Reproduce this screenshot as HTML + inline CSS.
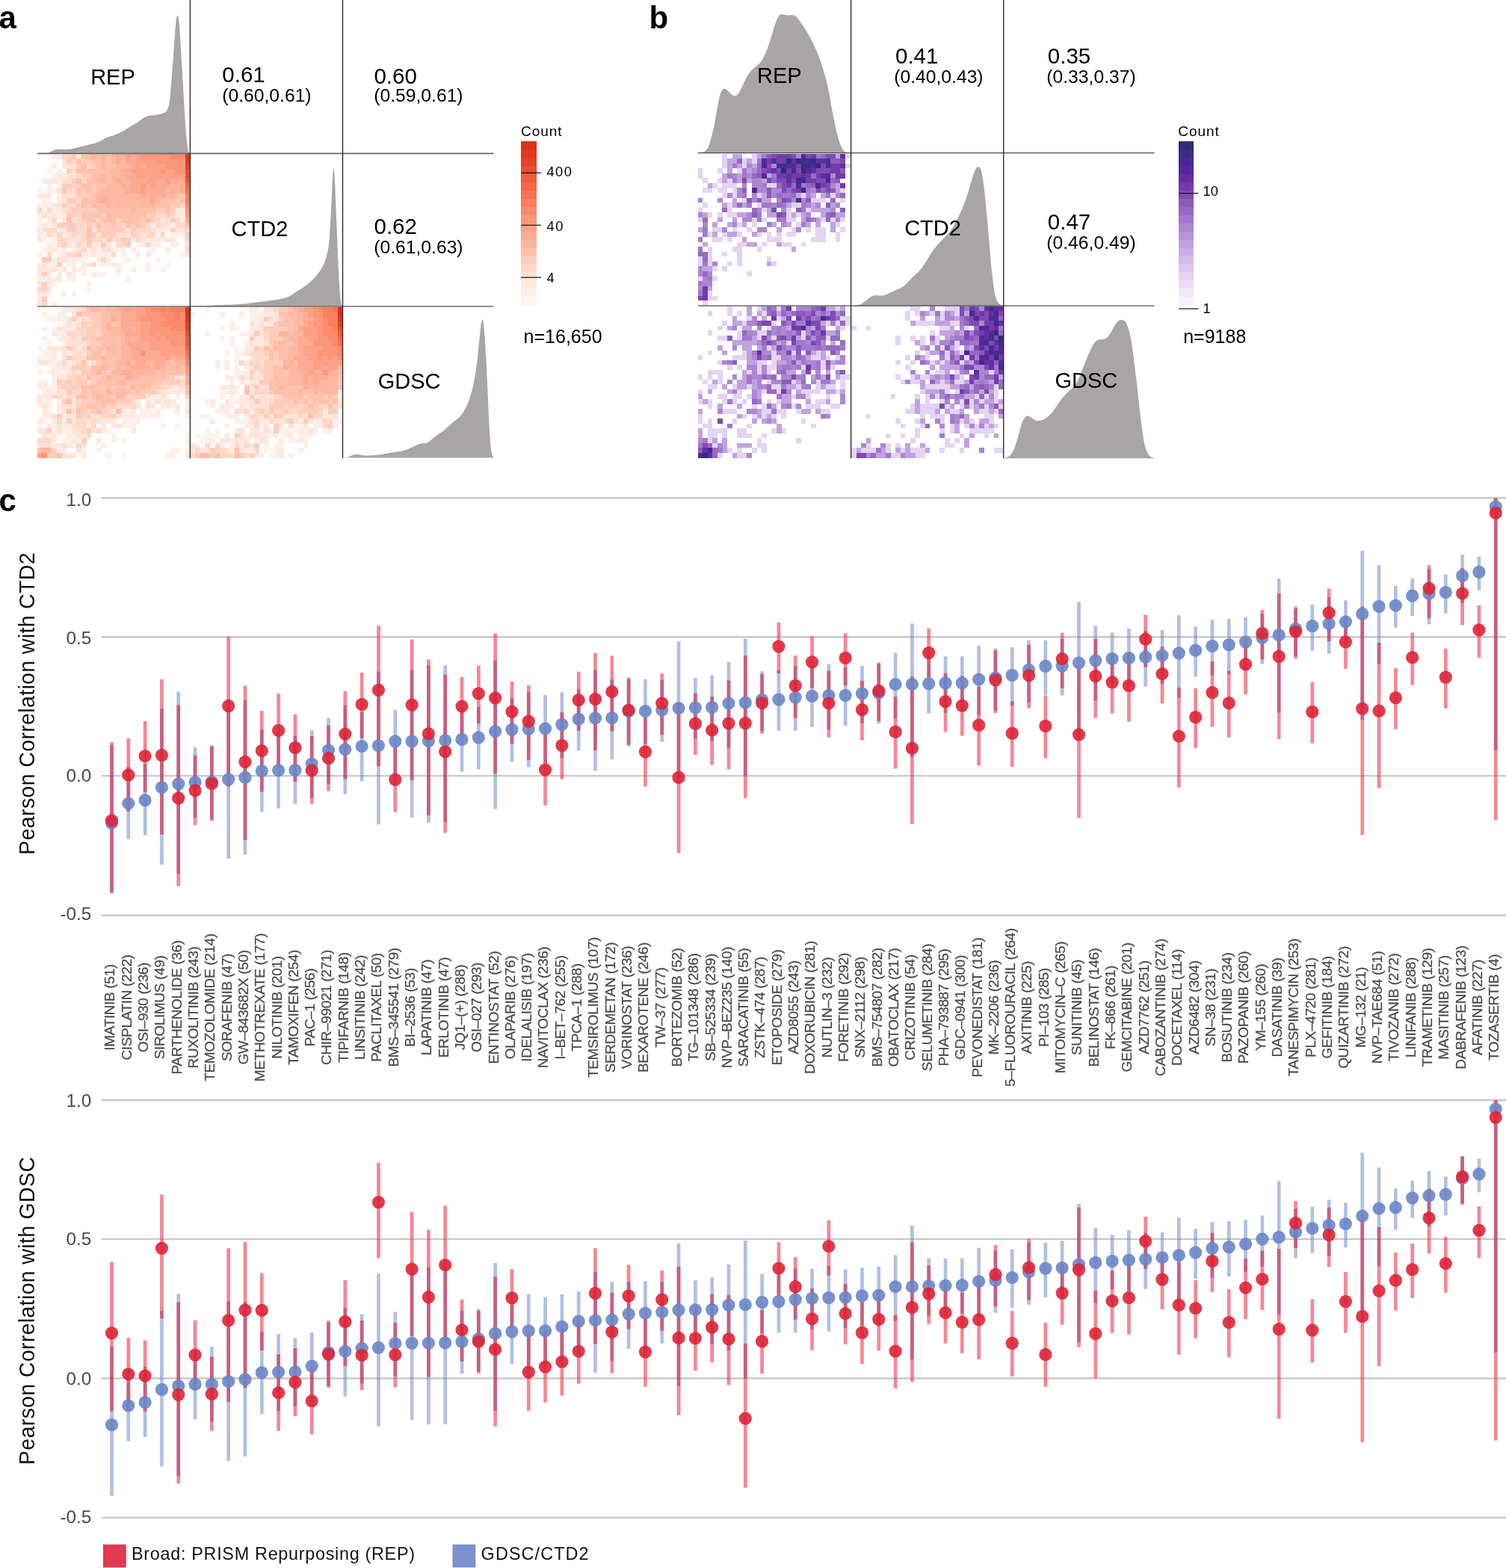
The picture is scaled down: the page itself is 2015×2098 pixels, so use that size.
<!DOCTYPE html>
<html><head><meta charset="utf-8"><title>Figure</title>
<style>html,body{margin:0;padding:0;background:#fff}svg{display:block}text{font-family:"Liberation Sans", sans-serif}</style></head><body>
<svg width="2015" height="2098" viewBox="0 0 2015 2098">
<rect width="2015" height="2098" fill="#fff"/>
<g shape-rendering="crispEdges">
<path fill="#feefe8" d="M69.3 206.0h6.75v6.72h-6.75zM75.9 206.0h6.75v6.72h-6.75zM69.3 219.1h6.75v6.72h-6.75zM62.7 225.7h6.75v6.72h-6.75zM75.9 225.7h6.75v6.72h-6.75zM69.3 232.3h6.75v6.72h-6.75zM62.7 245.4h6.75v6.72h-6.75zM75.9 245.4h6.75v6.72h-6.75zM49.5 252.0h6.75v6.72h-6.75zM62.7 252.0h6.75v6.72h-6.75zM69.3 252.0h6.75v6.72h-6.75zM75.9 258.5h6.75v6.72h-6.75zM56.1 265.1h6.75v6.72h-6.75zM62.7 265.1h6.75v6.72h-6.75zM49.5 271.7h6.75v6.72h-6.75zM56.1 271.7h6.75v6.72h-6.75zM62.7 271.7h6.75v6.72h-6.75zM56.1 278.2h6.75v6.72h-6.75zM69.3 278.2h6.75v6.72h-6.75zM49.5 284.8h6.75v6.72h-6.75zM75.9 284.8h6.75v6.72h-6.75zM241.0 284.8h6.75v6.72h-6.75zM49.5 291.4h6.75v6.72h-6.75zM49.5 297.9h6.75v6.72h-6.75zM62.7 297.9h6.75v6.72h-6.75zM227.8 297.9h6.75v6.72h-6.75zM75.9 304.5h6.75v6.72h-6.75zM221.2 304.5h6.75v6.72h-6.75zM56.1 311.1h6.75v6.72h-6.75zM208.0 311.1h6.75v6.72h-6.75zM227.8 311.1h6.75v6.72h-6.75zM234.4 311.1h6.75v6.72h-6.75zM241.0 311.1h6.75v6.72h-6.75zM56.1 317.7h6.75v6.72h-6.75zM69.3 317.7h6.75v6.72h-6.75zM194.8 317.7h6.75v6.72h-6.75zM214.6 317.7h6.75v6.72h-6.75zM69.3 324.2h6.75v6.72h-6.75zM95.7 324.2h6.75v6.72h-6.75zM181.5 324.2h6.75v6.72h-6.75zM188.2 324.2h6.75v6.72h-6.75zM201.4 324.2h6.75v6.72h-6.75zM208.0 324.2h6.75v6.72h-6.75zM227.8 324.2h6.75v6.72h-6.75zM234.4 324.2h6.75v6.72h-6.75zM56.1 330.8h6.75v6.72h-6.75zM75.9 330.8h6.75v6.72h-6.75zM95.7 330.8h6.75v6.72h-6.75zM115.5 330.8h6.75v6.72h-6.75zM128.7 330.8h6.75v6.72h-6.75zM148.5 330.8h6.75v6.72h-6.75zM155.1 330.8h6.75v6.72h-6.75zM161.7 330.8h6.75v6.72h-6.75zM174.9 330.8h6.75v6.72h-6.75zM201.4 330.8h6.75v6.72h-6.75zM49.5 337.4h6.75v6.72h-6.75zM75.9 337.4h6.75v6.72h-6.75zM115.5 337.4h6.75v6.72h-6.75zM128.7 337.4h6.75v6.72h-6.75zM135.3 337.4h6.75v6.72h-6.75zM141.9 337.4h6.75v6.72h-6.75zM161.7 337.4h6.75v6.72h-6.75zM241.0 337.4h6.75v6.72h-6.75zM69.3 343.9h6.75v6.72h-6.75zM89.1 343.9h6.75v6.72h-6.75zM102.3 343.9h6.75v6.72h-6.75zM108.9 343.9h6.75v6.72h-6.75zM141.9 343.9h6.75v6.72h-6.75zM168.3 343.9h6.75v6.72h-6.75zM208.0 343.9h6.75v6.72h-6.75zM62.7 350.5h6.75v6.72h-6.75zM69.3 350.5h6.75v6.72h-6.75zM89.1 350.5h6.75v6.72h-6.75zM95.7 350.5h6.75v6.72h-6.75zM135.3 350.5h6.75v6.72h-6.75zM141.9 350.5h6.75v6.72h-6.75zM155.1 350.5h6.75v6.72h-6.75zM194.8 350.5h6.75v6.72h-6.75zM221.2 350.5h6.75v6.72h-6.75zM75.9 357.1h6.75v6.72h-6.75zM102.3 357.1h6.75v6.72h-6.75zM108.9 357.1h6.75v6.72h-6.75zM174.9 357.1h6.75v6.72h-6.75zM194.8 357.1h6.75v6.72h-6.75zM214.6 357.1h6.75v6.72h-6.75zM95.7 363.6h6.75v6.72h-6.75zM108.9 363.6h6.75v6.72h-6.75zM128.7 363.6h6.75v6.72h-6.75zM135.3 363.6h6.75v6.72h-6.75zM155.1 363.6h6.75v6.72h-6.75zM49.5 370.2h6.75v6.72h-6.75zM56.1 370.2h6.75v6.72h-6.75zM89.1 370.2h6.75v6.72h-6.75zM95.7 370.2h6.75v6.72h-6.75zM168.3 370.2h6.75v6.72h-6.75zM69.3 376.8h6.75v6.72h-6.75zM115.5 376.8h6.75v6.72h-6.75zM115.5 383.3h6.75v6.72h-6.75zM62.7 389.9h6.75v6.72h-6.75zM95.7 389.9h6.75v6.72h-6.75zM69.3 403.0h6.75v6.72h-6.75zM56.1 417.0h6.75v6.66h-6.75zM75.9 417.0h6.75v6.66h-6.75zM82.5 417.0h6.75v6.66h-6.75zM62.7 423.5h6.75v6.66h-6.75zM69.3 423.5h6.75v6.66h-6.75zM75.9 423.5h6.75v6.66h-6.75zM82.5 423.5h6.75v6.66h-6.75zM82.5 430.0h6.75v6.66h-6.75zM56.1 436.6h6.75v6.66h-6.75zM69.3 436.6h6.75v6.66h-6.75zM75.9 443.1h6.75v6.66h-6.75zM56.1 449.6h6.75v6.66h-6.75zM62.7 456.1h6.75v6.66h-6.75zM82.5 456.1h6.75v6.66h-6.75zM49.5 462.6h6.75v6.66h-6.75zM56.1 469.1h6.75v6.66h-6.75zM62.7 469.1h6.75v6.66h-6.75zM89.1 469.1h6.75v6.66h-6.75zM49.5 475.6h6.75v6.66h-6.75zM56.1 475.6h6.75v6.66h-6.75zM62.7 475.6h6.75v6.66h-6.75zM69.3 475.6h6.75v6.66h-6.75zM69.3 482.1h6.75v6.66h-6.75zM89.1 482.1h6.75v6.66h-6.75zM69.3 488.7h6.75v6.66h-6.75zM49.5 495.2h6.75v6.66h-6.75zM62.7 495.2h6.75v6.66h-6.75zM75.9 495.2h6.75v6.66h-6.75zM82.5 495.2h6.75v6.66h-6.75zM69.3 501.7h6.75v6.66h-6.75zM49.5 508.2h6.75v6.66h-6.75zM56.1 508.2h6.75v6.66h-6.75zM69.3 508.2h6.75v6.66h-6.75zM62.7 514.7h6.75v6.66h-6.75zM69.3 514.7h6.75v6.66h-6.75zM56.1 521.2h6.75v6.66h-6.75zM69.3 521.2h6.75v6.66h-6.75zM201.4 527.7h6.75v6.66h-6.75zM208.0 527.7h6.75v6.66h-6.75zM221.2 527.7h6.75v6.66h-6.75zM234.4 527.7h6.75v6.66h-6.75zM56.1 534.2h6.75v6.66h-6.75zM75.9 534.2h6.75v6.66h-6.75zM201.4 534.2h6.75v6.66h-6.75zM49.5 540.8h6.75v6.66h-6.75zM62.7 540.8h6.75v6.66h-6.75zM227.8 540.8h6.75v6.66h-6.75zM62.7 547.3h6.75v6.66h-6.75zM75.9 547.3h6.75v6.66h-6.75zM161.7 547.3h6.75v6.66h-6.75zM168.3 547.3h6.75v6.66h-6.75zM188.2 547.3h6.75v6.66h-6.75zM194.8 547.3h6.75v6.66h-6.75zM208.0 547.3h6.75v6.66h-6.75zM56.1 553.8h6.75v6.66h-6.75zM181.5 553.8h6.75v6.66h-6.75zM188.2 553.8h6.75v6.66h-6.75zM194.8 553.8h6.75v6.66h-6.75zM208.0 553.8h6.75v6.66h-6.75zM247.6 553.8h6.75v6.66h-6.75zM56.1 560.3h6.75v6.66h-6.75zM82.5 560.3h6.75v6.66h-6.75zM161.7 560.3h6.75v6.66h-6.75zM168.3 560.3h6.75v6.66h-6.75zM174.9 560.3h6.75v6.66h-6.75zM181.5 560.3h6.75v6.66h-6.75zM49.5 566.8h6.75v6.66h-6.75zM69.3 566.8h6.75v6.66h-6.75zM161.7 566.8h6.75v6.66h-6.75zM168.3 566.8h6.75v6.66h-6.75zM174.9 566.8h6.75v6.66h-6.75zM214.6 566.8h6.75v6.66h-6.75zM234.4 566.8h6.75v6.66h-6.75zM69.3 573.3h6.75v6.66h-6.75zM82.5 573.3h6.75v6.66h-6.75zM89.1 573.3h6.75v6.66h-6.75zM141.9 573.3h6.75v6.66h-6.75zM62.7 579.8h6.75v6.66h-6.75zM75.9 579.8h6.75v6.66h-6.75zM95.7 579.8h6.75v6.66h-6.75zM148.5 579.8h6.75v6.66h-6.75zM247.6 579.8h6.75v6.66h-6.75zM82.5 586.3h6.75v6.66h-6.75zM89.1 586.3h6.75v6.66h-6.75zM102.3 586.3h6.75v6.66h-6.75zM148.5 586.3h6.75v6.66h-6.75zM161.7 586.3h6.75v6.66h-6.75zM247.6 586.3h6.75v6.66h-6.75zM95.7 592.9h6.75v6.66h-6.75zM135.3 592.9h6.75v6.66h-6.75zM247.6 592.9h6.75v6.66h-6.75zM75.9 599.4h6.75v6.66h-6.75zM108.9 599.4h6.75v6.66h-6.75zM128.7 599.4h6.75v6.66h-6.75zM227.8 599.4h6.75v6.66h-6.75zM234.4 599.4h6.75v6.66h-6.75zM247.6 599.4h6.75v6.66h-6.75zM141.9 605.9h6.75v6.66h-6.75zM161.7 605.9h6.75v6.66h-6.75zM221.2 605.9h6.75v6.66h-6.75zM227.8 605.9h6.75v6.66h-6.75zM274.3 410.5h6.72v6.66h-6.72zM340.0 410.5h6.72v6.66h-6.72zM254.6 417.0h6.72v6.66h-6.72zM294.0 417.0h6.72v6.66h-6.72zM320.3 417.0h6.72v6.66h-6.72zM333.5 417.0h6.72v6.66h-6.72zM340.0 417.0h6.72v6.66h-6.72zM333.5 423.5h6.72v6.66h-6.72zM307.2 430.0h6.72v6.66h-6.72zM340.0 430.0h6.72v6.66h-6.72zM353.2 430.0h6.72v6.66h-6.72zM294.0 436.6h6.72v6.66h-6.72zM307.2 436.6h6.72v6.66h-6.72zM313.7 436.6h6.72v6.66h-6.72zM274.3 443.1h6.72v6.66h-6.72zM320.3 443.1h6.72v6.66h-6.72zM326.9 443.1h6.72v6.66h-6.72zM294.0 449.6h6.72v6.66h-6.72zM307.2 449.6h6.72v6.66h-6.72zM307.2 456.1h6.72v6.66h-6.72zM326.9 456.1h6.72v6.66h-6.72zM313.7 462.6h6.72v6.66h-6.72zM333.5 462.6h6.72v6.66h-6.72zM300.6 469.1h6.72v6.66h-6.72zM313.7 469.1h6.72v6.66h-6.72zM320.3 469.1h6.72v6.66h-6.72zM313.7 475.6h6.72v6.66h-6.72zM300.6 482.1h6.72v6.66h-6.72zM313.7 482.1h6.72v6.66h-6.72zM287.5 488.7h6.72v6.66h-6.72zM313.7 488.7h6.72v6.66h-6.72zM313.7 495.2h6.72v6.66h-6.72zM320.3 495.2h6.72v6.66h-6.72zM326.9 495.2h6.72v6.66h-6.72zM307.2 501.7h6.72v6.66h-6.72zM313.7 501.7h6.72v6.66h-6.72zM307.2 508.2h6.72v6.66h-6.72zM326.9 508.2h6.72v6.66h-6.72zM313.7 514.7h6.72v6.66h-6.72zM294.0 521.2h6.72v6.66h-6.72zM300.6 521.2h6.72v6.66h-6.72zM313.7 521.2h6.72v6.66h-6.72zM294.0 527.7h6.72v6.66h-6.72zM307.2 527.7h6.72v6.66h-6.72zM451.7 527.7h6.72v6.66h-6.72zM274.3 534.2h6.72v6.66h-6.72zM307.2 534.2h6.72v6.66h-6.72zM313.7 534.2h6.72v6.66h-6.72zM280.9 540.8h6.72v6.66h-6.72zM300.6 540.8h6.72v6.66h-6.72zM307.2 540.8h6.72v6.66h-6.72zM326.9 540.8h6.72v6.66h-6.72zM287.5 547.3h6.72v6.66h-6.72zM294.0 547.3h6.72v6.66h-6.72zM300.6 547.3h6.72v6.66h-6.72zM333.5 547.3h6.72v6.66h-6.72zM267.7 553.8h6.72v6.66h-6.72zM274.3 553.8h6.72v6.66h-6.72zM300.6 553.8h6.72v6.66h-6.72zM313.7 553.8h6.72v6.66h-6.72zM313.7 560.3h6.72v6.66h-6.72zM320.3 560.3h6.72v6.66h-6.72zM326.9 560.3h6.72v6.66h-6.72zM418.9 560.3h6.72v6.66h-6.72zM445.2 560.3h6.72v6.66h-6.72zM451.7 560.3h6.72v6.66h-6.72zM300.6 566.8h6.72v6.66h-6.72zM333.5 566.8h6.72v6.66h-6.72zM346.6 566.8h6.72v6.66h-6.72zM392.6 566.8h6.72v6.66h-6.72zM399.2 566.8h6.72v6.66h-6.72zM418.9 566.8h6.72v6.66h-6.72zM425.4 566.8h6.72v6.66h-6.72zM445.2 566.8h6.72v6.66h-6.72zM274.3 573.3h6.72v6.66h-6.72zM287.5 573.3h6.72v6.66h-6.72zM346.6 573.3h6.72v6.66h-6.72zM359.7 573.3h6.72v6.66h-6.72zM372.9 573.3h6.72v6.66h-6.72zM379.4 573.3h6.72v6.66h-6.72zM386.0 573.3h6.72v6.66h-6.72zM392.6 573.3h6.72v6.66h-6.72zM405.7 573.3h6.72v6.66h-6.72zM418.9 573.3h6.72v6.66h-6.72zM432.0 573.3h6.72v6.66h-6.72zM261.2 579.8h6.72v6.66h-6.72zM274.3 579.8h6.72v6.66h-6.72zM280.9 579.8h6.72v6.66h-6.72zM287.5 579.8h6.72v6.66h-6.72zM326.9 579.8h6.72v6.66h-6.72zM359.7 579.8h6.72v6.66h-6.72zM379.4 579.8h6.72v6.66h-6.72zM399.2 579.8h6.72v6.66h-6.72zM405.7 579.8h6.72v6.66h-6.72zM412.3 579.8h6.72v6.66h-6.72zM267.7 586.3h6.72v6.66h-6.72zM274.3 586.3h6.72v6.66h-6.72zM280.9 586.3h6.72v6.66h-6.72zM340.0 586.3h6.72v6.66h-6.72zM386.0 586.3h6.72v6.66h-6.72zM392.6 586.3h6.72v6.66h-6.72zM405.7 586.3h6.72v6.66h-6.72zM261.2 592.9h6.72v6.66h-6.72zM307.2 592.9h6.72v6.66h-6.72zM353.2 592.9h6.72v6.66h-6.72zM366.3 592.9h6.72v6.66h-6.72zM372.9 592.9h6.72v6.66h-6.72zM405.7 592.9h6.72v6.66h-6.72zM326.9 599.4h6.72v6.66h-6.72zM333.5 599.4h6.72v6.66h-6.72zM353.2 599.4h6.72v6.66h-6.72zM366.3 599.4h6.72v6.66h-6.72zM399.2 599.4h6.72v6.66h-6.72zM346.6 605.9h6.72v6.66h-6.72zM359.7 605.9h6.72v6.66h-6.72zM366.3 605.9h6.72v6.66h-6.72zM386.0 605.9h6.72v6.66h-6.72z"/>
<path fill="#fed8c9" d="M82.5 206.0h6.75v6.72h-6.75zM89.1 206.0h6.75v6.72h-6.75zM95.7 212.6h6.75v6.72h-6.75zM115.5 219.1h6.75v6.72h-6.75zM95.7 225.7h6.75v6.72h-6.75zM102.3 232.3h6.75v6.72h-6.75zM108.9 238.8h6.75v6.72h-6.75zM95.7 245.4h6.75v6.72h-6.75zM89.1 252.0h6.75v6.72h-6.75zM102.3 265.1h6.75v6.72h-6.75zM89.1 271.7h6.75v6.72h-6.75zM95.7 271.7h6.75v6.72h-6.75zM241.0 271.7h6.75v6.72h-6.75zM49.5 278.2h6.75v6.72h-6.75zM62.7 278.2h6.75v6.72h-6.75zM89.1 278.2h6.75v6.72h-6.75zM102.3 284.8h6.75v6.72h-6.75zM208.0 284.8h6.75v6.72h-6.75zM214.6 284.8h6.75v6.72h-6.75zM227.8 284.8h6.75v6.72h-6.75zM69.3 291.4h6.75v6.72h-6.75zM102.3 291.4h6.75v6.72h-6.75zM128.7 291.4h6.75v6.72h-6.75zM208.0 291.4h6.75v6.72h-6.75zM234.4 291.4h6.75v6.72h-6.75zM102.3 297.9h6.75v6.72h-6.75zM108.9 297.9h6.75v6.72h-6.75zM122.1 297.9h6.75v6.72h-6.75zM161.7 297.9h6.75v6.72h-6.75zM194.8 297.9h6.75v6.72h-6.75zM208.0 297.9h6.75v6.72h-6.75zM234.4 297.9h6.75v6.72h-6.75zM241.0 297.9h6.75v6.72h-6.75zM62.7 304.5h6.75v6.72h-6.75zM69.3 304.5h6.75v6.72h-6.75zM102.3 304.5h6.75v6.72h-6.75zM108.9 304.5h6.75v6.72h-6.75zM181.5 304.5h6.75v6.72h-6.75zM188.2 304.5h6.75v6.72h-6.75zM194.8 304.5h6.75v6.72h-6.75zM247.6 304.5h6.75v6.72h-6.75zM62.7 311.1h6.75v6.72h-6.75zM75.9 311.1h6.75v6.72h-6.75zM95.7 311.1h6.75v6.72h-6.75zM108.9 311.1h6.75v6.72h-6.75zM161.7 311.1h6.75v6.72h-6.75zM181.5 311.1h6.75v6.72h-6.75zM194.8 311.1h6.75v6.72h-6.75zM201.4 311.1h6.75v6.72h-6.75zM214.6 311.1h6.75v6.72h-6.75zM75.9 317.7h6.75v6.72h-6.75zM82.5 317.7h6.75v6.72h-6.75zM108.9 317.7h6.75v6.72h-6.75zM122.1 317.7h6.75v6.72h-6.75zM128.7 317.7h6.75v6.72h-6.75zM155.1 317.7h6.75v6.72h-6.75zM181.5 317.7h6.75v6.72h-6.75zM247.6 317.7h6.75v6.72h-6.75zM75.9 324.2h6.75v6.72h-6.75zM102.3 324.2h6.75v6.72h-6.75zM155.1 324.2h6.75v6.72h-6.75zM161.7 324.2h6.75v6.72h-6.75zM194.8 324.2h6.75v6.72h-6.75zM108.9 330.8h6.75v6.72h-6.75zM247.6 330.8h6.75v6.72h-6.75zM62.7 337.4h6.75v6.72h-6.75zM89.1 337.4h6.75v6.72h-6.75zM95.7 337.4h6.75v6.72h-6.75zM148.5 337.4h6.75v6.72h-6.75zM135.3 343.9h6.75v6.72h-6.75zM122.1 350.5h6.75v6.72h-6.75zM49.5 383.3h6.75v6.72h-6.75zM56.1 403.0h6.75v6.72h-6.75zM108.9 410.5h6.75v6.66h-6.75zM108.9 423.5h6.75v6.66h-6.75zM115.5 430.0h6.75v6.66h-6.75zM102.3 436.6h6.75v6.66h-6.75zM108.9 436.6h6.75v6.66h-6.75zM89.1 443.1h6.75v6.66h-6.75zM95.7 443.1h6.75v6.66h-6.75zM102.3 443.1h6.75v6.66h-6.75zM108.9 443.1h6.75v6.66h-6.75zM128.7 443.1h6.75v6.66h-6.75zM95.7 449.6h6.75v6.66h-6.75zM115.5 456.1h6.75v6.66h-6.75zM95.7 462.6h6.75v6.66h-6.75zM108.9 462.6h6.75v6.66h-6.75zM102.3 469.1h6.75v6.66h-6.75zM95.7 475.6h6.75v6.66h-6.75zM102.3 475.6h6.75v6.66h-6.75zM108.9 475.6h6.75v6.66h-6.75zM82.5 482.1h6.75v6.66h-6.75zM102.3 482.1h6.75v6.66h-6.75zM122.1 482.1h6.75v6.66h-6.75zM115.5 488.7h6.75v6.66h-6.75zM95.7 495.2h6.75v6.66h-6.75zM89.1 501.7h6.75v6.66h-6.75zM95.7 501.7h6.75v6.66h-6.75zM108.9 501.7h6.75v6.66h-6.75zM82.5 508.2h6.75v6.66h-6.75zM95.7 508.2h6.75v6.66h-6.75zM115.5 508.2h6.75v6.66h-6.75zM241.0 508.2h6.75v6.66h-6.75zM75.9 514.7h6.75v6.66h-6.75zM89.1 514.7h6.75v6.66h-6.75zM214.6 514.7h6.75v6.66h-6.75zM221.2 514.7h6.75v6.66h-6.75zM95.7 521.2h6.75v6.66h-6.75zM102.3 521.2h6.75v6.66h-6.75zM208.0 521.2h6.75v6.66h-6.75zM69.3 527.7h6.75v6.66h-6.75zM75.9 527.7h6.75v6.66h-6.75zM89.1 527.7h6.75v6.66h-6.75zM168.3 527.7h6.75v6.66h-6.75zM247.6 527.7h6.75v6.66h-6.75zM102.3 534.2h6.75v6.66h-6.75zM174.9 534.2h6.75v6.66h-6.75zM141.9 540.8h6.75v6.66h-6.75zM161.7 540.8h6.75v6.66h-6.75zM174.9 540.8h6.75v6.66h-6.75zM115.5 547.3h6.75v6.66h-6.75zM141.9 547.3h6.75v6.66h-6.75zM108.9 553.8h6.75v6.66h-6.75zM135.3 553.8h6.75v6.66h-6.75zM141.9 553.8h6.75v6.66h-6.75zM75.9 560.3h6.75v6.66h-6.75zM102.3 560.3h6.75v6.66h-6.75zM108.9 560.3h6.75v6.66h-6.75zM122.1 560.3h6.75v6.66h-6.75zM102.3 566.8h6.75v6.66h-6.75zM108.9 566.8h6.75v6.66h-6.75zM122.1 566.8h6.75v6.66h-6.75zM108.9 573.3h6.75v6.66h-6.75zM128.7 573.3h6.75v6.66h-6.75zM115.5 579.8h6.75v6.66h-6.75zM49.5 586.3h6.75v6.66h-6.75zM56.1 586.3h6.75v6.66h-6.75zM62.7 586.3h6.75v6.66h-6.75zM102.3 592.9h6.75v6.66h-6.75zM366.3 410.5h6.72v6.66h-6.72zM353.2 443.1h6.72v6.66h-6.72zM353.2 449.6h6.72v6.66h-6.72zM346.6 462.6h6.72v6.66h-6.72zM333.5 469.1h6.72v6.66h-6.72zM340.0 469.1h6.72v6.66h-6.72zM346.6 469.1h6.72v6.66h-6.72zM340.0 475.6h6.72v6.66h-6.72zM346.6 475.6h6.72v6.66h-6.72zM353.2 475.6h6.72v6.66h-6.72zM320.3 482.1h6.72v6.66h-6.72zM333.5 482.1h6.72v6.66h-6.72zM340.0 482.1h6.72v6.66h-6.72zM346.6 488.7h6.72v6.66h-6.72zM346.6 495.2h6.72v6.66h-6.72zM320.3 501.7h6.72v6.66h-6.72zM333.5 501.7h6.72v6.66h-6.72zM340.0 521.2h6.72v6.66h-6.72zM346.6 521.2h6.72v6.66h-6.72zM353.2 521.2h6.72v6.66h-6.72zM366.3 527.7h6.72v6.66h-6.72zM359.7 534.2h6.72v6.66h-6.72zM379.4 540.8h6.72v6.66h-6.72zM399.2 540.8h6.72v6.66h-6.72zM425.4 540.8h6.72v6.66h-6.72zM432.0 540.8h6.72v6.66h-6.72zM445.2 540.8h6.72v6.66h-6.72zM313.7 547.3h6.72v6.66h-6.72zM326.9 547.3h6.72v6.66h-6.72zM340.0 547.3h6.72v6.66h-6.72zM353.2 547.3h6.72v6.66h-6.72zM366.3 547.3h6.72v6.66h-6.72zM372.9 547.3h6.72v6.66h-6.72zM386.0 547.3h6.72v6.66h-6.72zM392.6 547.3h6.72v6.66h-6.72zM425.4 547.3h6.72v6.66h-6.72zM333.5 553.8h6.72v6.66h-6.72zM340.0 553.8h6.72v6.66h-6.72zM399.2 553.8h6.72v6.66h-6.72zM418.9 553.8h6.72v6.66h-6.72zM425.4 553.8h6.72v6.66h-6.72zM340.0 560.3h6.72v6.66h-6.72zM359.7 560.3h6.72v6.66h-6.72zM379.4 560.3h6.72v6.66h-6.72zM432.0 560.3h6.72v6.66h-6.72zM438.6 560.3h6.72v6.66h-6.72zM340.0 566.8h6.72v6.66h-6.72zM432.0 566.8h6.72v6.66h-6.72zM274.3 592.9h6.72v6.66h-6.72zM287.5 592.9h6.72v6.66h-6.72zM313.7 592.9h6.72v6.66h-6.72zM326.9 592.9h6.72v6.66h-6.72zM261.2 599.4h6.72v6.66h-6.72zM287.5 599.4h6.72v6.66h-6.72zM294.0 599.4h6.72v6.66h-6.72zM340.0 599.4h6.72v6.66h-6.72zM254.6 605.9h6.72v6.66h-6.72zM294.0 605.9h6.72v6.66h-6.72zM300.6 605.9h6.72v6.66h-6.72zM307.2 605.9h6.72v6.66h-6.72zM326.9 605.9h6.72v6.66h-6.72z"/>
<path fill="#feccba" d="M95.7 206.0h6.75v6.72h-6.75zM89.1 212.6h6.75v6.72h-6.75zM108.9 212.6h6.75v6.72h-6.75zM115.5 212.6h6.75v6.72h-6.75zM102.3 219.1h6.75v6.72h-6.75zM122.1 219.1h6.75v6.72h-6.75zM89.1 225.7h6.75v6.72h-6.75zM108.9 232.3h6.75v6.72h-6.75zM115.5 232.3h6.75v6.72h-6.75zM95.7 238.8h6.75v6.72h-6.75zM82.5 245.4h6.75v6.72h-6.75zM89.1 245.4h6.75v6.72h-6.75zM102.3 245.4h6.75v6.72h-6.75zM122.1 245.4h6.75v6.72h-6.75zM82.5 252.0h6.75v6.72h-6.75zM108.9 252.0h6.75v6.72h-6.75zM122.1 252.0h6.75v6.72h-6.75zM102.3 258.5h6.75v6.72h-6.75zM108.9 258.5h6.75v6.72h-6.75zM115.5 258.5h6.75v6.72h-6.75zM241.0 258.5h6.75v6.72h-6.75zM89.1 265.1h6.75v6.72h-6.75zM95.7 265.1h6.75v6.72h-6.75zM234.4 265.1h6.75v6.72h-6.75zM82.5 271.7h6.75v6.72h-6.75zM102.3 271.7h6.75v6.72h-6.75zM115.5 271.7h6.75v6.72h-6.75zM227.8 271.7h6.75v6.72h-6.75zM234.4 271.7h6.75v6.72h-6.75zM95.7 278.2h6.75v6.72h-6.75zM102.3 278.2h6.75v6.72h-6.75zM108.9 278.2h6.75v6.72h-6.75zM115.5 278.2h6.75v6.72h-6.75zM122.1 278.2h6.75v6.72h-6.75zM208.0 278.2h6.75v6.72h-6.75zM214.6 278.2h6.75v6.72h-6.75zM227.8 278.2h6.75v6.72h-6.75zM89.1 284.8h6.75v6.72h-6.75zM95.7 284.8h6.75v6.72h-6.75zM115.5 284.8h6.75v6.72h-6.75zM135.3 284.8h6.75v6.72h-6.75zM194.8 284.8h6.75v6.72h-6.75zM201.4 284.8h6.75v6.72h-6.75zM221.2 284.8h6.75v6.72h-6.75zM108.9 291.4h6.75v6.72h-6.75zM155.1 291.4h6.75v6.72h-6.75zM188.2 291.4h6.75v6.72h-6.75zM201.4 291.4h6.75v6.72h-6.75zM227.8 291.4h6.75v6.72h-6.75zM75.9 297.9h6.75v6.72h-6.75zM82.5 297.9h6.75v6.72h-6.75zM89.1 297.9h6.75v6.72h-6.75zM95.7 297.9h6.75v6.72h-6.75zM115.5 297.9h6.75v6.72h-6.75zM135.3 297.9h6.75v6.72h-6.75zM141.9 297.9h6.75v6.72h-6.75zM155.1 297.9h6.75v6.72h-6.75zM174.9 297.9h6.75v6.72h-6.75zM188.2 297.9h6.75v6.72h-6.75zM89.1 304.5h6.75v6.72h-6.75zM95.7 304.5h6.75v6.72h-6.75zM128.7 304.5h6.75v6.72h-6.75zM135.3 304.5h6.75v6.72h-6.75zM141.9 304.5h6.75v6.72h-6.75zM148.5 304.5h6.75v6.72h-6.75zM155.1 304.5h6.75v6.72h-6.75zM161.7 304.5h6.75v6.72h-6.75zM174.9 304.5h6.75v6.72h-6.75zM227.8 304.5h6.75v6.72h-6.75zM122.1 311.1h6.75v6.72h-6.75zM135.3 311.1h6.75v6.72h-6.75zM141.9 311.1h6.75v6.72h-6.75zM148.5 311.1h6.75v6.72h-6.75zM174.9 311.1h6.75v6.72h-6.75zM247.6 311.1h6.75v6.72h-6.75zM115.5 317.7h6.75v6.72h-6.75zM141.9 317.7h6.75v6.72h-6.75zM161.7 317.7h6.75v6.72h-6.75zM168.3 317.7h6.75v6.72h-6.75zM82.5 324.2h6.75v6.72h-6.75zM115.5 324.2h6.75v6.72h-6.75zM135.3 324.2h6.75v6.72h-6.75zM168.3 324.2h6.75v6.72h-6.75zM102.3 337.4h6.75v6.72h-6.75zM56.1 343.9h6.75v6.72h-6.75zM62.7 343.9h6.75v6.72h-6.75zM75.9 350.5h6.75v6.72h-6.75zM56.1 363.6h6.75v6.72h-6.75zM56.1 376.8h6.75v6.72h-6.75zM56.1 383.3h6.75v6.72h-6.75zM56.1 396.5h6.75v6.72h-6.75zM108.9 417.0h6.75v6.66h-6.75zM115.5 417.0h6.75v6.66h-6.75zM122.1 417.0h6.75v6.66h-6.75zM128.7 417.0h6.75v6.66h-6.75zM95.7 423.5h6.75v6.66h-6.75zM122.1 423.5h6.75v6.66h-6.75zM128.7 423.5h6.75v6.66h-6.75zM108.9 430.0h6.75v6.66h-6.75zM122.1 430.0h6.75v6.66h-6.75zM128.7 430.0h6.75v6.66h-6.75zM115.5 436.6h6.75v6.66h-6.75zM122.1 436.6h6.75v6.66h-6.75zM128.7 436.6h6.75v6.66h-6.75zM115.5 443.1h6.75v6.66h-6.75zM122.1 443.1h6.75v6.66h-6.75zM108.9 449.6h6.75v6.66h-6.75zM115.5 449.6h6.75v6.66h-6.75zM122.1 449.6h6.75v6.66h-6.75zM122.1 456.1h6.75v6.66h-6.75zM128.7 456.1h6.75v6.66h-6.75zM89.1 462.6h6.75v6.66h-6.75zM122.1 462.6h6.75v6.66h-6.75zM115.5 469.1h6.75v6.66h-6.75zM135.3 469.1h6.75v6.66h-6.75zM89.1 475.6h6.75v6.66h-6.75zM128.7 482.1h6.75v6.66h-6.75zM95.7 488.7h6.75v6.66h-6.75zM102.3 488.7h6.75v6.66h-6.75zM108.9 488.7h6.75v6.66h-6.75zM108.9 495.2h6.75v6.66h-6.75zM115.5 495.2h6.75v6.66h-6.75zM141.9 495.2h6.75v6.66h-6.75zM102.3 501.7h6.75v6.66h-6.75zM122.1 501.7h6.75v6.66h-6.75zM128.7 501.7h6.75v6.66h-6.75zM221.2 501.7h6.75v6.66h-6.75zM227.8 501.7h6.75v6.66h-6.75zM75.9 508.2h6.75v6.66h-6.75zM89.1 508.2h6.75v6.66h-6.75zM102.3 508.2h6.75v6.66h-6.75zM108.9 508.2h6.75v6.66h-6.75zM122.1 508.2h6.75v6.66h-6.75zM208.0 508.2h6.75v6.66h-6.75zM214.6 508.2h6.75v6.66h-6.75zM221.2 508.2h6.75v6.66h-6.75zM227.8 508.2h6.75v6.66h-6.75zM234.4 508.2h6.75v6.66h-6.75zM82.5 514.7h6.75v6.66h-6.75zM95.7 514.7h6.75v6.66h-6.75zM102.3 514.7h6.75v6.66h-6.75zM128.7 514.7h6.75v6.66h-6.75zM135.3 514.7h6.75v6.66h-6.75zM148.5 514.7h6.75v6.66h-6.75zM168.3 514.7h6.75v6.66h-6.75zM201.4 514.7h6.75v6.66h-6.75zM208.0 514.7h6.75v6.66h-6.75zM89.1 521.2h6.75v6.66h-6.75zM115.5 521.2h6.75v6.66h-6.75zM135.3 521.2h6.75v6.66h-6.75zM174.9 521.2h6.75v6.66h-6.75zM188.2 521.2h6.75v6.66h-6.75zM194.8 521.2h6.75v6.66h-6.75zM201.4 521.2h6.75v6.66h-6.75zM115.5 527.7h6.75v6.66h-6.75zM148.5 527.7h6.75v6.66h-6.75zM174.9 527.7h6.75v6.66h-6.75zM181.5 527.7h6.75v6.66h-6.75zM188.2 527.7h6.75v6.66h-6.75zM82.5 534.2h6.75v6.66h-6.75zM108.9 534.2h6.75v6.66h-6.75zM115.5 534.2h6.75v6.66h-6.75zM122.1 534.2h6.75v6.66h-6.75zM155.1 534.2h6.75v6.66h-6.75zM161.7 534.2h6.75v6.66h-6.75zM168.3 534.2h6.75v6.66h-6.75zM102.3 540.8h6.75v6.66h-6.75zM108.9 540.8h6.75v6.66h-6.75zM128.7 540.8h6.75v6.66h-6.75zM148.5 540.8h6.75v6.66h-6.75zM108.9 547.3h6.75v6.66h-6.75zM122.1 547.3h6.75v6.66h-6.75zM135.3 547.3h6.75v6.66h-6.75zM75.9 553.8h6.75v6.66h-6.75zM102.3 553.8h6.75v6.66h-6.75zM115.5 553.8h6.75v6.66h-6.75zM148.5 553.8h6.75v6.66h-6.75zM89.1 560.3h6.75v6.66h-6.75zM62.7 573.3h6.75v6.66h-6.75zM115.5 573.3h6.75v6.66h-6.75zM108.9 586.3h6.75v6.66h-6.75zM69.3 599.4h6.75v6.66h-6.75zM62.7 605.9h6.75v6.66h-6.75zM69.3 605.9h6.75v6.66h-6.75zM372.9 410.5h6.72v6.66h-6.72zM379.4 410.5h6.72v6.66h-6.72zM353.2 423.5h6.72v6.66h-6.72zM372.9 423.5h6.72v6.66h-6.72zM366.3 430.0h6.72v6.66h-6.72zM353.2 436.6h6.72v6.66h-6.72zM359.7 436.6h6.72v6.66h-6.72zM366.3 436.6h6.72v6.66h-6.72zM372.9 436.6h6.72v6.66h-6.72zM379.4 436.6h6.72v6.66h-6.72zM340.0 443.1h6.72v6.66h-6.72zM359.7 443.1h6.72v6.66h-6.72zM366.3 443.1h6.72v6.66h-6.72zM333.5 449.6h6.72v6.66h-6.72zM359.7 449.6h6.72v6.66h-6.72zM366.3 449.6h6.72v6.66h-6.72zM372.9 449.6h6.72v6.66h-6.72zM359.7 456.1h6.72v6.66h-6.72zM340.0 462.6h6.72v6.66h-6.72zM359.7 462.6h6.72v6.66h-6.72zM353.2 469.1h6.72v6.66h-6.72zM366.3 469.1h6.72v6.66h-6.72zM366.3 475.6h6.72v6.66h-6.72zM353.2 482.1h6.72v6.66h-6.72zM359.7 482.1h6.72v6.66h-6.72zM366.3 482.1h6.72v6.66h-6.72zM372.9 482.1h6.72v6.66h-6.72zM340.0 488.7h6.72v6.66h-6.72zM353.2 488.7h6.72v6.66h-6.72zM359.7 488.7h6.72v6.66h-6.72zM333.5 495.2h6.72v6.66h-6.72zM353.2 495.2h6.72v6.66h-6.72zM359.7 495.2h6.72v6.66h-6.72zM379.4 495.2h6.72v6.66h-6.72zM353.2 501.7h6.72v6.66h-6.72zM359.7 501.7h6.72v6.66h-6.72zM346.6 508.2h6.72v6.66h-6.72zM353.2 508.2h6.72v6.66h-6.72zM451.7 508.2h6.72v6.66h-6.72zM326.9 514.7h6.72v6.66h-6.72zM340.0 514.7h6.72v6.66h-6.72zM359.7 521.2h6.72v6.66h-6.72zM333.5 527.7h6.72v6.66h-6.72zM372.9 527.7h6.72v6.66h-6.72zM405.7 527.7h6.72v6.66h-6.72zM432.0 527.7h6.72v6.66h-6.72zM445.2 527.7h6.72v6.66h-6.72zM340.0 534.2h6.72v6.66h-6.72zM366.3 534.2h6.72v6.66h-6.72zM372.9 534.2h6.72v6.66h-6.72zM379.4 534.2h6.72v6.66h-6.72zM386.0 534.2h6.72v6.66h-6.72zM399.2 534.2h6.72v6.66h-6.72zM412.3 534.2h6.72v6.66h-6.72zM438.6 534.2h6.72v6.66h-6.72zM359.7 540.8h6.72v6.66h-6.72zM366.3 540.8h6.72v6.66h-6.72zM372.9 540.8h6.72v6.66h-6.72zM386.0 540.8h6.72v6.66h-6.72zM392.6 540.8h6.72v6.66h-6.72zM405.7 540.8h6.72v6.66h-6.72zM418.9 540.8h6.72v6.66h-6.72zM346.6 547.3h6.72v6.66h-6.72zM359.7 547.3h6.72v6.66h-6.72zM379.4 547.3h6.72v6.66h-6.72zM399.2 547.3h6.72v6.66h-6.72zM405.7 547.3h6.72v6.66h-6.72zM412.3 547.3h6.72v6.66h-6.72zM418.9 547.3h6.72v6.66h-6.72zM438.6 547.3h6.72v6.66h-6.72zM445.2 547.3h6.72v6.66h-6.72zM353.2 553.8h6.72v6.66h-6.72zM366.3 553.8h6.72v6.66h-6.72zM372.9 553.8h6.72v6.66h-6.72zM386.0 560.3h6.72v6.66h-6.72zM405.7 560.3h6.72v6.66h-6.72zM366.3 566.8h6.72v6.66h-6.72zM438.6 566.8h6.72v6.66h-6.72zM366.3 573.3h6.72v6.66h-6.72zM313.7 579.8h6.72v6.66h-6.72zM340.0 592.9h6.72v6.66h-6.72zM280.9 599.4h6.72v6.66h-6.72zM261.2 605.9h6.72v6.66h-6.72zM280.9 605.9h6.72v6.66h-6.72zM320.3 605.9h6.72v6.66h-6.72zM333.5 605.9h6.72v6.66h-6.72z"/>
<path fill="#fee2d7" d="M102.3 206.0h6.75v6.72h-6.75zM82.5 212.6h6.75v6.72h-6.75zM89.1 219.1h6.75v6.72h-6.75zM95.7 219.1h6.75v6.72h-6.75zM89.1 232.3h6.75v6.72h-6.75zM95.7 232.3h6.75v6.72h-6.75zM82.5 238.8h6.75v6.72h-6.75zM89.1 238.8h6.75v6.72h-6.75zM75.9 252.0h6.75v6.72h-6.75zM95.7 252.0h6.75v6.72h-6.75zM82.5 258.5h6.75v6.72h-6.75zM89.1 258.5h6.75v6.72h-6.75zM95.7 258.5h6.75v6.72h-6.75zM82.5 265.1h6.75v6.72h-6.75zM75.9 271.7h6.75v6.72h-6.75zM82.5 278.2h6.75v6.72h-6.75zM56.1 284.8h6.75v6.72h-6.75zM82.5 291.4h6.75v6.72h-6.75zM95.7 291.4h6.75v6.72h-6.75zM221.2 291.4h6.75v6.72h-6.75zM214.6 297.9h6.75v6.72h-6.75zM221.2 297.9h6.75v6.72h-6.75zM56.1 304.5h6.75v6.72h-6.75zM122.1 304.5h6.75v6.72h-6.75zM168.3 304.5h6.75v6.72h-6.75zM201.4 304.5h6.75v6.72h-6.75zM241.0 304.5h6.75v6.72h-6.75zM89.1 311.1h6.75v6.72h-6.75zM102.3 311.1h6.75v6.72h-6.75zM128.7 311.1h6.75v6.72h-6.75zM155.1 311.1h6.75v6.72h-6.75zM168.3 311.1h6.75v6.72h-6.75zM188.2 311.1h6.75v6.72h-6.75zM49.5 317.7h6.75v6.72h-6.75zM89.1 317.7h6.75v6.72h-6.75zM95.7 317.7h6.75v6.72h-6.75zM102.3 317.7h6.75v6.72h-6.75zM135.3 317.7h6.75v6.72h-6.75zM148.5 317.7h6.75v6.72h-6.75zM188.2 317.7h6.75v6.72h-6.75zM221.2 317.7h6.75v6.72h-6.75zM89.1 324.2h6.75v6.72h-6.75zM108.9 324.2h6.75v6.72h-6.75zM247.6 324.2h6.75v6.72h-6.75zM102.3 330.8h6.75v6.72h-6.75zM122.1 330.8h6.75v6.72h-6.75zM135.3 330.8h6.75v6.72h-6.75zM141.9 330.8h6.75v6.72h-6.75zM75.9 343.9h6.75v6.72h-6.75zM82.5 343.9h6.75v6.72h-6.75zM56.1 350.5h6.75v6.72h-6.75zM69.3 357.1h6.75v6.72h-6.75zM82.5 357.1h6.75v6.72h-6.75zM89.1 363.6h6.75v6.72h-6.75zM49.5 376.8h6.75v6.72h-6.75zM49.5 403.0h6.75v6.72h-6.75zM102.3 410.5h6.75v6.66h-6.75zM95.7 417.0h6.75v6.66h-6.75zM89.1 423.5h6.75v6.66h-6.75zM115.5 423.5h6.75v6.66h-6.75zM89.1 430.0h6.75v6.66h-6.75zM102.3 430.0h6.75v6.66h-6.75zM75.9 436.6h6.75v6.66h-6.75zM102.3 449.6h6.75v6.66h-6.75zM89.1 456.1h6.75v6.66h-6.75zM95.7 456.1h6.75v6.66h-6.75zM102.3 456.1h6.75v6.66h-6.75zM108.9 456.1h6.75v6.66h-6.75zM69.3 462.6h6.75v6.66h-6.75zM82.5 462.6h6.75v6.66h-6.75zM82.5 469.1h6.75v6.66h-6.75zM95.7 469.1h6.75v6.66h-6.75zM108.9 469.1h6.75v6.66h-6.75zM82.5 475.6h6.75v6.66h-6.75zM56.1 482.1h6.75v6.66h-6.75zM95.7 482.1h6.75v6.66h-6.75zM82.5 488.7h6.75v6.66h-6.75zM89.1 495.2h6.75v6.66h-6.75zM102.3 495.2h6.75v6.66h-6.75zM75.9 501.7h6.75v6.66h-6.75zM234.4 501.7h6.75v6.66h-6.75zM241.0 501.7h6.75v6.66h-6.75zM227.8 514.7h6.75v6.66h-6.75zM241.0 514.7h6.75v6.66h-6.75zM75.9 521.2h6.75v6.66h-6.75zM82.5 521.2h6.75v6.66h-6.75zM214.6 521.2h6.75v6.66h-6.75zM95.7 527.7h6.75v6.66h-6.75zM214.6 527.7h6.75v6.66h-6.75zM49.5 534.2h6.75v6.66h-6.75zM95.7 534.2h6.75v6.66h-6.75zM208.0 534.2h6.75v6.66h-6.75zM221.2 534.2h6.75v6.66h-6.75zM56.1 540.8h6.75v6.66h-6.75zM82.5 540.8h6.75v6.66h-6.75zM89.1 540.8h6.75v6.66h-6.75zM95.7 540.8h6.75v6.66h-6.75zM155.1 540.8h6.75v6.66h-6.75zM168.3 540.8h6.75v6.66h-6.75zM181.5 540.8h6.75v6.66h-6.75zM194.8 540.8h6.75v6.66h-6.75zM82.5 547.3h6.75v6.66h-6.75zM95.7 547.3h6.75v6.66h-6.75zM148.5 547.3h6.75v6.66h-6.75zM247.6 547.3h6.75v6.66h-6.75zM69.3 553.8h6.75v6.66h-6.75zM89.1 553.8h6.75v6.66h-6.75zM95.7 553.8h6.75v6.66h-6.75zM122.1 553.8h6.75v6.66h-6.75zM128.7 553.8h6.75v6.66h-6.75zM155.1 553.8h6.75v6.66h-6.75zM95.7 560.3h6.75v6.66h-6.75zM115.5 560.3h6.75v6.66h-6.75zM128.7 560.3h6.75v6.66h-6.75zM75.9 566.8h6.75v6.66h-6.75zM95.7 566.8h6.75v6.66h-6.75zM155.1 566.8h6.75v6.66h-6.75zM56.1 573.3h6.75v6.66h-6.75zM75.9 573.3h6.75v6.66h-6.75zM95.7 573.3h6.75v6.66h-6.75zM102.3 573.3h6.75v6.66h-6.75zM122.1 573.3h6.75v6.66h-6.75zM56.1 579.8h6.75v6.66h-6.75zM102.3 579.8h6.75v6.66h-6.75zM128.7 586.3h6.75v6.66h-6.75zM49.5 592.9h6.75v6.66h-6.75zM56.1 592.9h6.75v6.66h-6.75zM62.7 592.9h6.75v6.66h-6.75zM82.5 592.9h6.75v6.66h-6.75zM102.3 599.4h6.75v6.66h-6.75zM82.5 605.9h6.75v6.66h-6.75zM89.1 605.9h6.75v6.66h-6.75zM95.7 605.9h6.75v6.66h-6.75zM353.2 410.5h6.72v6.66h-6.72zM359.7 410.5h6.72v6.66h-6.72zM366.3 417.0h6.72v6.66h-6.72zM359.7 423.5h6.72v6.66h-6.72zM366.3 423.5h6.72v6.66h-6.72zM333.5 430.0h6.72v6.66h-6.72zM346.6 430.0h6.72v6.66h-6.72zM346.6 436.6h6.72v6.66h-6.72zM346.6 443.1h6.72v6.66h-6.72zM333.5 456.1h6.72v6.66h-6.72zM353.2 456.1h6.72v6.66h-6.72zM326.9 469.1h6.72v6.66h-6.72zM346.6 482.1h6.72v6.66h-6.72zM333.5 488.7h6.72v6.66h-6.72zM340.0 501.7h6.72v6.66h-6.72zM346.6 501.7h6.72v6.66h-6.72zM333.5 508.2h6.72v6.66h-6.72zM340.0 508.2h6.72v6.66h-6.72zM333.5 514.7h6.72v6.66h-6.72zM346.6 514.7h6.72v6.66h-6.72zM353.2 514.7h6.72v6.66h-6.72zM340.0 527.7h6.72v6.66h-6.72zM346.6 527.7h6.72v6.66h-6.72zM353.2 527.7h6.72v6.66h-6.72zM359.7 527.7h6.72v6.66h-6.72zM300.6 534.2h6.72v6.66h-6.72zM333.5 534.2h6.72v6.66h-6.72zM346.6 534.2h6.72v6.66h-6.72zM353.2 534.2h6.72v6.66h-6.72zM320.3 540.8h6.72v6.66h-6.72zM333.5 540.8h6.72v6.66h-6.72zM340.0 540.8h6.72v6.66h-6.72zM346.6 540.8h6.72v6.66h-6.72zM353.2 540.8h6.72v6.66h-6.72zM451.7 540.8h6.72v6.66h-6.72zM320.3 547.3h6.72v6.66h-6.72zM346.6 553.8h6.72v6.66h-6.72zM359.7 553.8h6.72v6.66h-6.72zM386.0 553.8h6.72v6.66h-6.72zM405.7 553.8h6.72v6.66h-6.72zM445.2 553.8h6.72v6.66h-6.72zM333.5 560.3h6.72v6.66h-6.72zM366.3 560.3h6.72v6.66h-6.72zM392.6 560.3h6.72v6.66h-6.72zM412.3 560.3h6.72v6.66h-6.72zM386.0 566.8h6.72v6.66h-6.72zM405.7 566.8h6.72v6.66h-6.72zM320.3 573.3h6.72v6.66h-6.72zM333.5 573.3h6.72v6.66h-6.72zM353.2 573.3h6.72v6.66h-6.72zM412.3 573.3h6.72v6.66h-6.72zM320.3 579.8h6.72v6.66h-6.72zM340.0 579.8h6.72v6.66h-6.72zM300.6 586.3h6.72v6.66h-6.72zM313.7 586.3h6.72v6.66h-6.72zM346.6 586.3h6.72v6.66h-6.72zM254.6 592.9h6.72v6.66h-6.72zM274.3 599.4h6.72v6.66h-6.72zM300.6 599.4h6.72v6.66h-6.72zM320.3 599.4h6.72v6.66h-6.72z"/>
<path fill="#fec0ac" d="M108.9 206.0h6.75v6.72h-6.75zM115.5 206.0h6.75v6.72h-6.75zM128.7 206.0h6.75v6.72h-6.75zM141.9 206.0h6.75v6.72h-6.75zM102.3 212.6h6.75v6.72h-6.75zM122.1 212.6h6.75v6.72h-6.75zM128.7 212.6h6.75v6.72h-6.75zM141.9 212.6h6.75v6.72h-6.75zM108.9 219.1h6.75v6.72h-6.75zM128.7 219.1h6.75v6.72h-6.75zM141.9 219.1h6.75v6.72h-6.75zM148.5 219.1h6.75v6.72h-6.75zM102.3 225.7h6.75v6.72h-6.75zM108.9 225.7h6.75v6.72h-6.75zM115.5 225.7h6.75v6.72h-6.75zM122.1 225.7h6.75v6.72h-6.75zM128.7 225.7h6.75v6.72h-6.75zM135.3 225.7h6.75v6.72h-6.75zM141.9 225.7h6.75v6.72h-6.75zM122.1 232.3h6.75v6.72h-6.75zM128.7 232.3h6.75v6.72h-6.75zM141.9 232.3h6.75v6.72h-6.75zM102.3 238.8h6.75v6.72h-6.75zM115.5 238.8h6.75v6.72h-6.75zM122.1 238.8h6.75v6.72h-6.75zM141.9 238.8h6.75v6.72h-6.75zM108.9 245.4h6.75v6.72h-6.75zM115.5 245.4h6.75v6.72h-6.75zM128.7 245.4h6.75v6.72h-6.75zM135.3 245.4h6.75v6.72h-6.75zM102.3 252.0h6.75v6.72h-6.75zM115.5 252.0h6.75v6.72h-6.75zM128.7 252.0h6.75v6.72h-6.75zM122.1 258.5h6.75v6.72h-6.75zM234.4 258.5h6.75v6.72h-6.75zM108.9 265.1h6.75v6.72h-6.75zM115.5 265.1h6.75v6.72h-6.75zM122.1 265.1h6.75v6.72h-6.75zM214.6 265.1h6.75v6.72h-6.75zM221.2 265.1h6.75v6.72h-6.75zM227.8 265.1h6.75v6.72h-6.75zM241.0 265.1h6.75v6.72h-6.75zM108.9 271.7h6.75v6.72h-6.75zM128.7 271.7h6.75v6.72h-6.75zM135.3 271.7h6.75v6.72h-6.75zM148.5 271.7h6.75v6.72h-6.75zM181.5 271.7h6.75v6.72h-6.75zM208.0 271.7h6.75v6.72h-6.75zM214.6 271.7h6.75v6.72h-6.75zM221.2 271.7h6.75v6.72h-6.75zM128.7 278.2h6.75v6.72h-6.75zM135.3 278.2h6.75v6.72h-6.75zM141.9 278.2h6.75v6.72h-6.75zM148.5 278.2h6.75v6.72h-6.75zM155.1 278.2h6.75v6.72h-6.75zM161.7 278.2h6.75v6.72h-6.75zM168.3 278.2h6.75v6.72h-6.75zM181.5 278.2h6.75v6.72h-6.75zM188.2 278.2h6.75v6.72h-6.75zM194.8 278.2h6.75v6.72h-6.75zM201.4 278.2h6.75v6.72h-6.75zM221.2 278.2h6.75v6.72h-6.75zM108.9 284.8h6.75v6.72h-6.75zM122.1 284.8h6.75v6.72h-6.75zM128.7 284.8h6.75v6.72h-6.75zM148.5 284.8h6.75v6.72h-6.75zM155.1 284.8h6.75v6.72h-6.75zM161.7 284.8h6.75v6.72h-6.75zM168.3 284.8h6.75v6.72h-6.75zM174.9 284.8h6.75v6.72h-6.75zM181.5 284.8h6.75v6.72h-6.75zM188.2 284.8h6.75v6.72h-6.75zM89.1 291.4h6.75v6.72h-6.75zM115.5 291.4h6.75v6.72h-6.75zM122.1 291.4h6.75v6.72h-6.75zM135.3 291.4h6.75v6.72h-6.75zM141.9 291.4h6.75v6.72h-6.75zM148.5 291.4h6.75v6.72h-6.75zM161.7 291.4h6.75v6.72h-6.75zM168.3 291.4h6.75v6.72h-6.75zM174.9 291.4h6.75v6.72h-6.75zM181.5 291.4h6.75v6.72h-6.75zM194.8 291.4h6.75v6.72h-6.75zM128.7 297.9h6.75v6.72h-6.75zM148.5 297.9h6.75v6.72h-6.75zM168.3 297.9h6.75v6.72h-6.75zM181.5 297.9h6.75v6.72h-6.75zM247.6 297.9h6.75v6.72h-6.75zM115.5 304.5h6.75v6.72h-6.75zM115.5 311.1h6.75v6.72h-6.75zM115.5 410.5h6.75v6.66h-6.75zM135.3 410.5h6.75v6.66h-6.75zM102.3 417.0h6.75v6.66h-6.75zM135.3 417.0h6.75v6.66h-6.75zM141.9 417.0h6.75v6.66h-6.75zM135.3 423.5h6.75v6.66h-6.75zM141.9 423.5h6.75v6.66h-6.75zM135.3 430.0h6.75v6.66h-6.75zM148.5 430.0h6.75v6.66h-6.75zM155.1 430.0h6.75v6.66h-6.75zM135.3 436.6h6.75v6.66h-6.75zM135.3 443.1h6.75v6.66h-6.75zM141.9 443.1h6.75v6.66h-6.75zM128.7 449.6h6.75v6.66h-6.75zM135.3 449.6h6.75v6.66h-6.75zM141.9 449.6h6.75v6.66h-6.75zM148.5 449.6h6.75v6.66h-6.75zM155.1 449.6h6.75v6.66h-6.75zM135.3 456.1h6.75v6.66h-6.75zM141.9 456.1h6.75v6.66h-6.75zM155.1 456.1h6.75v6.66h-6.75zM128.7 462.6h6.75v6.66h-6.75zM135.3 462.6h6.75v6.66h-6.75zM148.5 462.6h6.75v6.66h-6.75zM155.1 462.6h6.75v6.66h-6.75zM122.1 469.1h6.75v6.66h-6.75zM128.7 469.1h6.75v6.66h-6.75zM141.9 469.1h6.75v6.66h-6.75zM155.1 469.1h6.75v6.66h-6.75zM115.5 475.6h6.75v6.66h-6.75zM122.1 475.6h6.75v6.66h-6.75zM128.7 475.6h6.75v6.66h-6.75zM141.9 475.6h6.75v6.66h-6.75zM148.5 475.6h6.75v6.66h-6.75zM155.1 475.6h6.75v6.66h-6.75zM108.9 482.1h6.75v6.66h-6.75zM135.3 482.1h6.75v6.66h-6.75zM141.9 482.1h6.75v6.66h-6.75zM148.5 482.1h6.75v6.66h-6.75zM174.9 482.1h6.75v6.66h-6.75zM227.8 482.1h6.75v6.66h-6.75zM122.1 488.7h6.75v6.66h-6.75zM128.7 488.7h6.75v6.66h-6.75zM141.9 488.7h6.75v6.66h-6.75zM148.5 488.7h6.75v6.66h-6.75zM161.7 488.7h6.75v6.66h-6.75zM221.2 488.7h6.75v6.66h-6.75zM241.0 488.7h6.75v6.66h-6.75zM122.1 495.2h6.75v6.66h-6.75zM135.3 495.2h6.75v6.66h-6.75zM208.0 495.2h6.75v6.66h-6.75zM221.2 495.2h6.75v6.66h-6.75zM227.8 495.2h6.75v6.66h-6.75zM234.4 495.2h6.75v6.66h-6.75zM241.0 495.2h6.75v6.66h-6.75zM115.5 501.7h6.75v6.66h-6.75zM135.3 501.7h6.75v6.66h-6.75zM148.5 501.7h6.75v6.66h-6.75zM155.1 501.7h6.75v6.66h-6.75zM161.7 501.7h6.75v6.66h-6.75zM188.2 501.7h6.75v6.66h-6.75zM194.8 501.7h6.75v6.66h-6.75zM201.4 501.7h6.75v6.66h-6.75zM208.0 501.7h6.75v6.66h-6.75zM214.6 501.7h6.75v6.66h-6.75zM128.7 508.2h6.75v6.66h-6.75zM135.3 508.2h6.75v6.66h-6.75zM141.9 508.2h6.75v6.66h-6.75zM148.5 508.2h6.75v6.66h-6.75zM168.3 508.2h6.75v6.66h-6.75zM174.9 508.2h6.75v6.66h-6.75zM181.5 508.2h6.75v6.66h-6.75zM188.2 508.2h6.75v6.66h-6.75zM194.8 508.2h6.75v6.66h-6.75zM201.4 508.2h6.75v6.66h-6.75zM108.9 514.7h6.75v6.66h-6.75zM115.5 514.7h6.75v6.66h-6.75zM122.1 514.7h6.75v6.66h-6.75zM141.9 514.7h6.75v6.66h-6.75zM155.1 514.7h6.75v6.66h-6.75zM161.7 514.7h6.75v6.66h-6.75zM181.5 514.7h6.75v6.66h-6.75zM194.8 514.7h6.75v6.66h-6.75zM247.6 514.7h6.75v6.66h-6.75zM108.9 521.2h6.75v6.66h-6.75zM122.1 521.2h6.75v6.66h-6.75zM128.7 521.2h6.75v6.66h-6.75zM148.5 521.2h6.75v6.66h-6.75zM155.1 521.2h6.75v6.66h-6.75zM168.3 521.2h6.75v6.66h-6.75zM181.5 521.2h6.75v6.66h-6.75zM247.6 521.2h6.75v6.66h-6.75zM102.3 527.7h6.75v6.66h-6.75zM108.9 527.7h6.75v6.66h-6.75zM122.1 527.7h6.75v6.66h-6.75zM135.3 527.7h6.75v6.66h-6.75zM141.9 527.7h6.75v6.66h-6.75zM161.7 527.7h6.75v6.66h-6.75zM89.1 534.2h6.75v6.66h-6.75zM128.7 534.2h6.75v6.66h-6.75zM135.3 534.2h6.75v6.66h-6.75zM141.9 534.2h6.75v6.66h-6.75zM148.5 534.2h6.75v6.66h-6.75zM115.5 540.8h6.75v6.66h-6.75zM122.1 540.8h6.75v6.66h-6.75zM135.3 540.8h6.75v6.66h-6.75zM89.1 547.3h6.75v6.66h-6.75zM102.3 547.3h6.75v6.66h-6.75zM128.7 547.3h6.75v6.66h-6.75zM155.1 547.3h6.75v6.66h-6.75zM49.5 599.4h6.75v6.66h-6.75zM75.9 605.9h6.75v6.66h-6.75zM386.0 410.5h6.72v6.66h-6.72zM372.9 417.0h6.72v6.66h-6.72zM379.4 417.0h6.72v6.66h-6.72zM392.6 417.0h6.72v6.66h-6.72zM379.4 423.5h6.72v6.66h-6.72zM386.0 423.5h6.72v6.66h-6.72zM372.9 430.0h6.72v6.66h-6.72zM379.4 430.0h6.72v6.66h-6.72zM386.0 430.0h6.72v6.66h-6.72zM386.0 436.6h6.72v6.66h-6.72zM392.6 436.6h6.72v6.66h-6.72zM386.0 443.1h6.72v6.66h-6.72zM379.4 449.6h6.72v6.66h-6.72zM366.3 456.1h6.72v6.66h-6.72zM379.4 456.1h6.72v6.66h-6.72zM386.0 456.1h6.72v6.66h-6.72zM353.2 462.6h6.72v6.66h-6.72zM372.9 462.6h6.72v6.66h-6.72zM379.4 462.6h6.72v6.66h-6.72zM359.7 469.1h6.72v6.66h-6.72zM372.9 469.1h6.72v6.66h-6.72zM379.4 469.1h6.72v6.66h-6.72zM359.7 475.6h6.72v6.66h-6.72zM372.9 475.6h6.72v6.66h-6.72zM379.4 475.6h6.72v6.66h-6.72zM392.6 482.1h6.72v6.66h-6.72zM366.3 488.7h6.72v6.66h-6.72zM372.9 488.7h6.72v6.66h-6.72zM366.3 495.2h6.72v6.66h-6.72zM372.9 495.2h6.72v6.66h-6.72zM451.7 495.2h6.72v6.66h-6.72zM366.3 501.7h6.72v6.66h-6.72zM372.9 501.7h6.72v6.66h-6.72zM379.4 501.7h6.72v6.66h-6.72zM451.7 501.7h6.72v6.66h-6.72zM359.7 508.2h6.72v6.66h-6.72zM366.3 508.2h6.72v6.66h-6.72zM372.9 508.2h6.72v6.66h-6.72zM379.4 508.2h6.72v6.66h-6.72zM359.7 514.7h6.72v6.66h-6.72zM366.3 514.7h6.72v6.66h-6.72zM379.4 514.7h6.72v6.66h-6.72zM386.0 514.7h6.72v6.66h-6.72zM392.6 514.7h6.72v6.66h-6.72zM399.2 514.7h6.72v6.66h-6.72zM451.7 514.7h6.72v6.66h-6.72zM326.9 521.2h6.72v6.66h-6.72zM366.3 521.2h6.72v6.66h-6.72zM372.9 521.2h6.72v6.66h-6.72zM379.4 521.2h6.72v6.66h-6.72zM386.0 521.2h6.72v6.66h-6.72zM392.6 521.2h6.72v6.66h-6.72zM405.7 521.2h6.72v6.66h-6.72zM412.3 521.2h6.72v6.66h-6.72zM425.4 521.2h6.72v6.66h-6.72zM379.4 527.7h6.72v6.66h-6.72zM386.0 527.7h6.72v6.66h-6.72zM392.6 527.7h6.72v6.66h-6.72zM399.2 527.7h6.72v6.66h-6.72zM412.3 527.7h6.72v6.66h-6.72zM418.9 527.7h6.72v6.66h-6.72zM425.4 527.7h6.72v6.66h-6.72zM438.6 527.7h6.72v6.66h-6.72zM392.6 534.2h6.72v6.66h-6.72zM405.7 534.2h6.72v6.66h-6.72zM418.9 534.2h6.72v6.66h-6.72zM425.4 534.2h6.72v6.66h-6.72zM432.0 534.2h6.72v6.66h-6.72zM445.2 534.2h6.72v6.66h-6.72zM412.3 540.8h6.72v6.66h-6.72zM438.6 540.8h6.72v6.66h-6.72zM412.3 553.8h6.72v6.66h-6.72zM313.7 599.4h6.72v6.66h-6.72zM274.3 605.9h6.72v6.66h-6.72zM287.5 605.9h6.72v6.66h-6.72zM313.7 605.9h6.72v6.66h-6.72z"/>
<path fill="#fdb6a0" d="M122.1 206.0h6.75v6.72h-6.75zM135.3 206.0h6.75v6.72h-6.75zM148.5 206.0h6.75v6.72h-6.75zM135.3 212.6h6.75v6.72h-6.75zM148.5 212.6h6.75v6.72h-6.75zM161.7 212.6h6.75v6.72h-6.75zM135.3 219.1h6.75v6.72h-6.75zM155.1 219.1h6.75v6.72h-6.75zM161.7 219.1h6.75v6.72h-6.75zM168.3 219.1h6.75v6.72h-6.75zM148.5 225.7h6.75v6.72h-6.75zM155.1 225.7h6.75v6.72h-6.75zM135.3 232.3h6.75v6.72h-6.75zM148.5 232.3h6.75v6.72h-6.75zM155.1 232.3h6.75v6.72h-6.75zM161.7 232.3h6.75v6.72h-6.75zM128.7 238.8h6.75v6.72h-6.75zM135.3 238.8h6.75v6.72h-6.75zM148.5 238.8h6.75v6.72h-6.75zM161.7 238.8h6.75v6.72h-6.75zM168.3 238.8h6.75v6.72h-6.75zM141.9 245.4h6.75v6.72h-6.75zM148.5 245.4h6.75v6.72h-6.75zM155.1 245.4h6.75v6.72h-6.75zM168.3 245.4h6.75v6.72h-6.75zM227.8 245.4h6.75v6.72h-6.75zM234.4 245.4h6.75v6.72h-6.75zM135.3 252.0h6.75v6.72h-6.75zM141.9 252.0h6.75v6.72h-6.75zM148.5 252.0h6.75v6.72h-6.75zM155.1 252.0h6.75v6.72h-6.75zM161.7 252.0h6.75v6.72h-6.75zM221.2 252.0h6.75v6.72h-6.75zM234.4 252.0h6.75v6.72h-6.75zM128.7 258.5h6.75v6.72h-6.75zM135.3 258.5h6.75v6.72h-6.75zM141.9 258.5h6.75v6.72h-6.75zM148.5 258.5h6.75v6.72h-6.75zM155.1 258.5h6.75v6.72h-6.75zM161.7 258.5h6.75v6.72h-6.75zM168.3 258.5h6.75v6.72h-6.75zM174.9 258.5h6.75v6.72h-6.75zM181.5 258.5h6.75v6.72h-6.75zM194.8 258.5h6.75v6.72h-6.75zM208.0 258.5h6.75v6.72h-6.75zM221.2 258.5h6.75v6.72h-6.75zM227.8 258.5h6.75v6.72h-6.75zM128.7 265.1h6.75v6.72h-6.75zM141.9 265.1h6.75v6.72h-6.75zM148.5 265.1h6.75v6.72h-6.75zM155.1 265.1h6.75v6.72h-6.75zM161.7 265.1h6.75v6.72h-6.75zM168.3 265.1h6.75v6.72h-6.75zM174.9 265.1h6.75v6.72h-6.75zM181.5 265.1h6.75v6.72h-6.75zM188.2 265.1h6.75v6.72h-6.75zM194.8 265.1h6.75v6.72h-6.75zM208.0 265.1h6.75v6.72h-6.75zM122.1 271.7h6.75v6.72h-6.75zM141.9 271.7h6.75v6.72h-6.75zM155.1 271.7h6.75v6.72h-6.75zM161.7 271.7h6.75v6.72h-6.75zM168.3 271.7h6.75v6.72h-6.75zM174.9 271.7h6.75v6.72h-6.75zM188.2 271.7h6.75v6.72h-6.75zM194.8 271.7h6.75v6.72h-6.75zM201.4 271.7h6.75v6.72h-6.75zM174.9 278.2h6.75v6.72h-6.75zM141.9 284.8h6.75v6.72h-6.75zM122.1 410.5h6.75v6.66h-6.75zM128.7 410.5h6.75v6.66h-6.75zM141.9 410.5h6.75v6.66h-6.75zM148.5 410.5h6.75v6.66h-6.75zM148.5 417.0h6.75v6.66h-6.75zM155.1 417.0h6.75v6.66h-6.75zM155.1 423.5h6.75v6.66h-6.75zM141.9 430.0h6.75v6.66h-6.75zM141.9 436.6h6.75v6.66h-6.75zM148.5 436.6h6.75v6.66h-6.75zM155.1 436.6h6.75v6.66h-6.75zM174.9 436.6h6.75v6.66h-6.75zM148.5 443.1h6.75v6.66h-6.75zM155.1 443.1h6.75v6.66h-6.75zM161.7 443.1h6.75v6.66h-6.75zM161.7 449.6h6.75v6.66h-6.75zM174.9 449.6h6.75v6.66h-6.75zM148.5 456.1h6.75v6.66h-6.75zM161.7 456.1h6.75v6.66h-6.75zM115.5 462.6h6.75v6.66h-6.75zM141.9 462.6h6.75v6.66h-6.75zM161.7 462.6h6.75v6.66h-6.75zM168.3 462.6h6.75v6.66h-6.75zM148.5 469.1h6.75v6.66h-6.75zM161.7 469.1h6.75v6.66h-6.75zM168.3 469.1h6.75v6.66h-6.75zM135.3 475.6h6.75v6.66h-6.75zM161.7 475.6h6.75v6.66h-6.75zM168.3 475.6h6.75v6.66h-6.75zM227.8 475.6h6.75v6.66h-6.75zM155.1 482.1h6.75v6.66h-6.75zM161.7 482.1h6.75v6.66h-6.75zM194.8 482.1h6.75v6.66h-6.75zM201.4 482.1h6.75v6.66h-6.75zM221.2 482.1h6.75v6.66h-6.75zM234.4 482.1h6.75v6.66h-6.75zM241.0 482.1h6.75v6.66h-6.75zM135.3 488.7h6.75v6.66h-6.75zM155.1 488.7h6.75v6.66h-6.75zM168.3 488.7h6.75v6.66h-6.75zM201.4 488.7h6.75v6.66h-6.75zM214.6 488.7h6.75v6.66h-6.75zM227.8 488.7h6.75v6.66h-6.75zM234.4 488.7h6.75v6.66h-6.75zM128.7 495.2h6.75v6.66h-6.75zM148.5 495.2h6.75v6.66h-6.75zM155.1 495.2h6.75v6.66h-6.75zM174.9 495.2h6.75v6.66h-6.75zM181.5 495.2h6.75v6.66h-6.75zM188.2 495.2h6.75v6.66h-6.75zM194.8 495.2h6.75v6.66h-6.75zM201.4 495.2h6.75v6.66h-6.75zM214.6 495.2h6.75v6.66h-6.75zM141.9 501.7h6.75v6.66h-6.75zM174.9 501.7h6.75v6.66h-6.75zM181.5 501.7h6.75v6.66h-6.75zM155.1 508.2h6.75v6.66h-6.75zM161.7 508.2h6.75v6.66h-6.75zM174.9 514.7h6.75v6.66h-6.75zM188.2 514.7h6.75v6.66h-6.75zM141.9 521.2h6.75v6.66h-6.75zM161.7 521.2h6.75v6.66h-6.75zM128.7 527.7h6.75v6.66h-6.75zM155.1 527.7h6.75v6.66h-6.75zM56.1 599.4h6.75v6.66h-6.75zM62.7 599.4h6.75v6.66h-6.75zM392.6 410.5h6.72v6.66h-6.72zM386.0 417.0h6.72v6.66h-6.72zM399.2 417.0h6.72v6.66h-6.72zM392.6 423.5h6.72v6.66h-6.72zM399.2 423.5h6.72v6.66h-6.72zM392.6 430.0h6.72v6.66h-6.72zM399.2 430.0h6.72v6.66h-6.72zM372.9 443.1h6.72v6.66h-6.72zM379.4 443.1h6.72v6.66h-6.72zM392.6 443.1h6.72v6.66h-6.72zM399.2 443.1h6.72v6.66h-6.72zM386.0 449.6h6.72v6.66h-6.72zM392.6 449.6h6.72v6.66h-6.72zM372.9 456.1h6.72v6.66h-6.72zM392.6 456.1h6.72v6.66h-6.72zM366.3 462.6h6.72v6.66h-6.72zM386.0 462.6h6.72v6.66h-6.72zM392.6 462.6h6.72v6.66h-6.72zM386.0 469.1h6.72v6.66h-6.72zM392.6 469.1h6.72v6.66h-6.72zM386.0 475.6h6.72v6.66h-6.72zM379.4 482.1h6.72v6.66h-6.72zM386.0 482.1h6.72v6.66h-6.72zM386.0 488.7h6.72v6.66h-6.72zM392.6 488.7h6.72v6.66h-6.72zM451.7 488.7h6.72v6.66h-6.72zM386.0 495.2h6.72v6.66h-6.72zM392.6 495.2h6.72v6.66h-6.72zM399.2 495.2h6.72v6.66h-6.72zM445.2 495.2h6.72v6.66h-6.72zM386.0 501.7h6.72v6.66h-6.72zM392.6 501.7h6.72v6.66h-6.72zM399.2 501.7h6.72v6.66h-6.72zM412.3 501.7h6.72v6.66h-6.72zM438.6 501.7h6.72v6.66h-6.72zM445.2 501.7h6.72v6.66h-6.72zM386.0 508.2h6.72v6.66h-6.72zM392.6 508.2h6.72v6.66h-6.72zM399.2 508.2h6.72v6.66h-6.72zM412.3 508.2h6.72v6.66h-6.72zM425.4 508.2h6.72v6.66h-6.72zM432.0 508.2h6.72v6.66h-6.72zM438.6 508.2h6.72v6.66h-6.72zM445.2 508.2h6.72v6.66h-6.72zM372.9 514.7h6.72v6.66h-6.72zM412.3 514.7h6.72v6.66h-6.72zM418.9 514.7h6.72v6.66h-6.72zM425.4 514.7h6.72v6.66h-6.72zM432.0 514.7h6.72v6.66h-6.72zM438.6 514.7h6.72v6.66h-6.72zM445.2 514.7h6.72v6.66h-6.72zM399.2 521.2h6.72v6.66h-6.72zM418.9 521.2h6.72v6.66h-6.72zM432.0 521.2h6.72v6.66h-6.72zM438.6 521.2h6.72v6.66h-6.72zM445.2 521.2h6.72v6.66h-6.72zM267.7 605.9h6.72v6.66h-6.72z"/>
<path fill="#fdab94" d="M155.1 206.0h6.75v6.72h-6.75zM161.7 206.0h6.75v6.72h-6.75zM174.9 206.0h6.75v6.72h-6.75zM155.1 212.6h6.75v6.72h-6.75zM168.3 212.6h6.75v6.72h-6.75zM174.9 212.6h6.75v6.72h-6.75zM174.9 219.1h6.75v6.72h-6.75zM188.2 219.1h6.75v6.72h-6.75zM161.7 225.7h6.75v6.72h-6.75zM168.3 225.7h6.75v6.72h-6.75zM168.3 232.3h6.75v6.72h-6.75zM174.9 232.3h6.75v6.72h-6.75zM194.8 232.3h6.75v6.72h-6.75zM155.1 238.8h6.75v6.72h-6.75zM174.9 238.8h6.75v6.72h-6.75zM181.5 238.8h6.75v6.72h-6.75zM188.2 238.8h6.75v6.72h-6.75zM208.0 238.8h6.75v6.72h-6.75zM214.6 238.8h6.75v6.72h-6.75zM227.8 238.8h6.75v6.72h-6.75zM234.4 238.8h6.75v6.72h-6.75zM241.0 238.8h6.75v6.72h-6.75zM161.7 245.4h6.75v6.72h-6.75zM174.9 245.4h6.75v6.72h-6.75zM181.5 245.4h6.75v6.72h-6.75zM194.8 245.4h6.75v6.72h-6.75zM208.0 245.4h6.75v6.72h-6.75zM214.6 245.4h6.75v6.72h-6.75zM221.2 245.4h6.75v6.72h-6.75zM241.0 245.4h6.75v6.72h-6.75zM168.3 252.0h6.75v6.72h-6.75zM174.9 252.0h6.75v6.72h-6.75zM181.5 252.0h6.75v6.72h-6.75zM194.8 252.0h6.75v6.72h-6.75zM201.4 252.0h6.75v6.72h-6.75zM208.0 252.0h6.75v6.72h-6.75zM214.6 252.0h6.75v6.72h-6.75zM227.8 252.0h6.75v6.72h-6.75zM241.0 252.0h6.75v6.72h-6.75zM188.2 258.5h6.75v6.72h-6.75zM201.4 258.5h6.75v6.72h-6.75zM214.6 258.5h6.75v6.72h-6.75zM135.3 265.1h6.75v6.72h-6.75zM201.4 265.1h6.75v6.72h-6.75zM247.6 291.4h6.75v6.72h-6.75zM155.1 410.5h6.75v6.66h-6.75zM161.7 410.5h6.75v6.66h-6.75zM174.9 410.5h6.75v6.66h-6.75zM161.7 417.0h6.75v6.66h-6.75zM168.3 417.0h6.75v6.66h-6.75zM174.9 417.0h6.75v6.66h-6.75zM148.5 423.5h6.75v6.66h-6.75zM161.7 423.5h6.75v6.66h-6.75zM168.3 423.5h6.75v6.66h-6.75zM174.9 423.5h6.75v6.66h-6.75zM161.7 430.0h6.75v6.66h-6.75zM168.3 430.0h6.75v6.66h-6.75zM174.9 430.0h6.75v6.66h-6.75zM181.5 430.0h6.75v6.66h-6.75zM161.7 436.6h6.75v6.66h-6.75zM168.3 436.6h6.75v6.66h-6.75zM181.5 436.6h6.75v6.66h-6.75zM168.3 443.1h6.75v6.66h-6.75zM174.9 443.1h6.75v6.66h-6.75zM181.5 443.1h6.75v6.66h-6.75zM168.3 449.6h6.75v6.66h-6.75zM181.5 449.6h6.75v6.66h-6.75zM168.3 456.1h6.75v6.66h-6.75zM174.9 456.1h6.75v6.66h-6.75zM181.5 456.1h6.75v6.66h-6.75zM188.2 456.1h6.75v6.66h-6.75zM194.8 456.1h6.75v6.66h-6.75zM174.9 462.6h6.75v6.66h-6.75zM188.2 462.6h6.75v6.66h-6.75zM194.8 462.6h6.75v6.66h-6.75zM174.9 469.1h6.75v6.66h-6.75zM181.5 469.1h6.75v6.66h-6.75zM194.8 469.1h6.75v6.66h-6.75zM201.4 469.1h6.75v6.66h-6.75zM208.0 469.1h6.75v6.66h-6.75zM174.9 475.6h6.75v6.66h-6.75zM181.5 475.6h6.75v6.66h-6.75zM188.2 475.6h6.75v6.66h-6.75zM194.8 475.6h6.75v6.66h-6.75zM201.4 475.6h6.75v6.66h-6.75zM208.0 475.6h6.75v6.66h-6.75zM214.6 475.6h6.75v6.66h-6.75zM234.4 475.6h6.75v6.66h-6.75zM241.0 475.6h6.75v6.66h-6.75zM168.3 482.1h6.75v6.66h-6.75zM181.5 482.1h6.75v6.66h-6.75zM188.2 482.1h6.75v6.66h-6.75zM208.0 482.1h6.75v6.66h-6.75zM214.6 482.1h6.75v6.66h-6.75zM174.9 488.7h6.75v6.66h-6.75zM181.5 488.7h6.75v6.66h-6.75zM188.2 488.7h6.75v6.66h-6.75zM194.8 488.7h6.75v6.66h-6.75zM208.0 488.7h6.75v6.66h-6.75zM161.7 495.2h6.75v6.66h-6.75zM168.3 495.2h6.75v6.66h-6.75zM168.3 501.7h6.75v6.66h-6.75zM247.6 501.7h6.75v6.66h-6.75zM247.6 508.2h6.75v6.66h-6.75zM399.2 410.5h6.72v6.66h-6.72zM405.7 417.0h6.72v6.66h-6.72zM405.7 423.5h6.72v6.66h-6.72zM412.3 423.5h6.72v6.66h-6.72zM405.7 430.0h6.72v6.66h-6.72zM399.2 436.6h6.72v6.66h-6.72zM399.2 449.6h6.72v6.66h-6.72zM405.7 449.6h6.72v6.66h-6.72zM399.2 456.1h6.72v6.66h-6.72zM405.7 456.1h6.72v6.66h-6.72zM412.3 456.1h6.72v6.66h-6.72zM399.2 462.6h6.72v6.66h-6.72zM399.2 469.1h6.72v6.66h-6.72zM392.6 475.6h6.72v6.66h-6.72zM399.2 475.6h6.72v6.66h-6.72zM405.7 475.6h6.72v6.66h-6.72zM399.2 482.1h6.72v6.66h-6.72zM405.7 482.1h6.72v6.66h-6.72zM412.3 482.1h6.72v6.66h-6.72zM379.4 488.7h6.72v6.66h-6.72zM399.2 488.7h6.72v6.66h-6.72zM405.7 488.7h6.72v6.66h-6.72zM412.3 488.7h6.72v6.66h-6.72zM432.0 488.7h6.72v6.66h-6.72zM405.7 495.2h6.72v6.66h-6.72zM418.9 495.2h6.72v6.66h-6.72zM425.4 495.2h6.72v6.66h-6.72zM438.6 495.2h6.72v6.66h-6.72zM405.7 501.7h6.72v6.66h-6.72zM418.9 501.7h6.72v6.66h-6.72zM425.4 501.7h6.72v6.66h-6.72zM432.0 501.7h6.72v6.66h-6.72zM405.7 508.2h6.72v6.66h-6.72zM418.9 508.2h6.72v6.66h-6.72zM405.7 514.7h6.72v6.66h-6.72z"/>
<path fill="#fca086" d="M168.3 206.0h6.75v6.72h-6.75zM181.5 206.0h6.75v6.72h-6.75zM181.5 212.6h6.75v6.72h-6.75zM188.2 212.6h6.75v6.72h-6.75zM194.8 212.6h6.75v6.72h-6.75zM201.4 212.6h6.75v6.72h-6.75zM181.5 219.1h6.75v6.72h-6.75zM194.8 219.1h6.75v6.72h-6.75zM201.4 219.1h6.75v6.72h-6.75zM208.0 219.1h6.75v6.72h-6.75zM214.6 219.1h6.75v6.72h-6.75zM174.9 225.7h6.75v6.72h-6.75zM181.5 225.7h6.75v6.72h-6.75zM188.2 225.7h6.75v6.72h-6.75zM194.8 225.7h6.75v6.72h-6.75zM201.4 225.7h6.75v6.72h-6.75zM208.0 225.7h6.75v6.72h-6.75zM221.2 225.7h6.75v6.72h-6.75zM227.8 225.7h6.75v6.72h-6.75zM181.5 232.3h6.75v6.72h-6.75zM188.2 232.3h6.75v6.72h-6.75zM201.4 232.3h6.75v6.72h-6.75zM208.0 232.3h6.75v6.72h-6.75zM214.6 232.3h6.75v6.72h-6.75zM221.2 232.3h6.75v6.72h-6.75zM227.8 232.3h6.75v6.72h-6.75zM234.4 232.3h6.75v6.72h-6.75zM241.0 232.3h6.75v6.72h-6.75zM194.8 238.8h6.75v6.72h-6.75zM201.4 238.8h6.75v6.72h-6.75zM221.2 238.8h6.75v6.72h-6.75zM188.2 245.4h6.75v6.72h-6.75zM201.4 245.4h6.75v6.72h-6.75zM188.2 252.0h6.75v6.72h-6.75zM247.6 284.8h6.75v6.72h-6.75zM168.3 410.5h6.75v6.66h-6.75zM181.5 410.5h6.75v6.66h-6.75zM188.2 410.5h6.75v6.66h-6.75zM181.5 417.0h6.75v6.66h-6.75zM188.2 417.0h6.75v6.66h-6.75zM181.5 423.5h6.75v6.66h-6.75zM188.2 430.0h6.75v6.66h-6.75zM194.8 430.0h6.75v6.66h-6.75zM188.2 436.6h6.75v6.66h-6.75zM194.8 436.6h6.75v6.66h-6.75zM188.2 443.1h6.75v6.66h-6.75zM194.8 443.1h6.75v6.66h-6.75zM208.0 443.1h6.75v6.66h-6.75zM188.2 449.6h6.75v6.66h-6.75zM194.8 449.6h6.75v6.66h-6.75zM201.4 449.6h6.75v6.66h-6.75zM214.6 449.6h6.75v6.66h-6.75zM201.4 456.1h6.75v6.66h-6.75zM208.0 456.1h6.75v6.66h-6.75zM214.6 456.1h6.75v6.66h-6.75zM221.2 456.1h6.75v6.66h-6.75zM181.5 462.6h6.75v6.66h-6.75zM201.4 462.6h6.75v6.66h-6.75zM208.0 462.6h6.75v6.66h-6.75zM214.6 462.6h6.75v6.66h-6.75zM221.2 462.6h6.75v6.66h-6.75zM227.8 462.6h6.75v6.66h-6.75zM234.4 462.6h6.75v6.66h-6.75zM241.0 462.6h6.75v6.66h-6.75zM214.6 469.1h6.75v6.66h-6.75zM221.2 469.1h6.75v6.66h-6.75zM227.8 469.1h6.75v6.66h-6.75zM234.4 469.1h6.75v6.66h-6.75zM241.0 469.1h6.75v6.66h-6.75zM221.2 475.6h6.75v6.66h-6.75zM247.6 495.2h6.75v6.66h-6.75zM49.5 605.9h6.75v6.66h-6.75zM405.7 410.5h6.72v6.66h-6.72zM412.3 410.5h6.72v6.66h-6.72zM412.3 417.0h6.72v6.66h-6.72zM418.9 423.5h6.72v6.66h-6.72zM412.3 430.0h6.72v6.66h-6.72zM405.7 436.6h6.72v6.66h-6.72zM412.3 436.6h6.72v6.66h-6.72zM418.9 436.6h6.72v6.66h-6.72zM405.7 443.1h6.72v6.66h-6.72zM412.3 443.1h6.72v6.66h-6.72zM418.9 443.1h6.72v6.66h-6.72zM412.3 449.6h6.72v6.66h-6.72zM418.9 449.6h6.72v6.66h-6.72zM405.7 462.6h6.72v6.66h-6.72zM412.3 462.6h6.72v6.66h-6.72zM418.9 462.6h6.72v6.66h-6.72zM425.4 462.6h6.72v6.66h-6.72zM405.7 469.1h6.72v6.66h-6.72zM412.3 469.1h6.72v6.66h-6.72zM418.9 469.1h6.72v6.66h-6.72zM412.3 475.6h6.72v6.66h-6.72zM418.9 475.6h6.72v6.66h-6.72zM432.0 475.6h6.72v6.66h-6.72zM445.2 475.6h6.72v6.66h-6.72zM418.9 482.1h6.72v6.66h-6.72zM425.4 482.1h6.72v6.66h-6.72zM432.0 482.1h6.72v6.66h-6.72zM438.6 482.1h6.72v6.66h-6.72zM445.2 482.1h6.72v6.66h-6.72zM451.7 482.1h6.72v6.66h-6.72zM418.9 488.7h6.72v6.66h-6.72zM425.4 488.7h6.72v6.66h-6.72zM438.6 488.7h6.72v6.66h-6.72zM445.2 488.7h6.72v6.66h-6.72zM412.3 495.2h6.72v6.66h-6.72z"/>
<path fill="#fc9679" d="M188.2 206.0h6.75v6.72h-6.75zM194.8 206.0h6.75v6.72h-6.75zM201.4 206.0h6.75v6.72h-6.75zM208.0 206.0h6.75v6.72h-6.75zM214.6 206.0h6.75v6.72h-6.75zM221.2 206.0h6.75v6.72h-6.75zM208.0 212.6h6.75v6.72h-6.75zM214.6 212.6h6.75v6.72h-6.75zM221.2 212.6h6.75v6.72h-6.75zM227.8 212.6h6.75v6.72h-6.75zM234.4 212.6h6.75v6.72h-6.75zM241.0 212.6h6.75v6.72h-6.75zM221.2 219.1h6.75v6.72h-6.75zM227.8 219.1h6.75v6.72h-6.75zM234.4 219.1h6.75v6.72h-6.75zM241.0 219.1h6.75v6.72h-6.75zM214.6 225.7h6.75v6.72h-6.75zM234.4 225.7h6.75v6.72h-6.75zM241.0 225.7h6.75v6.72h-6.75zM247.6 278.2h6.75v6.72h-6.75zM194.8 410.5h6.75v6.66h-6.75zM194.8 417.0h6.75v6.66h-6.75zM201.4 417.0h6.75v6.66h-6.75zM208.0 417.0h6.75v6.66h-6.75zM188.2 423.5h6.75v6.66h-6.75zM194.8 423.5h6.75v6.66h-6.75zM201.4 423.5h6.75v6.66h-6.75zM208.0 423.5h6.75v6.66h-6.75zM214.6 423.5h6.75v6.66h-6.75zM201.4 430.0h6.75v6.66h-6.75zM208.0 430.0h6.75v6.66h-6.75zM201.4 436.6h6.75v6.66h-6.75zM208.0 436.6h6.75v6.66h-6.75zM214.6 436.6h6.75v6.66h-6.75zM221.2 436.6h6.75v6.66h-6.75zM201.4 443.1h6.75v6.66h-6.75zM214.6 443.1h6.75v6.66h-6.75zM221.2 443.1h6.75v6.66h-6.75zM227.8 443.1h6.75v6.66h-6.75zM234.4 443.1h6.75v6.66h-6.75zM241.0 443.1h6.75v6.66h-6.75zM208.0 449.6h6.75v6.66h-6.75zM221.2 449.6h6.75v6.66h-6.75zM227.8 449.6h6.75v6.66h-6.75zM234.4 449.6h6.75v6.66h-6.75zM241.0 449.6h6.75v6.66h-6.75zM227.8 456.1h6.75v6.66h-6.75zM234.4 456.1h6.75v6.66h-6.75zM241.0 456.1h6.75v6.66h-6.75zM188.2 469.1h6.75v6.66h-6.75zM247.6 488.7h6.75v6.66h-6.75zM56.1 605.9h6.75v6.66h-6.75zM418.9 410.5h6.72v6.66h-6.72zM418.9 417.0h6.72v6.66h-6.72zM425.4 417.0h6.72v6.66h-6.72zM425.4 423.5h6.72v6.66h-6.72zM418.9 430.0h6.72v6.66h-6.72zM425.4 430.0h6.72v6.66h-6.72zM425.4 436.6h6.72v6.66h-6.72zM425.4 443.1h6.72v6.66h-6.72zM425.4 449.6h6.72v6.66h-6.72zM432.0 449.6h6.72v6.66h-6.72zM418.9 456.1h6.72v6.66h-6.72zM425.4 456.1h6.72v6.66h-6.72zM432.0 456.1h6.72v6.66h-6.72zM438.6 456.1h6.72v6.66h-6.72zM432.0 462.6h6.72v6.66h-6.72zM438.6 462.6h6.72v6.66h-6.72zM445.2 462.6h6.72v6.66h-6.72zM425.4 469.1h6.72v6.66h-6.72zM432.0 469.1h6.72v6.66h-6.72zM438.6 469.1h6.72v6.66h-6.72zM445.2 469.1h6.72v6.66h-6.72zM425.4 475.6h6.72v6.66h-6.72zM438.6 475.6h6.72v6.66h-6.72zM451.7 475.6h6.72v6.66h-6.72zM432.0 495.2h6.72v6.66h-6.72z"/>
<path fill="#fb8a6c" d="M227.8 206.0h6.75v6.72h-6.75zM234.4 206.0h6.75v6.72h-6.75zM241.0 206.0h6.75v6.72h-6.75zM247.6 271.7h6.75v6.72h-6.75zM201.4 410.5h6.75v6.66h-6.75zM208.0 410.5h6.75v6.66h-6.75zM221.2 410.5h6.75v6.66h-6.75zM214.6 417.0h6.75v6.66h-6.75zM221.2 417.0h6.75v6.66h-6.75zM227.8 417.0h6.75v6.66h-6.75zM241.0 417.0h6.75v6.66h-6.75zM221.2 423.5h6.75v6.66h-6.75zM227.8 423.5h6.75v6.66h-6.75zM234.4 423.5h6.75v6.66h-6.75zM241.0 423.5h6.75v6.66h-6.75zM214.6 430.0h6.75v6.66h-6.75zM221.2 430.0h6.75v6.66h-6.75zM227.8 430.0h6.75v6.66h-6.75zM234.4 430.0h6.75v6.66h-6.75zM241.0 430.0h6.75v6.66h-6.75zM227.8 436.6h6.75v6.66h-6.75zM234.4 436.6h6.75v6.66h-6.75zM241.0 436.6h6.75v6.66h-6.75zM247.6 482.1h6.75v6.66h-6.75zM425.4 410.5h6.72v6.66h-6.72zM432.0 423.5h6.72v6.66h-6.72zM432.0 430.0h6.72v6.66h-6.72zM432.0 436.6h6.72v6.66h-6.72zM438.6 436.6h6.72v6.66h-6.72zM432.0 443.1h6.72v6.66h-6.72zM438.6 443.1h6.72v6.66h-6.72zM445.2 443.1h6.72v6.66h-6.72zM438.6 449.6h6.72v6.66h-6.72zM445.2 449.6h6.72v6.66h-6.72zM445.2 456.1h6.72v6.66h-6.72zM451.7 462.6h6.72v6.66h-6.72zM451.7 469.1h6.72v6.66h-6.72z"/>
<path fill="#e2371d" d="M247.6 206.0h6.75v6.72h-6.75zM247.6 212.6h6.75v6.72h-6.75zM247.6 423.5h6.75v6.66h-6.75zM451.7 423.5h6.72v6.66h-6.72z"/>
<path fill="#fee9e0" d="M82.5 219.1h6.75v6.72h-6.75zM75.9 232.3h6.75v6.72h-6.75zM82.5 232.3h6.75v6.72h-6.75zM56.1 238.8h6.75v6.72h-6.75zM62.7 238.8h6.75v6.72h-6.75zM69.3 238.8h6.75v6.72h-6.75zM75.9 238.8h6.75v6.72h-6.75zM49.5 258.5h6.75v6.72h-6.75zM56.1 258.5h6.75v6.72h-6.75zM62.7 258.5h6.75v6.72h-6.75zM75.9 265.1h6.75v6.72h-6.75zM69.3 271.7h6.75v6.72h-6.75zM75.9 278.2h6.75v6.72h-6.75zM234.4 278.2h6.75v6.72h-6.75zM241.0 278.2h6.75v6.72h-6.75zM62.7 284.8h6.75v6.72h-6.75zM69.3 284.8h6.75v6.72h-6.75zM82.5 284.8h6.75v6.72h-6.75zM234.4 284.8h6.75v6.72h-6.75zM62.7 291.4h6.75v6.72h-6.75zM214.6 291.4h6.75v6.72h-6.75zM241.0 291.4h6.75v6.72h-6.75zM56.1 297.9h6.75v6.72h-6.75zM69.3 297.9h6.75v6.72h-6.75zM201.4 297.9h6.75v6.72h-6.75zM49.5 304.5h6.75v6.72h-6.75zM82.5 304.5h6.75v6.72h-6.75zM208.0 304.5h6.75v6.72h-6.75zM214.6 304.5h6.75v6.72h-6.75zM234.4 304.5h6.75v6.72h-6.75zM49.5 311.1h6.75v6.72h-6.75zM69.3 311.1h6.75v6.72h-6.75zM82.5 311.1h6.75v6.72h-6.75zM174.9 317.7h6.75v6.72h-6.75zM201.4 317.7h6.75v6.72h-6.75zM208.0 317.7h6.75v6.72h-6.75zM227.8 317.7h6.75v6.72h-6.75zM62.7 324.2h6.75v6.72h-6.75zM122.1 324.2h6.75v6.72h-6.75zM128.7 324.2h6.75v6.72h-6.75zM141.9 324.2h6.75v6.72h-6.75zM62.7 330.8h6.75v6.72h-6.75zM69.3 330.8h6.75v6.72h-6.75zM82.5 330.8h6.75v6.72h-6.75zM221.2 330.8h6.75v6.72h-6.75zM82.5 337.4h6.75v6.72h-6.75zM108.9 337.4h6.75v6.72h-6.75zM122.1 337.4h6.75v6.72h-6.75zM181.5 337.4h6.75v6.72h-6.75zM194.8 337.4h6.75v6.72h-6.75zM247.6 337.4h6.75v6.72h-6.75zM95.7 343.9h6.75v6.72h-6.75zM128.7 343.9h6.75v6.72h-6.75zM49.5 350.5h6.75v6.72h-6.75zM108.9 350.5h6.75v6.72h-6.75zM115.5 350.5h6.75v6.72h-6.75zM148.5 350.5h6.75v6.72h-6.75zM49.5 357.1h6.75v6.72h-6.75zM56.1 357.1h6.75v6.72h-6.75zM62.7 357.1h6.75v6.72h-6.75zM95.7 357.1h6.75v6.72h-6.75zM155.1 357.1h6.75v6.72h-6.75zM49.5 363.6h6.75v6.72h-6.75zM62.7 363.6h6.75v6.72h-6.75zM75.9 363.6h6.75v6.72h-6.75zM122.1 363.6h6.75v6.72h-6.75zM62.7 370.2h6.75v6.72h-6.75zM69.3 370.2h6.75v6.72h-6.75zM75.9 370.2h6.75v6.72h-6.75zM62.7 376.8h6.75v6.72h-6.75zM62.7 383.3h6.75v6.72h-6.75zM49.5 389.9h6.75v6.72h-6.75zM56.1 389.9h6.75v6.72h-6.75zM82.5 389.9h6.75v6.72h-6.75zM49.5 396.5h6.75v6.72h-6.75zM82.5 410.5h6.75v6.66h-6.75zM89.1 410.5h6.75v6.66h-6.75zM95.7 410.5h6.75v6.66h-6.75zM102.3 423.5h6.75v6.66h-6.75zM95.7 430.0h6.75v6.66h-6.75zM82.5 436.6h6.75v6.66h-6.75zM89.1 436.6h6.75v6.66h-6.75zM95.7 436.6h6.75v6.66h-6.75zM69.3 443.1h6.75v6.66h-6.75zM82.5 443.1h6.75v6.66h-6.75zM75.9 449.6h6.75v6.66h-6.75zM82.5 449.6h6.75v6.66h-6.75zM89.1 449.6h6.75v6.66h-6.75zM62.7 462.6h6.75v6.66h-6.75zM75.9 462.6h6.75v6.66h-6.75zM102.3 462.6h6.75v6.66h-6.75zM69.3 469.1h6.75v6.66h-6.75zM49.5 482.1h6.75v6.66h-6.75zM62.7 482.1h6.75v6.66h-6.75zM75.9 482.1h6.75v6.66h-6.75zM115.5 482.1h6.75v6.66h-6.75zM75.9 488.7h6.75v6.66h-6.75zM89.1 488.7h6.75v6.66h-6.75zM69.3 495.2h6.75v6.66h-6.75zM82.5 501.7h6.75v6.66h-6.75zM49.5 514.7h6.75v6.66h-6.75zM56.1 514.7h6.75v6.66h-6.75zM234.4 514.7h6.75v6.66h-6.75zM62.7 521.2h6.75v6.66h-6.75zM221.2 521.2h6.75v6.66h-6.75zM227.8 521.2h6.75v6.66h-6.75zM234.4 521.2h6.75v6.66h-6.75zM241.0 521.2h6.75v6.66h-6.75zM49.5 527.7h6.75v6.66h-6.75zM56.1 527.7h6.75v6.66h-6.75zM62.7 527.7h6.75v6.66h-6.75zM82.5 527.7h6.75v6.66h-6.75zM194.8 527.7h6.75v6.66h-6.75zM62.7 534.2h6.75v6.66h-6.75zM181.5 534.2h6.75v6.66h-6.75zM194.8 534.2h6.75v6.66h-6.75zM214.6 534.2h6.75v6.66h-6.75zM227.8 534.2h6.75v6.66h-6.75zM247.6 534.2h6.75v6.66h-6.75zM75.9 540.8h6.75v6.66h-6.75zM201.4 540.8h6.75v6.66h-6.75zM214.6 540.8h6.75v6.66h-6.75zM221.2 540.8h6.75v6.66h-6.75zM234.4 540.8h6.75v6.66h-6.75zM247.6 540.8h6.75v6.66h-6.75zM56.1 547.3h6.75v6.66h-6.75zM174.9 547.3h6.75v6.66h-6.75zM234.4 547.3h6.75v6.66h-6.75zM62.7 553.8h6.75v6.66h-6.75zM82.5 553.8h6.75v6.66h-6.75zM161.7 553.8h6.75v6.66h-6.75zM168.3 553.8h6.75v6.66h-6.75zM174.9 553.8h6.75v6.66h-6.75zM201.4 553.8h6.75v6.66h-6.75zM49.5 560.3h6.75v6.66h-6.75zM69.3 560.3h6.75v6.66h-6.75zM135.3 560.3h6.75v6.66h-6.75zM141.9 560.3h6.75v6.66h-6.75zM148.5 560.3h6.75v6.66h-6.75zM62.7 566.8h6.75v6.66h-6.75zM82.5 566.8h6.75v6.66h-6.75zM89.1 566.8h6.75v6.66h-6.75zM115.5 566.8h6.75v6.66h-6.75zM135.3 566.8h6.75v6.66h-6.75zM148.5 566.8h6.75v6.66h-6.75zM49.5 573.3h6.75v6.66h-6.75zM135.3 573.3h6.75v6.66h-6.75zM174.9 573.3h6.75v6.66h-6.75zM69.3 579.8h6.75v6.66h-6.75zM89.1 579.8h6.75v6.66h-6.75zM108.9 579.8h6.75v6.66h-6.75zM69.3 586.3h6.75v6.66h-6.75zM95.7 586.3h6.75v6.66h-6.75zM69.3 592.9h6.75v6.66h-6.75zM75.9 592.9h6.75v6.66h-6.75zM89.1 592.9h6.75v6.66h-6.75zM108.9 592.9h6.75v6.66h-6.75zM82.5 599.4h6.75v6.66h-6.75zM108.9 605.9h6.75v6.66h-6.75zM247.6 605.9h6.75v6.66h-6.75zM333.5 410.5h6.72v6.66h-6.72zM346.6 417.0h6.72v6.66h-6.72zM353.2 417.0h6.72v6.66h-6.72zM359.7 417.0h6.72v6.66h-6.72zM340.0 423.5h6.72v6.66h-6.72zM346.6 423.5h6.72v6.66h-6.72zM359.7 430.0h6.72v6.66h-6.72zM333.5 436.6h6.72v6.66h-6.72zM340.0 436.6h6.72v6.66h-6.72zM333.5 443.1h6.72v6.66h-6.72zM340.0 449.6h6.72v6.66h-6.72zM346.6 449.6h6.72v6.66h-6.72zM340.0 456.1h6.72v6.66h-6.72zM346.6 456.1h6.72v6.66h-6.72zM326.9 462.6h6.72v6.66h-6.72zM333.5 475.6h6.72v6.66h-6.72zM287.5 482.1h6.72v6.66h-6.72zM326.9 482.1h6.72v6.66h-6.72zM300.6 488.7h6.72v6.66h-6.72zM326.9 488.7h6.72v6.66h-6.72zM340.0 495.2h6.72v6.66h-6.72zM300.6 501.7h6.72v6.66h-6.72zM326.9 501.7h6.72v6.66h-6.72zM320.3 508.2h6.72v6.66h-6.72zM294.0 514.7h6.72v6.66h-6.72zM300.6 514.7h6.72v6.66h-6.72zM307.2 514.7h6.72v6.66h-6.72zM307.2 521.2h6.72v6.66h-6.72zM333.5 521.2h6.72v6.66h-6.72zM451.7 521.2h6.72v6.66h-6.72zM320.3 527.7h6.72v6.66h-6.72zM326.9 527.7h6.72v6.66h-6.72zM280.9 534.2h6.72v6.66h-6.72zM320.3 534.2h6.72v6.66h-6.72zM326.9 534.2h6.72v6.66h-6.72zM451.7 534.2h6.72v6.66h-6.72zM294.0 540.8h6.72v6.66h-6.72zM432.0 547.3h6.72v6.66h-6.72zM307.2 553.8h6.72v6.66h-6.72zM326.9 553.8h6.72v6.66h-6.72zM379.4 553.8h6.72v6.66h-6.72zM392.6 553.8h6.72v6.66h-6.72zM432.0 553.8h6.72v6.66h-6.72zM438.6 553.8h6.72v6.66h-6.72zM280.9 560.3h6.72v6.66h-6.72zM346.6 560.3h6.72v6.66h-6.72zM353.2 560.3h6.72v6.66h-6.72zM372.9 560.3h6.72v6.66h-6.72zM399.2 560.3h6.72v6.66h-6.72zM425.4 560.3h6.72v6.66h-6.72zM326.9 566.8h6.72v6.66h-6.72zM353.2 566.8h6.72v6.66h-6.72zM372.9 566.8h6.72v6.66h-6.72zM313.7 573.3h6.72v6.66h-6.72zM340.0 573.3h6.72v6.66h-6.72zM399.2 573.3h6.72v6.66h-6.72zM438.6 573.3h6.72v6.66h-6.72zM300.6 579.8h6.72v6.66h-6.72zM333.5 579.8h6.72v6.66h-6.72zM346.6 579.8h6.72v6.66h-6.72zM353.2 579.8h6.72v6.66h-6.72zM366.3 579.8h6.72v6.66h-6.72zM386.0 579.8h6.72v6.66h-6.72zM294.0 586.3h6.72v6.66h-6.72zM307.2 586.3h6.72v6.66h-6.72zM320.3 586.3h6.72v6.66h-6.72zM326.9 586.3h6.72v6.66h-6.72zM353.2 586.3h6.72v6.66h-6.72zM372.9 586.3h6.72v6.66h-6.72zM399.2 586.3h6.72v6.66h-6.72zM294.0 592.9h6.72v6.66h-6.72zM320.3 592.9h6.72v6.66h-6.72zM333.5 592.9h6.72v6.66h-6.72zM254.6 599.4h6.72v6.66h-6.72zM267.7 599.4h6.72v6.66h-6.72zM307.2 599.4h6.72v6.66h-6.72zM372.9 599.4h6.72v6.66h-6.72zM340.0 605.9h6.72v6.66h-6.72zM372.9 605.9h6.72v6.66h-6.72z"/>
<path fill="#e64122" d="M247.6 219.1h6.75v6.72h-6.75zM247.6 430.0h6.75v6.66h-6.75zM247.6 436.6h6.75v6.66h-6.75zM451.7 430.0h6.72v6.66h-6.72z"/>
<path fill="#eb4e2e" d="M247.6 225.7h6.75v6.72h-6.75zM247.6 232.3h6.75v6.72h-6.75zM247.6 443.1h6.75v6.66h-6.75zM451.7 436.6h6.72v6.66h-6.72z"/>
<path fill="#ef5a3a" d="M247.6 238.8h6.75v6.72h-6.75zM247.6 449.6h6.75v6.66h-6.75zM247.6 456.1h6.75v6.66h-6.75zM451.7 443.1h6.72v6.66h-6.72z"/>
<path fill="#f46645" d="M247.6 245.4h6.75v6.72h-6.75zM247.6 462.6h6.75v6.66h-6.75zM451.7 449.6h6.72v6.66h-6.72z"/>
<path fill="#f77251" d="M247.6 252.0h6.75v6.72h-6.75zM247.6 469.1h6.75v6.66h-6.75zM445.2 410.5h6.72v6.66h-6.72zM451.7 456.1h6.72v6.66h-6.72z"/>
<path fill="#fa7f5e" d="M247.6 258.5h6.75v6.72h-6.75zM247.6 265.1h6.75v6.72h-6.75zM214.6 410.5h6.75v6.66h-6.75zM227.8 410.5h6.75v6.66h-6.75zM234.4 410.5h6.75v6.66h-6.75zM241.0 410.5h6.75v6.66h-6.75zM234.4 417.0h6.75v6.66h-6.75zM247.6 475.6h6.75v6.66h-6.75zM432.0 410.5h6.72v6.66h-6.72zM438.6 410.5h6.72v6.66h-6.72zM432.0 417.0h6.72v6.66h-6.72zM438.6 417.0h6.72v6.66h-6.72zM445.2 417.0h6.72v6.66h-6.72zM438.6 423.5h6.72v6.66h-6.72zM445.2 423.5h6.72v6.66h-6.72zM438.6 430.0h6.72v6.66h-6.72zM445.2 430.0h6.72v6.66h-6.72zM445.2 436.6h6.72v6.66h-6.72z"/>
<path fill="#de2f1e" d="M247.6 410.5h6.75v6.66h-6.75zM247.6 417.0h6.75v6.66h-6.75zM451.7 410.5h6.72v6.66h-6.72zM451.7 417.0h6.72v6.66h-6.72z"/>
</g>
<g shape-rendering="crispEdges">
<path fill="#e3d4f2" d="M966.4 205.6h6.73v6.70h-6.73zM1005.9 205.6h6.73v6.70h-6.73zM1130.9 205.6h6.73v6.70h-6.73zM966.4 212.1h6.73v6.70h-6.73zM992.7 212.1h6.73v6.70h-6.73zM1005.9 212.1h6.73v6.70h-6.73zM966.4 218.7h6.73v6.70h-6.73zM992.7 218.7h6.73v6.70h-6.73zM1130.9 218.7h6.73v6.70h-6.73zM933.5 225.2h6.73v6.70h-6.73zM959.8 225.2h6.73v6.70h-6.73zM986.1 225.2h6.73v6.70h-6.73zM933.5 231.8h6.73v6.70h-6.73zM940.1 238.3h6.73v6.70h-6.73zM959.8 238.3h6.73v6.70h-6.73zM973.0 238.3h6.73v6.70h-6.73zM953.2 244.9h6.73v6.70h-6.73zM966.4 244.9h6.73v6.70h-6.73zM973.0 244.9h6.73v6.70h-6.73zM979.6 244.9h6.73v6.70h-6.73zM1025.6 244.9h6.73v6.70h-6.73zM1032.2 244.9h6.73v6.70h-6.73zM940.1 251.4h6.73v6.70h-6.73zM946.7 251.4h6.73v6.70h-6.73zM959.8 251.4h6.73v6.70h-6.73zM966.4 251.4h6.73v6.70h-6.73zM979.6 251.4h6.73v6.70h-6.73zM1124.3 251.4h6.73v6.70h-6.73zM966.4 258.0h6.73v6.70h-6.73zM979.6 258.0h6.73v6.70h-6.73zM1012.5 258.0h6.73v6.70h-6.73zM1071.7 258.0h6.73v6.70h-6.73zM1111.2 258.0h6.73v6.70h-6.73zM992.7 264.5h6.73v6.70h-6.73zM1084.8 264.5h6.73v6.70h-6.73zM1091.4 264.5h6.73v6.70h-6.73zM1098.0 264.5h6.73v6.70h-6.73zM1124.3 264.5h6.73v6.70h-6.73zM940.1 271.1h6.73v6.70h-6.73zM973.0 271.1h6.73v6.70h-6.73zM1012.5 271.1h6.73v6.70h-6.73zM1058.5 271.1h6.73v6.70h-6.73zM1065.1 271.1h6.73v6.70h-6.73zM933.5 277.6h6.73v6.70h-6.73zM973.0 277.6h6.73v6.70h-6.73zM1019.0 277.6h6.73v6.70h-6.73zM1051.9 277.6h6.73v6.70h-6.73zM1078.3 277.6h6.73v6.70h-6.73zM946.7 284.2h6.73v6.70h-6.73zM959.8 284.2h6.73v6.70h-6.73zM973.0 284.2h6.73v6.70h-6.73zM979.6 284.2h6.73v6.70h-6.73zM1051.9 284.2h6.73v6.70h-6.73zM1065.1 284.2h6.73v6.70h-6.73zM933.5 290.7h6.73v6.70h-6.73zM1005.9 290.7h6.73v6.70h-6.73zM1019.0 290.7h6.73v6.70h-6.73zM1051.9 290.7h6.73v6.70h-6.73zM1058.5 290.7h6.73v6.70h-6.73zM1098.0 290.7h6.73v6.70h-6.73zM1111.2 290.7h6.73v6.70h-6.73zM1124.3 290.7h6.73v6.70h-6.73zM986.1 297.3h6.73v6.70h-6.73zM1005.9 297.3h6.73v6.70h-6.73zM1065.1 297.3h6.73v6.70h-6.73zM1117.7 297.3h6.73v6.70h-6.73zM953.2 303.8h6.73v6.70h-6.73zM959.8 303.8h6.73v6.70h-6.73zM979.6 303.8h6.73v6.70h-6.73zM999.3 303.8h6.73v6.70h-6.73zM1058.5 303.8h6.73v6.70h-6.73zM1078.3 303.8h6.73v6.70h-6.73zM1091.4 303.8h6.73v6.70h-6.73zM1098.0 303.8h6.73v6.70h-6.73zM1124.3 303.8h6.73v6.70h-6.73zM946.7 310.4h6.73v6.70h-6.73zM966.4 310.4h6.73v6.70h-6.73zM986.1 310.4h6.73v6.70h-6.73zM1012.5 310.4h6.73v6.70h-6.73zM1025.6 310.4h6.73v6.70h-6.73zM1038.8 310.4h6.73v6.70h-6.73zM1051.9 310.4h6.73v6.70h-6.73zM1058.5 310.4h6.73v6.70h-6.73zM1091.4 310.4h6.73v6.70h-6.73zM1098.0 310.4h6.73v6.70h-6.73zM1117.7 310.4h6.73v6.70h-6.73zM953.2 316.9h6.73v6.70h-6.73zM959.8 316.9h6.73v6.70h-6.73zM973.0 316.9h6.73v6.70h-6.73zM1025.6 316.9h6.73v6.70h-6.73zM1032.2 316.9h6.73v6.70h-6.73zM1038.8 316.9h6.73v6.70h-6.73zM1084.8 316.9h6.73v6.70h-6.73zM1091.4 316.9h6.73v6.70h-6.73zM1098.0 316.9h6.73v6.70h-6.73zM1117.7 316.9h6.73v6.70h-6.73zM986.1 323.5h6.73v6.70h-6.73zM992.7 323.5h6.73v6.70h-6.73zM1019.0 323.5h6.73v6.70h-6.73zM1045.4 323.5h6.73v6.70h-6.73zM1051.9 323.5h6.73v6.70h-6.73zM1071.7 323.5h6.73v6.70h-6.73zM946.7 330.0h6.73v6.70h-6.73zM979.6 330.0h6.73v6.70h-6.73zM986.1 330.0h6.73v6.70h-6.73zM1012.5 330.0h6.73v6.70h-6.73zM946.7 336.6h6.73v6.70h-6.73zM966.4 336.6h6.73v6.70h-6.73zM986.1 336.6h6.73v6.70h-6.73zM933.5 343.1h6.73v6.70h-6.73zM946.7 343.1h6.73v6.70h-6.73zM986.1 343.1h6.73v6.70h-6.73zM1025.6 343.1h6.73v6.70h-6.73zM933.5 349.7h6.73v6.70h-6.73zM946.7 349.7h6.73v6.70h-6.73zM973.0 349.7h6.73v6.70h-6.73zM986.1 349.7h6.73v6.70h-6.73zM1032.2 349.7h6.73v6.70h-6.73zM953.2 356.2h6.73v6.70h-6.73zM966.4 356.2h6.73v6.70h-6.73zM999.3 362.8h6.73v6.70h-6.73zM933.5 369.3h6.73v6.70h-6.73zM953.2 369.3h6.73v6.70h-6.73zM946.7 389.0h6.73v6.70h-6.73zM946.7 395.5h6.73v6.70h-6.73zM953.2 395.5h6.73v6.70h-6.73zM940.1 402.1h6.73v6.70h-6.73zM973.0 409.6h6.73v6.69h-6.73zM1012.5 409.6h6.73v6.69h-6.73zM1038.8 409.6h6.73v6.69h-6.73zM1117.7 409.6h6.73v6.69h-6.73zM946.7 416.1h6.73v6.69h-6.73zM973.0 416.1h6.73v6.69h-6.73zM986.1 416.1h6.73v6.69h-6.73zM1019.0 416.1h6.73v6.69h-6.73zM999.3 422.7h6.73v6.69h-6.73zM1038.8 422.7h6.73v6.69h-6.73zM1124.3 422.7h6.73v6.69h-6.73zM1130.9 422.7h6.73v6.69h-6.73zM966.4 429.2h6.73v6.69h-6.73zM992.7 429.2h6.73v6.69h-6.73zM1032.2 429.2h6.73v6.69h-6.73zM1104.6 429.2h6.73v6.69h-6.73zM1117.7 429.2h6.73v6.69h-6.73zM1130.9 429.2h6.73v6.69h-6.73zM959.8 435.8h6.73v6.69h-6.73zM1025.6 435.8h6.73v6.69h-6.73zM1124.3 435.8h6.73v6.69h-6.73zM946.7 442.3h6.73v6.69h-6.73zM986.1 442.3h6.73v6.69h-6.73zM1012.5 442.3h6.73v6.69h-6.73zM1019.0 442.3h6.73v6.69h-6.73zM1071.7 442.3h6.73v6.69h-6.73zM959.8 448.9h6.73v6.69h-6.73zM966.4 448.9h6.73v6.69h-6.73zM986.1 448.9h6.73v6.69h-6.73zM1012.5 448.9h6.73v6.69h-6.73zM1032.2 448.9h6.73v6.69h-6.73zM1071.7 448.9h6.73v6.69h-6.73zM1104.6 448.9h6.73v6.69h-6.73zM1051.9 455.4h6.73v6.69h-6.73zM1025.6 461.9h6.73v6.69h-6.73zM946.7 468.5h6.73v6.69h-6.73zM992.7 468.5h6.73v6.69h-6.73zM1032.2 468.5h6.73v6.69h-6.73zM1058.5 468.5h6.73v6.69h-6.73zM1091.4 468.5h6.73v6.69h-6.73zM933.5 475.0h6.73v6.69h-6.73zM979.6 475.0h6.73v6.69h-6.73zM986.1 475.0h6.73v6.69h-6.73zM992.7 475.0h6.73v6.69h-6.73zM1032.2 475.0h6.73v6.69h-6.73zM1038.8 475.0h6.73v6.69h-6.73zM1084.8 475.0h6.73v6.69h-6.73zM1091.4 475.0h6.73v6.69h-6.73zM1104.6 475.0h6.73v6.69h-6.73zM1117.7 475.0h6.73v6.69h-6.73zM959.8 481.6h6.73v6.69h-6.73zM1012.5 481.6h6.73v6.69h-6.73zM1019.0 481.6h6.73v6.69h-6.73zM1032.2 481.6h6.73v6.69h-6.73zM1098.0 481.6h6.73v6.69h-6.73zM973.0 488.1h6.73v6.69h-6.73zM986.1 488.1h6.73v6.69h-6.73zM1012.5 488.1h6.73v6.69h-6.73zM1025.6 488.1h6.73v6.69h-6.73zM1032.2 488.1h6.73v6.69h-6.73zM1071.7 488.1h6.73v6.69h-6.73zM1098.0 488.1h6.73v6.69h-6.73zM1111.2 488.1h6.73v6.69h-6.73zM946.7 494.6h6.73v6.69h-6.73zM953.2 494.6h6.73v6.69h-6.73zM959.8 494.6h6.73v6.69h-6.73zM999.3 494.6h6.73v6.69h-6.73zM1012.5 494.6h6.73v6.69h-6.73zM1025.6 494.6h6.73v6.69h-6.73zM933.5 501.2h6.73v6.69h-6.73zM946.7 501.2h6.73v6.69h-6.73zM959.8 501.2h6.73v6.69h-6.73zM1124.3 501.2h6.73v6.69h-6.73zM1130.9 501.2h6.73v6.69h-6.73zM940.1 507.7h6.73v6.69h-6.73zM959.8 507.7h6.73v6.69h-6.73zM1025.6 507.7h6.73v6.69h-6.73zM1058.5 507.7h6.73v6.69h-6.73zM1091.4 507.7h6.73v6.69h-6.73zM1124.3 507.7h6.73v6.69h-6.73zM946.7 514.3h6.73v6.69h-6.73zM953.2 514.3h6.73v6.69h-6.73zM979.6 514.3h6.73v6.69h-6.73zM999.3 514.3h6.73v6.69h-6.73zM1032.2 514.3h6.73v6.69h-6.73zM1038.8 514.3h6.73v6.69h-6.73zM1065.1 514.3h6.73v6.69h-6.73zM1091.4 514.3h6.73v6.69h-6.73zM1104.6 514.3h6.73v6.69h-6.73zM1111.2 514.3h6.73v6.69h-6.73zM1124.3 514.3h6.73v6.69h-6.73zM933.5 520.8h6.73v6.69h-6.73zM986.1 520.8h6.73v6.69h-6.73zM1019.0 520.8h6.73v6.69h-6.73zM1038.8 520.8h6.73v6.69h-6.73zM1071.7 520.8h6.73v6.69h-6.73zM1078.3 520.8h6.73v6.69h-6.73zM1084.8 520.8h6.73v6.69h-6.73zM1091.4 520.8h6.73v6.69h-6.73zM1117.7 520.8h6.73v6.69h-6.73zM959.8 527.4h6.73v6.69h-6.73zM966.4 527.4h6.73v6.69h-6.73zM979.6 527.4h6.73v6.69h-6.73zM986.1 527.4h6.73v6.69h-6.73zM999.3 527.4h6.73v6.69h-6.73zM1058.5 527.4h6.73v6.69h-6.73zM1078.3 527.4h6.73v6.69h-6.73zM1104.6 527.4h6.73v6.69h-6.73zM933.5 533.9h6.73v6.69h-6.73zM946.7 533.9h6.73v6.69h-6.73zM966.4 533.9h6.73v6.69h-6.73zM979.6 533.9h6.73v6.69h-6.73zM992.7 533.9h6.73v6.69h-6.73zM1025.6 533.9h6.73v6.69h-6.73zM1038.8 533.9h6.73v6.69h-6.73zM1091.4 533.9h6.73v6.69h-6.73zM1098.0 533.9h6.73v6.69h-6.73zM946.7 540.4h6.73v6.69h-6.73zM1005.9 540.4h6.73v6.69h-6.73zM1019.0 540.4h6.73v6.69h-6.73zM1058.5 540.4h6.73v6.69h-6.73zM1078.3 540.4h6.73v6.69h-6.73zM1084.8 540.4h6.73v6.69h-6.73zM1091.4 540.4h6.73v6.69h-6.73zM1111.2 540.4h6.73v6.69h-6.73zM1117.7 540.4h6.73v6.69h-6.73zM966.4 547.0h6.73v6.69h-6.73zM973.0 547.0h6.73v6.69h-6.73zM979.6 547.0h6.73v6.69h-6.73zM1019.0 547.0h6.73v6.69h-6.73zM1025.6 547.0h6.73v6.69h-6.73zM1038.8 547.0h6.73v6.69h-6.73zM1045.4 547.0h6.73v6.69h-6.73zM1065.1 547.0h6.73v6.69h-6.73zM1098.0 547.0h6.73v6.69h-6.73zM1104.6 547.0h6.73v6.69h-6.73zM933.5 553.5h6.73v6.69h-6.73zM992.7 553.5h6.73v6.69h-6.73zM1005.9 553.5h6.73v6.69h-6.73zM1019.0 553.5h6.73v6.69h-6.73zM1032.2 553.5h6.73v6.69h-6.73zM1045.4 553.5h6.73v6.69h-6.73zM933.5 560.1h6.73v6.69h-6.73zM946.7 560.1h6.73v6.69h-6.73zM979.6 560.1h6.73v6.69h-6.73zM1071.7 560.1h6.73v6.69h-6.73zM940.1 566.6h6.73v6.69h-6.73zM946.7 566.6h6.73v6.69h-6.73zM999.3 566.6h6.73v6.69h-6.73zM1084.8 566.6h6.73v6.69h-6.73zM946.7 573.1h6.73v6.69h-6.73zM953.2 573.1h6.73v6.69h-6.73zM959.8 573.1h6.73v6.69h-6.73zM966.4 573.1h6.73v6.69h-6.73zM986.1 573.1h6.73v6.69h-6.73zM992.7 573.1h6.73v6.69h-6.73zM1032.2 573.1h6.73v6.69h-6.73zM1045.4 573.1h6.73v6.69h-6.73zM946.7 579.7h6.73v6.69h-6.73zM953.2 579.7h6.73v6.69h-6.73zM966.4 579.7h6.73v6.69h-6.73zM986.1 579.7h6.73v6.69h-6.73zM992.7 579.7h6.73v6.69h-6.73zM999.3 579.7h6.73v6.69h-6.73zM1019.0 579.7h6.73v6.69h-6.73zM946.7 586.2h6.73v6.69h-6.73zM1012.5 586.2h6.73v6.69h-6.73zM1065.1 586.2h6.73v6.69h-6.73zM953.2 592.8h6.73v6.69h-6.73zM1012.5 592.8h6.73v6.69h-6.73zM1019.0 592.8h6.73v6.69h-6.73zM973.0 599.3h6.73v6.69h-6.73zM986.1 599.3h6.73v6.69h-6.73zM1005.9 599.3h6.73v6.69h-6.73zM1019.0 599.3h6.73v6.69h-6.73zM959.8 605.9h6.73v6.69h-6.73zM986.1 605.9h6.73v6.69h-6.73zM992.7 605.9h6.73v6.69h-6.73zM1217.9 409.6h6.73v6.69h-6.73zM1224.4 409.6h6.73v6.69h-6.73zM1263.9 409.6h6.73v6.69h-6.73zM1270.5 409.6h6.73v6.69h-6.73zM1277.1 409.6h6.73v6.69h-6.73zM1211.3 416.1h6.73v6.69h-6.73zM1224.4 416.1h6.73v6.69h-6.73zM1244.2 416.1h6.73v6.69h-6.73zM1257.3 416.1h6.73v6.69h-6.73zM1277.1 416.1h6.73v6.69h-6.73zM1211.3 422.7h6.73v6.69h-6.73zM1257.3 422.7h6.73v6.69h-6.73zM1224.4 429.2h6.73v6.69h-6.73zM1231.0 429.2h6.73v6.69h-6.73zM1237.6 429.2h6.73v6.69h-6.73zM1244.2 429.2h6.73v6.69h-6.73zM1270.5 429.2h6.73v6.69h-6.73zM1277.1 429.2h6.73v6.69h-6.73zM1138.9 435.8h6.73v6.69h-6.73zM1158.6 435.8h6.73v6.69h-6.73zM1257.3 435.8h6.73v6.69h-6.73zM1263.9 435.8h6.73v6.69h-6.73zM1290.2 435.8h6.73v6.69h-6.73zM1244.2 442.3h6.73v6.69h-6.73zM1198.1 448.9h6.73v6.69h-6.73zM1217.9 448.9h6.73v6.69h-6.73zM1231.0 448.9h6.73v6.69h-6.73zM1250.8 448.9h6.73v6.69h-6.73zM1198.1 455.4h6.73v6.69h-6.73zM1231.0 455.4h6.73v6.69h-6.73zM1250.8 455.4h6.73v6.69h-6.73zM1277.1 455.4h6.73v6.69h-6.73zM1257.3 461.9h6.73v6.69h-6.73zM1277.1 461.9h6.73v6.69h-6.73zM1224.4 468.5h6.73v6.69h-6.73zM1237.6 468.5h6.73v6.69h-6.73zM1263.9 468.5h6.73v6.69h-6.73zM1283.7 468.5h6.73v6.69h-6.73zM1211.3 475.0h6.73v6.69h-6.73zM1237.6 475.0h6.73v6.69h-6.73zM1263.9 475.0h6.73v6.69h-6.73zM1290.2 475.0h6.73v6.69h-6.73zM1198.1 481.6h6.73v6.69h-6.73zM1217.9 481.6h6.73v6.69h-6.73zM1244.2 481.6h6.73v6.69h-6.73zM1257.3 481.6h6.73v6.69h-6.73zM1283.7 481.6h6.73v6.69h-6.73zM1211.3 488.1h6.73v6.69h-6.73zM1250.8 494.6h6.73v6.69h-6.73zM1257.3 494.6h6.73v6.69h-6.73zM1277.1 494.6h6.73v6.69h-6.73zM1323.1 494.6h6.73v6.69h-6.73zM1198.1 501.2h6.73v6.69h-6.73zM1217.9 501.2h6.73v6.69h-6.73zM1231.0 501.2h6.73v6.69h-6.73zM1237.6 501.2h6.73v6.69h-6.73zM1283.7 501.2h6.73v6.69h-6.73zM1204.7 507.7h6.73v6.69h-6.73zM1217.9 507.7h6.73v6.69h-6.73zM1224.4 507.7h6.73v6.69h-6.73zM1257.3 507.7h6.73v6.69h-6.73zM1277.1 507.7h6.73v6.69h-6.73zM1283.7 507.7h6.73v6.69h-6.73zM1237.6 514.3h6.73v6.69h-6.73zM1244.2 514.3h6.73v6.69h-6.73zM1250.8 514.3h6.73v6.69h-6.73zM1257.3 514.3h6.73v6.69h-6.73zM1263.9 514.3h6.73v6.69h-6.73zM1329.7 514.3h6.73v6.69h-6.73zM1231.0 520.8h6.73v6.69h-6.73zM1263.9 520.8h6.73v6.69h-6.73zM1277.1 520.8h6.73v6.69h-6.73zM1329.7 520.8h6.73v6.69h-6.73zM1191.5 527.4h6.73v6.69h-6.73zM1224.4 527.4h6.73v6.69h-6.73zM1237.6 527.4h6.73v6.69h-6.73zM1250.8 527.4h6.73v6.69h-6.73zM1303.4 527.4h6.73v6.69h-6.73zM1316.6 527.4h6.73v6.69h-6.73zM1329.7 527.4h6.73v6.69h-6.73zM1237.6 533.9h6.73v6.69h-6.73zM1257.3 533.9h6.73v6.69h-6.73zM1283.7 533.9h6.73v6.69h-6.73zM1296.8 533.9h6.73v6.69h-6.73zM1310.0 533.9h6.73v6.69h-6.73zM1329.7 533.9h6.73v6.69h-6.73zM1217.9 540.4h6.73v6.69h-6.73zM1231.0 540.4h6.73v6.69h-6.73zM1237.6 540.4h6.73v6.69h-6.73zM1244.2 540.4h6.73v6.69h-6.73zM1250.8 540.4h6.73v6.69h-6.73zM1263.9 540.4h6.73v6.69h-6.73zM1283.7 540.4h6.73v6.69h-6.73zM1296.8 540.4h6.73v6.69h-6.73zM1316.6 540.4h6.73v6.69h-6.73zM1336.3 540.4h6.73v6.69h-6.73zM1211.3 547.0h6.73v6.69h-6.73zM1217.9 547.0h6.73v6.69h-6.73zM1231.0 547.0h6.73v6.69h-6.73zM1237.6 547.0h6.73v6.69h-6.73zM1244.2 547.0h6.73v6.69h-6.73zM1270.5 547.0h6.73v6.69h-6.73zM1277.1 547.0h6.73v6.69h-6.73zM1310.0 547.0h6.73v6.69h-6.73zM1316.6 547.0h6.73v6.69h-6.73zM1329.7 547.0h6.73v6.69h-6.73zM1158.6 553.5h6.73v6.69h-6.73zM1231.0 553.5h6.73v6.69h-6.73zM1244.2 553.5h6.73v6.69h-6.73zM1250.8 553.5h6.73v6.69h-6.73zM1257.3 553.5h6.73v6.69h-6.73zM1316.6 553.5h6.73v6.69h-6.73zM1323.1 553.5h6.73v6.69h-6.73zM1198.1 560.1h6.73v6.69h-6.73zM1224.4 560.1h6.73v6.69h-6.73zM1257.3 560.1h6.73v6.69h-6.73zM1283.7 560.1h6.73v6.69h-6.73zM1296.8 560.1h6.73v6.69h-6.73zM1323.1 560.1h6.73v6.69h-6.73zM1204.7 566.6h6.73v6.69h-6.73zM1231.0 566.6h6.73v6.69h-6.73zM1270.5 566.6h6.73v6.69h-6.73zM1290.2 566.6h6.73v6.69h-6.73zM1303.4 566.6h6.73v6.69h-6.73zM1316.6 566.6h6.73v6.69h-6.73zM1329.7 566.6h6.73v6.69h-6.73zM1224.4 573.1h6.73v6.69h-6.73zM1257.3 573.1h6.73v6.69h-6.73zM1270.5 573.1h6.73v6.69h-6.73zM1296.8 573.1h6.73v6.69h-6.73zM1303.4 573.1h6.73v6.69h-6.73zM1310.0 573.1h6.73v6.69h-6.73zM1316.6 573.1h6.73v6.69h-6.73zM1323.1 573.1h6.73v6.69h-6.73zM1185.0 579.7h6.73v6.69h-6.73zM1204.7 579.7h6.73v6.69h-6.73zM1224.4 579.7h6.73v6.69h-6.73zM1283.7 579.7h6.73v6.69h-6.73zM1316.6 579.7h6.73v6.69h-6.73zM1217.9 586.2h6.73v6.69h-6.73zM1263.9 586.2h6.73v6.69h-6.73zM1277.1 586.2h6.73v6.69h-6.73zM1158.6 592.8h6.73v6.69h-6.73zM1185.0 592.8h6.73v6.69h-6.73zM1198.1 592.8h6.73v6.69h-6.73zM1263.9 592.8h6.73v6.69h-6.73zM1270.5 592.8h6.73v6.69h-6.73zM1138.9 599.3h6.73v6.69h-6.73zM1152.1 599.3h6.73v6.69h-6.73zM1158.6 599.3h6.73v6.69h-6.73zM1165.2 599.3h6.73v6.69h-6.73zM1185.0 599.3h6.73v6.69h-6.73zM1204.7 599.3h6.73v6.69h-6.73zM1217.9 599.3h6.73v6.69h-6.73zM1224.4 599.3h6.73v6.69h-6.73zM1231.0 599.3h6.73v6.69h-6.73zM1257.3 599.3h6.73v6.69h-6.73zM1283.7 599.3h6.73v6.69h-6.73zM1329.7 599.3h6.73v6.69h-6.73zM1336.3 599.3h6.73v6.69h-6.73zM1138.9 605.9h6.73v6.69h-6.73zM1191.5 605.9h6.73v6.69h-6.73zM1198.1 605.9h6.73v6.69h-6.73zM1224.4 605.9h6.73v6.69h-6.73zM1231.0 605.9h6.73v6.69h-6.73z"/>
<path fill="#c1a2df" d="M979.6 205.6h6.73v6.70h-6.73zM986.1 205.6h6.73v6.70h-6.73zM1012.5 205.6h6.73v6.70h-6.73zM1117.7 205.6h6.73v6.70h-6.73zM973.0 212.1h6.73v6.70h-6.73zM979.6 212.1h6.73v6.70h-6.73zM999.3 212.1h6.73v6.70h-6.73zM973.0 218.7h6.73v6.70h-6.73zM986.1 218.7h6.73v6.70h-6.73zM1005.9 218.7h6.73v6.70h-6.73zM973.0 225.2h6.73v6.70h-6.73zM999.3 225.2h6.73v6.70h-6.73zM966.4 231.8h6.73v6.70h-6.73zM986.1 231.8h6.73v6.70h-6.73zM1025.6 231.8h6.73v6.70h-6.73zM966.4 238.3h6.73v6.70h-6.73zM986.1 238.3h6.73v6.70h-6.73zM999.3 238.3h6.73v6.70h-6.73zM1019.0 238.3h6.73v6.70h-6.73zM946.7 244.9h6.73v6.70h-6.73zM1117.7 244.9h6.73v6.70h-6.73zM1117.7 251.4h6.73v6.70h-6.73zM1019.0 258.0h6.73v6.70h-6.73zM1065.1 258.0h6.73v6.70h-6.73zM1084.8 258.0h6.73v6.70h-6.73zM1098.0 258.0h6.73v6.70h-6.73zM979.6 264.5h6.73v6.70h-6.73zM1019.0 264.5h6.73v6.70h-6.73zM1025.6 264.5h6.73v6.70h-6.73zM966.4 271.1h6.73v6.70h-6.73zM979.6 271.1h6.73v6.70h-6.73zM992.7 271.1h6.73v6.70h-6.73zM1051.9 271.1h6.73v6.70h-6.73zM1084.8 271.1h6.73v6.70h-6.73zM1111.2 271.1h6.73v6.70h-6.73zM1025.6 277.6h6.73v6.70h-6.73zM1084.8 277.6h6.73v6.70h-6.73zM1091.4 277.6h6.73v6.70h-6.73zM1098.0 277.6h6.73v6.70h-6.73zM1104.6 277.6h6.73v6.70h-6.73zM940.1 284.2h6.73v6.70h-6.73zM986.1 284.2h6.73v6.70h-6.73zM992.7 284.2h6.73v6.70h-6.73zM1025.6 284.2h6.73v6.70h-6.73zM1032.2 284.2h6.73v6.70h-6.73zM1058.5 284.2h6.73v6.70h-6.73zM1071.7 284.2h6.73v6.70h-6.73zM1098.0 284.2h6.73v6.70h-6.73zM1117.7 284.2h6.73v6.70h-6.73zM1124.3 284.2h6.73v6.70h-6.73zM959.8 290.7h6.73v6.70h-6.73zM979.6 290.7h6.73v6.70h-6.73zM1071.7 290.7h6.73v6.70h-6.73zM1091.4 290.7h6.73v6.70h-6.73zM953.2 297.3h6.73v6.70h-6.73zM973.0 297.3h6.73v6.70h-6.73zM992.7 297.3h6.73v6.70h-6.73zM1032.2 297.3h6.73v6.70h-6.73zM1051.9 297.3h6.73v6.70h-6.73zM1078.3 297.3h6.73v6.70h-6.73zM1091.4 297.3h6.73v6.70h-6.73zM1111.2 297.3h6.73v6.70h-6.73zM933.5 303.8h6.73v6.70h-6.73zM1038.8 303.8h6.73v6.70h-6.73zM1111.2 303.8h6.73v6.70h-6.73zM953.2 310.4h6.73v6.70h-6.73zM973.0 310.4h6.73v6.70h-6.73zM979.6 310.4h6.73v6.70h-6.73zM1005.9 310.4h6.73v6.70h-6.73zM992.7 316.9h6.73v6.70h-6.73zM940.1 323.5h6.73v6.70h-6.73zM999.3 323.5h6.73v6.70h-6.73zM1005.9 323.5h6.73v6.70h-6.73zM1038.8 323.5h6.73v6.70h-6.73zM1058.5 330.0h6.73v6.70h-6.73zM1025.6 349.7h6.73v6.70h-6.73zM940.1 356.2h6.73v6.70h-6.73zM946.7 356.2h6.73v6.70h-6.73zM946.7 382.4h6.73v6.70h-6.73zM999.3 409.6h6.73v6.69h-6.73zM1019.0 409.6h6.73v6.69h-6.73zM1104.6 409.6h6.73v6.69h-6.73zM1111.2 409.6h6.73v6.69h-6.73zM1124.3 409.6h6.73v6.69h-6.73zM999.3 416.1h6.73v6.69h-6.73zM1012.5 416.1h6.73v6.69h-6.73zM1038.8 416.1h6.73v6.69h-6.73zM979.6 422.7h6.73v6.69h-6.73zM1019.0 422.7h6.73v6.69h-6.73zM1045.4 422.7h6.73v6.69h-6.73zM979.6 429.2h6.73v6.69h-6.73zM986.1 429.2h6.73v6.69h-6.73zM1098.0 429.2h6.73v6.69h-6.73zM973.0 435.8h6.73v6.69h-6.73zM992.7 435.8h6.73v6.69h-6.73zM999.3 435.8h6.73v6.69h-6.73zM1051.9 435.8h6.73v6.69h-6.73zM1084.8 435.8h6.73v6.69h-6.73zM1117.7 435.8h6.73v6.69h-6.73zM1104.6 442.3h6.73v6.69h-6.73zM1111.2 442.3h6.73v6.69h-6.73zM1005.9 448.9h6.73v6.69h-6.73zM1065.1 448.9h6.73v6.69h-6.73zM979.6 455.4h6.73v6.69h-6.73zM986.1 455.4h6.73v6.69h-6.73zM992.7 455.4h6.73v6.69h-6.73zM999.3 455.4h6.73v6.69h-6.73zM1005.9 455.4h6.73v6.69h-6.73zM1038.8 455.4h6.73v6.69h-6.73zM1111.2 455.4h6.73v6.69h-6.73zM959.8 461.9h6.73v6.69h-6.73zM992.7 461.9h6.73v6.69h-6.73zM999.3 461.9h6.73v6.69h-6.73zM1012.5 461.9h6.73v6.69h-6.73zM1032.2 461.9h6.73v6.69h-6.73zM966.4 468.5h6.73v6.69h-6.73zM999.3 468.5h6.73v6.69h-6.73zM1084.8 468.5h6.73v6.69h-6.73zM1098.0 468.5h6.73v6.69h-6.73zM999.3 475.0h6.73v6.69h-6.73zM1058.5 475.0h6.73v6.69h-6.73zM1078.3 475.0h6.73v6.69h-6.73zM1098.0 475.0h6.73v6.69h-6.73zM999.3 481.6h6.73v6.69h-6.73zM1005.9 481.6h6.73v6.69h-6.73zM1038.8 481.6h6.73v6.69h-6.73zM1045.4 481.6h6.73v6.69h-6.73zM1065.1 481.6h6.73v6.69h-6.73zM1111.2 481.6h6.73v6.69h-6.73zM992.7 494.6h6.73v6.69h-6.73zM1051.9 494.6h6.73v6.69h-6.73zM1058.5 494.6h6.73v6.69h-6.73zM1071.7 494.6h6.73v6.69h-6.73zM1104.6 494.6h6.73v6.69h-6.73zM992.7 501.2h6.73v6.69h-6.73zM1084.8 501.2h6.73v6.69h-6.73zM1098.0 501.2h6.73v6.69h-6.73zM1117.7 501.2h6.73v6.69h-6.73zM953.2 507.7h6.73v6.69h-6.73zM986.1 507.7h6.73v6.69h-6.73zM992.7 507.7h6.73v6.69h-6.73zM1005.9 507.7h6.73v6.69h-6.73zM1065.1 507.7h6.73v6.69h-6.73zM1111.2 507.7h6.73v6.69h-6.73zM966.4 514.3h6.73v6.69h-6.73zM986.1 514.3h6.73v6.69h-6.73zM992.7 514.3h6.73v6.69h-6.73zM1005.9 514.3h6.73v6.69h-6.73zM1051.9 514.3h6.73v6.69h-6.73zM1058.5 514.3h6.73v6.69h-6.73zM1098.0 514.3h6.73v6.69h-6.73zM946.7 520.8h6.73v6.69h-6.73zM973.0 520.8h6.73v6.69h-6.73zM1012.5 520.8h6.73v6.69h-6.73zM1065.1 520.8h6.73v6.69h-6.73zM1104.6 520.8h6.73v6.69h-6.73zM1111.2 520.8h6.73v6.69h-6.73zM1124.3 520.8h6.73v6.69h-6.73zM933.5 527.4h6.73v6.69h-6.73zM1012.5 527.4h6.73v6.69h-6.73zM1045.4 527.4h6.73v6.69h-6.73zM1051.9 527.4h6.73v6.69h-6.73zM940.1 533.9h6.73v6.69h-6.73zM1045.4 533.9h6.73v6.69h-6.73zM1051.9 533.9h6.73v6.69h-6.73zM1078.3 533.9h6.73v6.69h-6.73zM1104.6 533.9h6.73v6.69h-6.73zM959.8 540.4h6.73v6.69h-6.73zM986.1 540.4h6.73v6.69h-6.73zM1032.2 540.4h6.73v6.69h-6.73zM933.5 547.0h6.73v6.69h-6.73zM1012.5 547.0h6.73v6.69h-6.73zM1071.7 547.0h6.73v6.69h-6.73zM1078.3 547.0h6.73v6.69h-6.73zM1091.4 547.0h6.73v6.69h-6.73zM986.1 553.5h6.73v6.69h-6.73zM1012.5 553.5h6.73v6.69h-6.73zM1025.6 553.5h6.73v6.69h-6.73zM1005.9 560.1h6.73v6.69h-6.73zM1019.0 560.1h6.73v6.69h-6.73zM1032.2 560.1h6.73v6.69h-6.73zM1038.8 566.6h6.73v6.69h-6.73zM933.5 573.1h6.73v6.69h-6.73zM1038.8 573.1h6.73v6.69h-6.73zM933.5 579.7h6.73v6.69h-6.73zM953.2 586.2h6.73v6.69h-6.73zM966.4 586.2h6.73v6.69h-6.73zM966.4 592.8h6.73v6.69h-6.73zM986.1 592.8h6.73v6.69h-6.73zM992.7 592.8h6.73v6.69h-6.73zM999.3 592.8h6.73v6.69h-6.73zM966.4 599.3h6.73v6.69h-6.73zM979.6 605.9h6.73v6.69h-6.73zM1237.6 416.1h6.73v6.69h-6.73zM1270.5 416.1h6.73v6.69h-6.73zM1290.2 416.1h6.73v6.69h-6.73zM1231.0 422.7h6.73v6.69h-6.73zM1250.8 422.7h6.73v6.69h-6.73zM1277.1 422.7h6.73v6.69h-6.73zM1217.9 429.2h6.73v6.69h-6.73zM1250.8 429.2h6.73v6.69h-6.73zM1257.3 429.2h6.73v6.69h-6.73zM1263.9 429.2h6.73v6.69h-6.73zM1270.5 435.8h6.73v6.69h-6.73zM1257.3 442.3h6.73v6.69h-6.73zM1263.9 442.3h6.73v6.69h-6.73zM1270.5 442.3h6.73v6.69h-6.73zM1283.7 442.3h6.73v6.69h-6.73zM1263.9 448.9h6.73v6.69h-6.73zM1224.4 455.4h6.73v6.69h-6.73zM1244.2 455.4h6.73v6.69h-6.73zM1231.0 461.9h6.73v6.69h-6.73zM1270.5 461.9h6.73v6.69h-6.73zM1296.8 461.9h6.73v6.69h-6.73zM1244.2 468.5h6.73v6.69h-6.73zM1250.8 468.5h6.73v6.69h-6.73zM1277.1 468.5h6.73v6.69h-6.73zM1231.0 475.0h6.73v6.69h-6.73zM1250.8 481.6h6.73v6.69h-6.73zM1263.9 481.6h6.73v6.69h-6.73zM1296.8 481.6h6.73v6.69h-6.73zM1244.2 488.1h6.73v6.69h-6.73zM1257.3 488.1h6.73v6.69h-6.73zM1263.9 488.1h6.73v6.69h-6.73zM1270.5 488.1h6.73v6.69h-6.73zM1277.1 488.1h6.73v6.69h-6.73zM1263.9 494.6h6.73v6.69h-6.73zM1224.4 501.2h6.73v6.69h-6.73zM1244.2 501.2h6.73v6.69h-6.73zM1257.3 501.2h6.73v6.69h-6.73zM1277.1 501.2h6.73v6.69h-6.73zM1336.3 501.2h6.73v6.69h-6.73zM1231.0 507.7h6.73v6.69h-6.73zM1250.8 507.7h6.73v6.69h-6.73zM1263.9 507.7h6.73v6.69h-6.73zM1290.2 507.7h6.73v6.69h-6.73zM1323.1 507.7h6.73v6.69h-6.73zM1231.0 514.3h6.73v6.69h-6.73zM1270.5 514.3h6.73v6.69h-6.73zM1277.1 514.3h6.73v6.69h-6.73zM1296.8 514.3h6.73v6.69h-6.73zM1237.6 520.8h6.73v6.69h-6.73zM1244.2 520.8h6.73v6.69h-6.73zM1250.8 520.8h6.73v6.69h-6.73zM1310.0 520.8h6.73v6.69h-6.73zM1323.1 520.8h6.73v6.69h-6.73zM1290.2 527.4h6.73v6.69h-6.73zM1296.8 527.4h6.73v6.69h-6.73zM1224.4 533.9h6.73v6.69h-6.73zM1316.6 533.9h6.73v6.69h-6.73zM1323.1 533.9h6.73v6.69h-6.73zM1336.3 533.9h6.73v6.69h-6.73zM1224.4 540.4h6.73v6.69h-6.73zM1270.5 540.4h6.73v6.69h-6.73zM1303.4 540.4h6.73v6.69h-6.73zM1224.4 547.0h6.73v6.69h-6.73zM1250.8 547.0h6.73v6.69h-6.73zM1263.9 547.0h6.73v6.69h-6.73zM1283.7 547.0h6.73v6.69h-6.73zM1303.4 547.0h6.73v6.69h-6.73zM1323.1 547.0h6.73v6.69h-6.73zM1290.2 553.5h6.73v6.69h-6.73zM1336.3 553.5h6.73v6.69h-6.73zM1231.0 560.1h6.73v6.69h-6.73zM1290.2 560.1h6.73v6.69h-6.73zM1310.0 560.1h6.73v6.69h-6.73zM1316.6 560.1h6.73v6.69h-6.73zM1277.1 566.6h6.73v6.69h-6.73zM1323.1 566.6h6.73v6.69h-6.73zM1277.1 573.1h6.73v6.69h-6.73zM1296.8 579.7h6.73v6.69h-6.73zM1329.7 579.7h6.73v6.69h-6.73zM1158.6 586.2h6.73v6.69h-6.73zM1290.2 586.2h6.73v6.69h-6.73zM1211.3 592.8h6.73v6.69h-6.73zM1231.0 592.8h6.73v6.69h-6.73zM1290.2 592.8h6.73v6.69h-6.73zM1145.5 599.3h6.73v6.69h-6.73zM1178.4 599.3h6.73v6.69h-6.73zM1198.1 599.3h6.73v6.69h-6.73zM1211.3 599.3h6.73v6.69h-6.73zM1237.6 599.3h6.73v6.69h-6.73zM1171.8 605.9h6.73v6.69h-6.73zM1178.4 605.9h6.73v6.69h-6.73zM1211.3 605.9h6.73v6.69h-6.73zM1217.9 605.9h6.73v6.69h-6.73z"/>
<path fill="#a279cc" d="M1019.0 205.6h6.73v6.70h-6.73zM1091.4 205.6h6.73v6.70h-6.73zM1012.5 212.1h6.73v6.70h-6.73zM979.6 218.7h6.73v6.70h-6.73zM992.7 225.2h6.73v6.70h-6.73zM973.0 231.8h6.73v6.70h-6.73zM992.7 231.8h6.73v6.70h-6.73zM1032.2 231.8h6.73v6.70h-6.73zM979.6 238.3h6.73v6.70h-6.73zM1019.0 244.9h6.73v6.70h-6.73zM1071.7 244.9h6.73v6.70h-6.73zM1078.3 251.4h6.73v6.70h-6.73zM992.7 258.0h6.73v6.70h-6.73zM1045.4 258.0h6.73v6.70h-6.73zM1051.9 258.0h6.73v6.70h-6.73zM1104.6 258.0h6.73v6.70h-6.73zM999.3 271.1h6.73v6.70h-6.73zM1019.0 271.1h6.73v6.70h-6.73zM1025.6 271.1h6.73v6.70h-6.73zM1045.4 271.1h6.73v6.70h-6.73zM1071.7 271.1h6.73v6.70h-6.73zM1071.7 277.6h6.73v6.70h-6.73zM1012.5 284.2h6.73v6.70h-6.73zM1012.5 290.7h6.73v6.70h-6.73zM1038.8 290.7h6.73v6.70h-6.73zM1045.4 290.7h6.73v6.70h-6.73zM1084.8 290.7h6.73v6.70h-6.73zM1025.6 297.3h6.73v6.70h-6.73zM1071.7 297.3h6.73v6.70h-6.73zM940.1 303.8h6.73v6.70h-6.73zM940.1 310.4h6.73v6.70h-6.73zM933.5 316.9h6.73v6.70h-6.73zM933.5 330.0h6.73v6.70h-6.73zM940.1 349.7h6.73v6.70h-6.73zM946.7 369.3h6.73v6.70h-6.73zM933.5 375.9h6.73v6.70h-6.73zM933.5 389.0h6.73v6.70h-6.73zM1032.2 409.6h6.73v6.69h-6.73zM1045.4 409.6h6.73v6.69h-6.73zM1084.8 422.7h6.73v6.69h-6.73zM1051.9 429.2h6.73v6.69h-6.73zM1065.1 429.2h6.73v6.69h-6.73zM1071.7 429.2h6.73v6.69h-6.73zM1111.2 429.2h6.73v6.69h-6.73zM1038.8 435.8h6.73v6.69h-6.73zM1098.0 435.8h6.73v6.69h-6.73zM1038.8 442.3h6.73v6.69h-6.73zM1051.9 442.3h6.73v6.69h-6.73zM1117.7 442.3h6.73v6.69h-6.73zM992.7 448.9h6.73v6.69h-6.73zM999.3 448.9h6.73v6.69h-6.73zM1051.9 448.9h6.73v6.69h-6.73zM1065.1 455.4h6.73v6.69h-6.73zM1071.7 455.4h6.73v6.69h-6.73zM1019.0 461.9h6.73v6.69h-6.73zM1045.4 461.9h6.73v6.69h-6.73zM1071.7 461.9h6.73v6.69h-6.73zM1078.3 461.9h6.73v6.69h-6.73zM1084.8 461.9h6.73v6.69h-6.73zM1098.0 461.9h6.73v6.69h-6.73zM1124.3 461.9h6.73v6.69h-6.73zM1005.9 468.5h6.73v6.69h-6.73zM1038.8 468.5h6.73v6.69h-6.73zM1019.0 475.0h6.73v6.69h-6.73zM1071.7 475.0h6.73v6.69h-6.73zM973.0 481.6h6.73v6.69h-6.73zM1071.7 481.6h6.73v6.69h-6.73zM1091.4 481.6h6.73v6.69h-6.73zM1045.4 488.1h6.73v6.69h-6.73zM1051.9 488.1h6.73v6.69h-6.73zM1065.1 488.1h6.73v6.69h-6.73zM1091.4 488.1h6.73v6.69h-6.73zM1038.8 494.6h6.73v6.69h-6.73zM999.3 501.2h6.73v6.69h-6.73zM1025.6 501.2h6.73v6.69h-6.73zM1071.7 501.2h6.73v6.69h-6.73zM1091.4 501.2h6.73v6.69h-6.73zM999.3 507.7h6.73v6.69h-6.73zM1098.0 507.7h6.73v6.69h-6.73zM1104.6 507.7h6.73v6.69h-6.73zM1045.4 514.3h6.73v6.69h-6.73zM1078.3 514.3h6.73v6.69h-6.73zM1038.8 527.4h6.73v6.69h-6.73zM973.0 533.9h6.73v6.69h-6.73zM1012.5 533.9h6.73v6.69h-6.73zM1051.9 540.4h6.73v6.69h-6.73zM1032.2 547.0h6.73v6.69h-6.73zM1098.0 553.5h6.73v6.69h-6.73zM973.0 566.6h6.73v6.69h-6.73zM940.1 586.2h6.73v6.69h-6.73zM933.5 592.8h6.73v6.69h-6.73zM959.8 599.3h6.73v6.69h-6.73zM1290.2 409.6h6.73v6.69h-6.73zM1250.8 416.1h6.73v6.69h-6.73zM1283.7 422.7h6.73v6.69h-6.73zM1283.7 429.2h6.73v6.69h-6.73zM1336.3 435.8h6.73v6.69h-6.73zM1296.8 442.3h6.73v6.69h-6.73zM1244.2 448.9h6.73v6.69h-6.73zM1277.1 448.9h6.73v6.69h-6.73zM1283.7 448.9h6.73v6.69h-6.73zM1296.8 455.4h6.73v6.69h-6.73zM1303.4 455.4h6.73v6.69h-6.73zM1250.8 461.9h6.73v6.69h-6.73zM1257.3 475.0h6.73v6.69h-6.73zM1303.4 475.0h6.73v6.69h-6.73zM1270.5 481.6h6.73v6.69h-6.73zM1283.7 488.1h6.73v6.69h-6.73zM1329.7 488.1h6.73v6.69h-6.73zM1290.2 494.6h6.73v6.69h-6.73zM1329.7 494.6h6.73v6.69h-6.73zM1310.0 507.7h6.73v6.69h-6.73zM1283.7 514.3h6.73v6.69h-6.73zM1323.1 514.3h6.73v6.69h-6.73zM1257.3 520.8h6.73v6.69h-6.73zM1277.1 527.4h6.73v6.69h-6.73zM1283.7 527.4h6.73v6.69h-6.73zM1290.2 540.4h6.73v6.69h-6.73zM1310.0 540.4h6.73v6.69h-6.73zM1270.5 553.5h6.73v6.69h-6.73zM1270.5 560.1h6.73v6.69h-6.73zM1257.3 579.7h6.73v6.69h-6.73zM1171.8 599.3h6.73v6.69h-6.73zM1185.0 605.9h6.73v6.69h-6.73z"/>
<path fill="#8b5bbb" d="M1025.6 205.6h6.73v6.70h-6.73zM1111.2 212.1h6.73v6.70h-6.73zM1117.7 212.1h6.73v6.70h-6.73zM1124.3 225.2h6.73v6.70h-6.73zM1012.5 231.8h6.73v6.70h-6.73zM1117.7 238.3h6.73v6.70h-6.73zM1084.8 244.9h6.73v6.70h-6.73zM992.7 251.4h6.73v6.70h-6.73zM1025.6 251.4h6.73v6.70h-6.73zM1111.2 251.4h6.73v6.70h-6.73zM1025.6 258.0h6.73v6.70h-6.73zM999.3 264.5h6.73v6.70h-6.73zM1012.5 264.5h6.73v6.70h-6.73zM1051.9 264.5h6.73v6.70h-6.73zM1078.3 264.5h6.73v6.70h-6.73zM1104.6 271.1h6.73v6.70h-6.73zM1065.1 277.6h6.73v6.70h-6.73zM1124.3 277.6h6.73v6.70h-6.73zM1005.9 284.2h6.73v6.70h-6.73zM1045.4 284.2h6.73v6.70h-6.73zM1111.2 284.2h6.73v6.70h-6.73zM1091.4 409.6h6.73v6.69h-6.73zM1032.2 416.1h6.73v6.69h-6.73zM1065.1 416.1h6.73v6.69h-6.73zM1071.7 416.1h6.73v6.69h-6.73zM1012.5 429.2h6.73v6.69h-6.73zM1045.4 429.2h6.73v6.69h-6.73zM1065.1 442.3h6.73v6.69h-6.73zM973.0 448.9h6.73v6.69h-6.73zM1038.8 448.9h6.73v6.69h-6.73zM1078.3 448.9h6.73v6.69h-6.73zM1091.4 448.9h6.73v6.69h-6.73zM1098.0 448.9h6.73v6.69h-6.73zM1091.4 455.4h6.73v6.69h-6.73zM1065.1 461.9h6.73v6.69h-6.73zM1065.1 468.5h6.73v6.69h-6.73zM1078.3 468.5h6.73v6.69h-6.73zM1111.2 468.5h6.73v6.69h-6.73zM979.6 481.6h6.73v6.69h-6.73zM1058.5 481.6h6.73v6.69h-6.73zM1104.6 481.6h6.73v6.69h-6.73zM1124.3 494.6h6.73v6.69h-6.73zM1045.4 507.7h6.73v6.69h-6.73zM1051.9 507.7h6.73v6.69h-6.73zM933.5 599.3h6.73v6.69h-6.73zM1290.2 422.7h6.73v6.69h-6.73zM1296.8 448.9h6.73v6.69h-6.73zM1263.9 461.9h6.73v6.69h-6.73zM1310.0 468.5h6.73v6.69h-6.73zM1270.5 475.0h6.73v6.69h-6.73zM1277.1 481.6h6.73v6.69h-6.73zM1329.7 481.6h6.73v6.69h-6.73zM1310.0 514.3h6.73v6.69h-6.73zM1290.2 520.8h6.73v6.69h-6.73zM1329.7 540.4h6.73v6.69h-6.73z"/>
<path fill="#7f4ab2" d="M1032.2 205.6h6.73v6.70h-6.73zM1058.5 205.6h6.73v6.70h-6.73zM1078.3 205.6h6.73v6.70h-6.73zM1104.6 205.6h6.73v6.70h-6.73zM1111.2 205.6h6.73v6.70h-6.73zM1124.3 212.1h6.73v6.70h-6.73zM1025.6 218.7h6.73v6.70h-6.73zM1098.0 218.7h6.73v6.70h-6.73zM1019.0 225.2h6.73v6.70h-6.73zM1038.8 225.2h6.73v6.70h-6.73zM1065.1 225.2h6.73v6.70h-6.73zM1091.4 225.2h6.73v6.70h-6.73zM1098.0 225.2h6.73v6.70h-6.73zM1104.6 225.2h6.73v6.70h-6.73zM992.7 238.3h6.73v6.70h-6.73zM1025.6 238.3h6.73v6.70h-6.73zM1038.8 238.3h6.73v6.70h-6.73zM1045.4 238.3h6.73v6.70h-6.73zM1058.5 238.3h6.73v6.70h-6.73zM1091.4 238.3h6.73v6.70h-6.73zM1098.0 238.3h6.73v6.70h-6.73zM1045.4 244.9h6.73v6.70h-6.73zM1104.6 244.9h6.73v6.70h-6.73zM1045.4 251.4h6.73v6.70h-6.73zM1058.5 251.4h6.73v6.70h-6.73zM1091.4 251.4h6.73v6.70h-6.73zM1104.6 251.4h6.73v6.70h-6.73zM1045.4 264.5h6.73v6.70h-6.73zM1032.2 277.6h6.73v6.70h-6.73zM1038.8 284.2h6.73v6.70h-6.73zM933.5 395.5h6.73v6.70h-6.73zM1084.8 416.1h6.73v6.69h-6.73zM1111.2 416.1h6.73v6.69h-6.73zM1051.9 422.7h6.73v6.69h-6.73zM1078.3 422.7h6.73v6.69h-6.73zM1111.2 422.7h6.73v6.69h-6.73zM1019.0 429.2h6.73v6.69h-6.73zM1025.6 429.2h6.73v6.69h-6.73zM1058.5 429.2h6.73v6.69h-6.73zM1084.8 429.2h6.73v6.69h-6.73zM1091.4 429.2h6.73v6.69h-6.73zM1091.4 435.8h6.73v6.69h-6.73zM1084.8 442.3h6.73v6.69h-6.73zM1019.0 448.9h6.73v6.69h-6.73zM1045.4 448.9h6.73v6.69h-6.73zM1025.6 455.4h6.73v6.69h-6.73zM1058.5 455.4h6.73v6.69h-6.73zM1084.8 455.4h6.73v6.69h-6.73zM1038.8 461.9h6.73v6.69h-6.73zM1051.9 468.5h6.73v6.69h-6.73zM1012.5 475.0h6.73v6.69h-6.73zM1078.3 494.6h6.73v6.69h-6.73zM1058.5 501.2h6.73v6.69h-6.73zM1104.6 501.2h6.73v6.69h-6.73zM959.8 560.1h6.73v6.69h-6.73zM940.1 592.8h6.73v6.69h-6.73zM1283.7 409.6h6.73v6.69h-6.73zM1303.4 409.6h6.73v6.69h-6.73zM1283.7 416.1h6.73v6.69h-6.73zM1303.4 416.1h6.73v6.69h-6.73zM1316.6 416.1h6.73v6.69h-6.73zM1336.3 416.1h6.73v6.69h-6.73zM1296.8 422.7h6.73v6.69h-6.73zM1310.0 422.7h6.73v6.69h-6.73zM1316.6 422.7h6.73v6.69h-6.73zM1296.8 429.2h6.73v6.69h-6.73zM1303.4 429.2h6.73v6.69h-6.73zM1290.2 442.3h6.73v6.69h-6.73zM1303.4 442.3h6.73v6.69h-6.73zM1290.2 448.9h6.73v6.69h-6.73zM1329.7 448.9h6.73v6.69h-6.73zM1323.1 455.4h6.73v6.69h-6.73zM1303.4 461.9h6.73v6.69h-6.73zM1316.6 461.9h6.73v6.69h-6.73zM1303.4 481.6h6.73v6.69h-6.73zM1290.2 488.1h6.73v6.69h-6.73zM1296.8 488.1h6.73v6.69h-6.73zM1316.6 488.1h6.73v6.69h-6.73zM1270.5 501.2h6.73v6.69h-6.73zM1296.8 501.2h6.73v6.69h-6.73zM1316.6 520.8h6.73v6.69h-6.73zM1290.2 533.9h6.73v6.69h-6.73zM1257.3 540.4h6.73v6.69h-6.73zM1145.5 605.9h6.73v6.69h-6.73zM1152.1 605.9h6.73v6.69h-6.73z"/>
<path fill="#723baa" d="M1038.8 205.6h6.73v6.70h-6.73zM1045.4 205.6h6.73v6.70h-6.73zM1051.9 205.6h6.73v6.70h-6.73zM1084.8 205.6h6.73v6.70h-6.73zM1025.6 212.1h6.73v6.70h-6.73zM1038.8 212.1h6.73v6.70h-6.73zM1045.4 212.1h6.73v6.70h-6.73zM1065.1 218.7h6.73v6.70h-6.73zM1111.2 218.7h6.73v6.70h-6.73zM1117.7 218.7h6.73v6.70h-6.73zM1025.6 225.2h6.73v6.70h-6.73zM1051.9 225.2h6.73v6.70h-6.73zM1111.2 225.2h6.73v6.70h-6.73zM1117.7 225.2h6.73v6.70h-6.73zM1038.8 231.8h6.73v6.70h-6.73zM1045.4 231.8h6.73v6.70h-6.73zM1058.5 231.8h6.73v6.70h-6.73zM1065.1 231.8h6.73v6.70h-6.73zM1078.3 231.8h6.73v6.70h-6.73zM1091.4 231.8h6.73v6.70h-6.73zM1117.7 231.8h6.73v6.70h-6.73zM1124.3 231.8h6.73v6.70h-6.73zM1078.3 238.3h6.73v6.70h-6.73zM1084.8 238.3h6.73v6.70h-6.73zM1051.9 244.9h6.73v6.70h-6.73zM1098.0 244.9h6.73v6.70h-6.73zM1124.3 244.9h6.73v6.70h-6.73zM1065.1 251.4h6.73v6.70h-6.73zM940.1 382.4h6.73v6.70h-6.73zM940.1 389.0h6.73v6.70h-6.73zM940.1 395.5h6.73v6.70h-6.73zM1051.9 409.6h6.73v6.69h-6.73zM1098.0 409.6h6.73v6.69h-6.73zM1032.2 422.7h6.73v6.69h-6.73zM1065.1 422.7h6.73v6.69h-6.73zM1104.6 422.7h6.73v6.69h-6.73zM1058.5 435.8h6.73v6.69h-6.73zM1065.1 435.8h6.73v6.69h-6.73zM1098.0 442.3h6.73v6.69h-6.73zM1058.5 448.9h6.73v6.69h-6.73zM1078.3 488.1h6.73v6.69h-6.73zM1045.4 520.8h6.73v6.69h-6.73zM1296.8 409.6h6.73v6.69h-6.73zM1310.0 416.1h6.73v6.69h-6.73zM1316.6 429.2h6.73v6.69h-6.73zM1323.1 429.2h6.73v6.69h-6.73zM1323.1 435.8h6.73v6.69h-6.73zM1310.0 442.3h6.73v6.69h-6.73zM1329.7 461.9h6.73v6.69h-6.73zM1283.7 475.0h6.73v6.69h-6.73zM1296.8 475.0h6.73v6.69h-6.73zM1323.1 475.0h6.73v6.69h-6.73zM1336.3 475.0h6.73v6.69h-6.73zM1336.3 494.6h6.73v6.69h-6.73zM1303.4 501.2h6.73v6.69h-6.73zM1329.7 501.2h6.73v6.69h-6.73zM1296.8 507.7h6.73v6.69h-6.73zM1329.7 507.7h6.73v6.69h-6.73zM1283.7 520.8h6.73v6.69h-6.73z"/>
<path fill="#ac87d3" d="M1065.1 205.6h6.73v6.70h-6.73zM999.3 218.7h6.73v6.70h-6.73zM1032.2 218.7h6.73v6.70h-6.73zM1005.9 225.2h6.73v6.70h-6.73zM979.6 231.8h6.73v6.70h-6.73zM999.3 231.8h6.73v6.70h-6.73zM1111.2 231.8h6.73v6.70h-6.73zM1005.9 238.3h6.73v6.70h-6.73zM1012.5 238.3h6.73v6.70h-6.73zM992.7 244.9h6.73v6.70h-6.73zM1005.9 244.9h6.73v6.70h-6.73zM1012.5 244.9h6.73v6.70h-6.73zM1111.2 244.9h6.73v6.70h-6.73zM986.1 251.4h6.73v6.70h-6.73zM1012.5 251.4h6.73v6.70h-6.73zM1019.0 251.4h6.73v6.70h-6.73zM1032.2 251.4h6.73v6.70h-6.73zM1038.8 251.4h6.73v6.70h-6.73zM1084.8 251.4h6.73v6.70h-6.73zM973.0 258.0h6.73v6.70h-6.73zM986.1 258.0h6.73v6.70h-6.73zM1005.9 258.0h6.73v6.70h-6.73zM1032.2 258.0h6.73v6.70h-6.73zM1078.3 258.0h6.73v6.70h-6.73zM1117.7 258.0h6.73v6.70h-6.73zM933.5 264.5h6.73v6.70h-6.73zM959.8 264.5h6.73v6.70h-6.73zM1005.9 264.5h6.73v6.70h-6.73zM1038.8 264.5h6.73v6.70h-6.73zM1058.5 264.5h6.73v6.70h-6.73zM1071.7 264.5h6.73v6.70h-6.73zM1032.2 271.1h6.73v6.70h-6.73zM1078.3 271.1h6.73v6.70h-6.73zM1091.4 271.1h6.73v6.70h-6.73zM1117.7 271.1h6.73v6.70h-6.73zM1012.5 277.6h6.73v6.70h-6.73zM1045.4 277.6h6.73v6.70h-6.73zM1111.2 277.6h6.73v6.70h-6.73zM933.5 284.2h6.73v6.70h-6.73zM999.3 284.2h6.73v6.70h-6.73zM1078.3 284.2h6.73v6.70h-6.73zM992.7 290.7h6.73v6.70h-6.73zM999.3 290.7h6.73v6.70h-6.73zM1117.7 290.7h6.73v6.70h-6.73zM940.1 297.3h6.73v6.70h-6.73zM979.6 297.3h6.73v6.70h-6.73zM1045.4 297.3h6.73v6.70h-6.73zM966.4 303.8h6.73v6.70h-6.73zM1012.5 303.8h6.73v6.70h-6.73zM1019.0 303.8h6.73v6.70h-6.73zM1065.1 303.8h6.73v6.70h-6.73zM953.2 349.7h6.73v6.70h-6.73zM933.5 356.2h6.73v6.70h-6.73zM933.5 362.8h6.73v6.70h-6.73zM946.7 362.8h6.73v6.70h-6.73zM940.1 369.3h6.73v6.70h-6.73zM940.1 375.9h6.73v6.70h-6.73zM946.7 375.9h6.73v6.70h-6.73zM933.5 382.4h6.73v6.70h-6.73zM1065.1 409.6h6.73v6.69h-6.73zM1071.7 409.6h6.73v6.69h-6.73zM1078.3 409.6h6.73v6.69h-6.73zM1051.9 416.1h6.73v6.69h-6.73zM1091.4 416.1h6.73v6.69h-6.73zM1104.6 416.1h6.73v6.69h-6.73zM1117.7 416.1h6.73v6.69h-6.73zM1005.9 422.7h6.73v6.69h-6.73zM999.3 429.2h6.73v6.69h-6.73zM1005.9 429.2h6.73v6.69h-6.73zM979.6 435.8h6.73v6.69h-6.73zM1012.5 435.8h6.73v6.69h-6.73zM1032.2 435.8h6.73v6.69h-6.73zM1045.4 435.8h6.73v6.69h-6.73zM1078.3 435.8h6.73v6.69h-6.73zM999.3 442.3h6.73v6.69h-6.73zM1005.9 442.3h6.73v6.69h-6.73zM1032.2 442.3h6.73v6.69h-6.73zM1045.4 442.3h6.73v6.69h-6.73zM1058.5 442.3h6.73v6.69h-6.73zM1078.3 442.3h6.73v6.69h-6.73zM1025.6 448.9h6.73v6.69h-6.73zM1084.8 448.9h6.73v6.69h-6.73zM1012.5 455.4h6.73v6.69h-6.73zM1045.4 455.4h6.73v6.69h-6.73zM1078.3 455.4h6.73v6.69h-6.73zM1098.0 455.4h6.73v6.69h-6.73zM979.6 461.9h6.73v6.69h-6.73zM1051.9 461.9h6.73v6.69h-6.73zM1058.5 461.9h6.73v6.69h-6.73zM1019.0 468.5h6.73v6.69h-6.73zM1025.6 468.5h6.73v6.69h-6.73zM1045.4 468.5h6.73v6.69h-6.73zM1117.7 468.5h6.73v6.69h-6.73zM1005.9 475.0h6.73v6.69h-6.73zM1045.4 475.0h6.73v6.69h-6.73zM1051.9 475.0h6.73v6.69h-6.73zM1124.3 475.0h6.73v6.69h-6.73zM966.4 481.6h6.73v6.69h-6.73zM1051.9 481.6h6.73v6.69h-6.73zM1078.3 481.6h6.73v6.69h-6.73zM1084.8 481.6h6.73v6.69h-6.73zM1117.7 481.6h6.73v6.69h-6.73zM1124.3 481.6h6.73v6.69h-6.73zM999.3 488.1h6.73v6.69h-6.73zM1005.9 488.1h6.73v6.69h-6.73zM1019.0 488.1h6.73v6.69h-6.73zM1038.8 488.1h6.73v6.69h-6.73zM1058.5 488.1h6.73v6.69h-6.73zM1084.8 488.1h6.73v6.69h-6.73zM1005.9 494.6h6.73v6.69h-6.73zM1019.0 494.6h6.73v6.69h-6.73zM1091.4 494.6h6.73v6.69h-6.73zM1117.7 494.6h6.73v6.69h-6.73zM979.6 501.2h6.73v6.69h-6.73zM1005.9 501.2h6.73v6.69h-6.73zM1012.5 501.2h6.73v6.69h-6.73zM1045.4 501.2h6.73v6.69h-6.73zM1051.9 501.2h6.73v6.69h-6.73zM1065.1 501.2h6.73v6.69h-6.73zM973.0 507.7h6.73v6.69h-6.73zM1012.5 507.7h6.73v6.69h-6.73zM1032.2 507.7h6.73v6.69h-6.73zM1038.8 507.7h6.73v6.69h-6.73zM1084.8 507.7h6.73v6.69h-6.73zM1012.5 514.3h6.73v6.69h-6.73zM1019.0 514.3h6.73v6.69h-6.73zM1071.7 514.3h6.73v6.69h-6.73zM979.6 520.8h6.73v6.69h-6.73zM1005.9 520.8h6.73v6.69h-6.73zM1051.9 520.8h6.73v6.69h-6.73zM1005.9 527.4h6.73v6.69h-6.73zM1065.1 527.4h6.73v6.69h-6.73zM1071.7 527.4h6.73v6.69h-6.73zM1124.3 527.4h6.73v6.69h-6.73zM1124.3 533.9h6.73v6.69h-6.73zM1045.4 540.4h6.73v6.69h-6.73zM1065.1 540.4h6.73v6.69h-6.73zM959.8 547.0h6.73v6.69h-6.73zM999.3 547.0h6.73v6.69h-6.73zM1005.9 547.0h6.73v6.69h-6.73zM1104.6 553.5h6.73v6.69h-6.73zM1025.6 560.1h6.73v6.69h-6.73zM933.5 586.2h6.73v6.69h-6.73zM959.8 592.8h6.73v6.69h-6.73zM999.3 605.9h6.73v6.69h-6.73zM1244.2 409.6h6.73v6.69h-6.73zM1310.0 409.6h6.73v6.69h-6.73zM1231.0 416.1h6.73v6.69h-6.73zM1263.9 416.1h6.73v6.69h-6.73zM1263.9 422.7h6.73v6.69h-6.73zM1270.5 422.7h6.73v6.69h-6.73zM1310.0 429.2h6.73v6.69h-6.73zM1283.7 435.8h6.73v6.69h-6.73zM1277.1 442.3h6.73v6.69h-6.73zM1270.5 448.9h6.73v6.69h-6.73zM1257.3 455.4h6.73v6.69h-6.73zM1263.9 455.4h6.73v6.69h-6.73zM1237.6 461.9h6.73v6.69h-6.73zM1290.2 461.9h6.73v6.69h-6.73zM1224.4 475.0h6.73v6.69h-6.73zM1277.1 475.0h6.73v6.69h-6.73zM1237.6 481.6h6.73v6.69h-6.73zM1290.2 481.6h6.73v6.69h-6.73zM1303.4 488.1h6.73v6.69h-6.73zM1310.0 488.1h6.73v6.69h-6.73zM1217.9 494.6h6.73v6.69h-6.73zM1237.6 494.6h6.73v6.69h-6.73zM1283.7 494.6h6.73v6.69h-6.73zM1310.0 494.6h6.73v6.69h-6.73zM1316.6 494.6h6.73v6.69h-6.73zM1250.8 501.2h6.73v6.69h-6.73zM1263.9 501.2h6.73v6.69h-6.73zM1310.0 501.2h6.73v6.69h-6.73zM1211.3 507.7h6.73v6.69h-6.73zM1303.4 507.7h6.73v6.69h-6.73zM1316.6 507.7h6.73v6.69h-6.73zM1296.8 520.8h6.73v6.69h-6.73zM1244.2 527.4h6.73v6.69h-6.73zM1257.3 527.4h6.73v6.69h-6.73zM1270.5 527.4h6.73v6.69h-6.73zM1323.1 527.4h6.73v6.69h-6.73zM1263.9 533.9h6.73v6.69h-6.73zM1277.1 533.9h6.73v6.69h-6.73zM1303.4 533.9h6.73v6.69h-6.73zM1323.1 540.4h6.73v6.69h-6.73zM1277.1 553.5h6.73v6.69h-6.73zM1250.8 560.1h6.73v6.69h-6.73zM1277.1 560.1h6.73v6.69h-6.73zM1257.3 566.6h6.73v6.69h-6.73zM1296.8 566.6h6.73v6.69h-6.73zM1310.0 566.6h6.73v6.69h-6.73zM1152.1 592.8h6.73v6.69h-6.73zM1178.4 592.8h6.73v6.69h-6.73zM1310.0 599.3h6.73v6.69h-6.73zM1158.6 605.9h6.73v6.69h-6.73zM1204.7 605.9h6.73v6.69h-6.73z"/>
<path fill="#54289b" d="M1071.7 205.6h6.73v6.70h-6.73zM1019.0 212.1h6.73v6.70h-6.73zM1032.2 212.1h6.73v6.70h-6.73zM1104.6 212.1h6.73v6.70h-6.73zM1019.0 218.7h6.73v6.70h-6.73zM1051.9 218.7h6.73v6.70h-6.73zM1058.5 218.7h6.73v6.70h-6.73zM1084.8 218.7h6.73v6.70h-6.73zM1104.6 218.7h6.73v6.70h-6.73zM1078.3 225.2h6.73v6.70h-6.73zM1019.0 231.8h6.73v6.70h-6.73zM1104.6 231.8h6.73v6.70h-6.73zM1065.1 244.9h6.73v6.70h-6.73zM1005.9 251.4h6.73v6.70h-6.73zM1065.1 264.5h6.73v6.70h-6.73zM1071.7 435.8h6.73v6.69h-6.73zM1303.4 422.7h6.73v6.69h-6.73zM1329.7 422.7h6.73v6.69h-6.73zM1310.0 435.8h6.73v6.69h-6.73zM1316.6 435.8h6.73v6.69h-6.73zM1323.1 442.3h6.73v6.69h-6.73zM1310.0 448.9h6.73v6.69h-6.73zM1310.0 455.4h6.73v6.69h-6.73zM1336.3 461.9h6.73v6.69h-6.73zM1336.3 468.5h6.73v6.69h-6.73zM1310.0 475.0h6.73v6.69h-6.73zM1316.6 475.0h6.73v6.69h-6.73zM1336.3 481.6h6.73v6.69h-6.73z"/>
<path fill="#966ac4" d="M1098.0 205.6h6.73v6.70h-6.73zM986.1 212.1h6.73v6.70h-6.73zM1012.5 218.7h6.73v6.70h-6.73zM1012.5 225.2h6.73v6.70h-6.73zM1005.9 231.8h6.73v6.70h-6.73zM1084.8 231.8h6.73v6.70h-6.73zM1032.2 238.3h6.73v6.70h-6.73zM1111.2 238.3h6.73v6.70h-6.73zM1038.8 244.9h6.73v6.70h-6.73zM1058.5 244.9h6.73v6.70h-6.73zM1078.3 244.9h6.73v6.70h-6.73zM1051.9 251.4h6.73v6.70h-6.73zM1098.0 251.4h6.73v6.70h-6.73zM1038.8 258.0h6.73v6.70h-6.73zM1058.5 258.0h6.73v6.70h-6.73zM1124.3 258.0h6.73v6.70h-6.73zM1111.2 264.5h6.73v6.70h-6.73zM986.1 271.1h6.73v6.70h-6.73zM1038.8 271.1h6.73v6.70h-6.73zM966.4 277.6h6.73v6.70h-6.73zM1005.9 277.6h6.73v6.70h-6.73zM1104.6 284.2h6.73v6.70h-6.73zM940.1 290.7h6.73v6.70h-6.73zM1078.3 290.7h6.73v6.70h-6.73zM1104.6 290.7h6.73v6.70h-6.73zM933.5 336.6h6.73v6.70h-6.73zM940.1 336.6h6.73v6.70h-6.73zM940.1 343.1h6.73v6.70h-6.73zM940.1 362.8h6.73v6.70h-6.73zM1025.6 409.6h6.73v6.69h-6.73zM1084.8 409.6h6.73v6.69h-6.73zM1025.6 416.1h6.73v6.69h-6.73zM1045.4 416.1h6.73v6.69h-6.73zM1058.5 416.1h6.73v6.69h-6.73zM1078.3 416.1h6.73v6.69h-6.73zM1098.0 416.1h6.73v6.69h-6.73zM1124.3 416.1h6.73v6.69h-6.73zM1071.7 422.7h6.73v6.69h-6.73zM1091.4 422.7h6.73v6.69h-6.73zM1117.7 422.7h6.73v6.69h-6.73zM1124.3 429.2h6.73v6.69h-6.73zM992.7 442.3h6.73v6.69h-6.73zM1025.6 442.3h6.73v6.69h-6.73zM1091.4 442.3h6.73v6.69h-6.73zM1111.2 448.9h6.73v6.69h-6.73zM1117.7 448.9h6.73v6.69h-6.73zM1019.0 455.4h6.73v6.69h-6.73zM1032.2 455.4h6.73v6.69h-6.73zM1124.3 455.4h6.73v6.69h-6.73zM1091.4 461.9h6.73v6.69h-6.73zM1104.6 461.9h6.73v6.69h-6.73zM1111.2 461.9h6.73v6.69h-6.73zM1117.7 461.9h6.73v6.69h-6.73zM1025.6 475.0h6.73v6.69h-6.73zM1065.1 475.0h6.73v6.69h-6.73zM1104.6 488.1h6.73v6.69h-6.73zM1045.4 494.6h6.73v6.69h-6.73zM1019.0 501.2h6.73v6.69h-6.73zM1032.2 501.2h6.73v6.69h-6.73zM1071.7 507.7h6.73v6.69h-6.73zM1025.6 514.3h6.73v6.69h-6.73zM1025.6 520.8h6.73v6.69h-6.73zM1032.2 520.8h6.73v6.69h-6.73zM1005.9 533.9h6.73v6.69h-6.73zM1025.6 540.4h6.73v6.69h-6.73zM946.7 592.8h6.73v6.69h-6.73zM953.2 599.3h6.73v6.69h-6.73zM953.2 605.9h6.73v6.69h-6.73zM1336.3 422.7h6.73v6.69h-6.73zM1290.2 429.2h6.73v6.69h-6.73zM1303.4 435.8h6.73v6.69h-6.73zM1336.3 442.3h6.73v6.69h-6.73zM1303.4 448.9h6.73v6.69h-6.73zM1270.5 455.4h6.73v6.69h-6.73zM1283.7 455.4h6.73v6.69h-6.73zM1290.2 455.4h6.73v6.69h-6.73zM1257.3 468.5h6.73v6.69h-6.73zM1270.5 468.5h6.73v6.69h-6.73zM1296.8 468.5h6.73v6.69h-6.73zM1303.4 468.5h6.73v6.69h-6.73zM1231.0 481.6h6.73v6.69h-6.73zM1316.6 501.2h6.73v6.69h-6.73zM1323.1 501.2h6.73v6.69h-6.73zM1244.2 507.7h6.73v6.69h-6.73zM1270.5 507.7h6.73v6.69h-6.73zM1336.3 507.7h6.73v6.69h-6.73zM1290.2 514.3h6.73v6.69h-6.73zM1303.4 514.3h6.73v6.69h-6.73zM1316.6 514.3h6.73v6.69h-6.73zM1336.3 514.3h6.73v6.69h-6.73zM1303.4 520.8h6.73v6.69h-6.73zM1263.9 527.4h6.73v6.69h-6.73zM1310.0 527.4h6.73v6.69h-6.73zM1336.3 547.0h6.73v6.69h-6.73zM1283.7 553.5h6.73v6.69h-6.73zM1237.6 566.6h6.73v6.69h-6.73zM1165.2 605.9h6.73v6.69h-6.73z"/>
<path fill="#622ea3" d="M1124.3 205.6h6.73v6.70h-6.73zM1058.5 212.1h6.73v6.70h-6.73zM1091.4 212.1h6.73v6.70h-6.73zM1098.0 212.1h6.73v6.70h-6.73zM1124.3 218.7h6.73v6.70h-6.73zM1032.2 225.2h6.73v6.70h-6.73zM1084.8 225.2h6.73v6.70h-6.73zM1051.9 231.8h6.73v6.70h-6.73zM1071.7 231.8h6.73v6.70h-6.73zM1098.0 231.8h6.73v6.70h-6.73zM1051.9 238.3h6.73v6.70h-6.73zM1078.3 429.2h6.73v6.69h-6.73zM1012.5 468.5h6.73v6.69h-6.73zM940.1 599.3h6.73v6.69h-6.73zM946.7 605.9h6.73v6.69h-6.73zM1316.6 409.6h6.73v6.69h-6.73zM1329.7 409.6h6.73v6.69h-6.73zM1336.3 409.6h6.73v6.69h-6.73zM1323.1 416.1h6.73v6.69h-6.73zM1336.3 429.2h6.73v6.69h-6.73zM1329.7 435.8h6.73v6.69h-6.73zM1316.6 442.3h6.73v6.69h-6.73zM1316.6 448.9h6.73v6.69h-6.73zM1329.7 455.4h6.73v6.69h-6.73zM1310.0 461.9h6.73v6.69h-6.73zM1316.6 468.5h6.73v6.69h-6.73zM1316.6 481.6h6.73v6.69h-6.73zM1323.1 481.6h6.73v6.69h-6.73zM1323.1 488.1h6.73v6.69h-6.73zM1303.4 494.6h6.73v6.69h-6.73z"/>
<path fill="#322b77" d="M1051.9 212.1h6.73v6.70h-6.73zM1065.1 212.1h6.73v6.70h-6.73zM1091.4 218.7h6.73v6.70h-6.73zM1045.4 225.2h6.73v6.70h-6.73zM1071.7 225.2h6.73v6.70h-6.73zM940.1 605.9h6.73v6.69h-6.73zM1329.7 442.3h6.73v6.69h-6.73zM1336.3 448.9h6.73v6.69h-6.73zM1329.7 475.0h6.73v6.69h-6.73z"/>
<path fill="#462a91" d="M1071.7 212.1h6.73v6.70h-6.73zM1078.3 212.1h6.73v6.70h-6.73zM1038.8 218.7h6.73v6.70h-6.73zM1045.4 218.7h6.73v6.70h-6.73zM1058.5 225.2h6.73v6.70h-6.73zM1071.7 238.3h6.73v6.70h-6.73zM1104.6 238.3h6.73v6.70h-6.73zM1091.4 244.9h6.73v6.70h-6.73zM1098.0 422.7h6.73v6.69h-6.73zM933.5 605.9h6.73v6.69h-6.73zM1323.1 409.6h6.73v6.69h-6.73zM1296.8 416.1h6.73v6.69h-6.73zM1329.7 416.1h6.73v6.69h-6.73zM1323.1 422.7h6.73v6.69h-6.73zM1323.1 448.9h6.73v6.69h-6.73zM1316.6 455.4h6.73v6.69h-6.73zM1323.1 461.9h6.73v6.69h-6.73zM1290.2 468.5h6.73v6.69h-6.73zM1323.1 468.5h6.73v6.69h-6.73zM1329.7 468.5h6.73v6.69h-6.73zM1310.0 481.6h6.73v6.69h-6.73zM1336.3 488.1h6.73v6.69h-6.73z"/>
<path fill="#3a2b85" d="M1084.8 212.1h6.73v6.70h-6.73zM1071.7 218.7h6.73v6.70h-6.73zM1078.3 218.7h6.73v6.70h-6.73zM1065.1 238.3h6.73v6.70h-6.73zM1071.7 251.4h6.73v6.70h-6.73zM946.7 599.3h6.73v6.69h-6.73zM1329.7 429.2h6.73v6.69h-6.73zM1336.3 455.4h6.73v6.69h-6.73z"/>
</g>
<path fill="#a9a5a6" d="M61.4 205.7C62.2 205.4 64.5 204.6 66.3 203.8C68.0 203.1 70.0 201.7 71.8 201.0C73.5 200.4 74.2 200.0 76.7 199.8C79.1 199.6 83.4 199.9 86.4 199.8C89.5 199.7 91.7 199.7 95.0 199.2C98.3 198.7 102.1 197.7 106.0 196.7C109.9 195.8 114.5 194.6 118.2 193.7C121.9 192.8 125.1 192.2 128.0 191.3C130.8 190.3 132.9 189.4 135.3 188.2C137.8 187.0 140.2 185.0 142.7 183.9C145.1 182.9 147.5 182.7 150.0 181.8C152.4 181.0 154.7 180.2 157.3 179.0C160.0 177.8 163.0 176.4 165.9 174.8C168.7 173.1 171.6 171.0 174.4 169.3C177.3 167.5 180.3 166.1 183.0 164.4C185.6 162.6 188.3 160.2 190.3 158.9C192.3 157.5 193.4 156.9 195.2 156.2C197.0 155.5 198.7 155.1 201.3 154.6C204.0 154.1 208.2 153.9 211.1 153.4C213.9 152.9 216.5 152.3 218.4 151.5C220.4 150.7 221.6 149.8 222.7 148.5C223.8 147.2 224.4 145.9 225.1 143.6C225.9 141.2 226.4 139.0 227.0 134.4C227.6 129.8 228.2 123.2 228.8 116.1C229.4 109.0 230.0 99.8 230.6 91.7C231.3 83.5 231.9 75.4 232.5 67.2C233.1 59.1 233.8 49.3 234.3 42.8C234.8 36.3 235.2 31.5 235.5 28.1C235.9 24.7 236.2 23.8 236.5 22.6C236.8 21.4 237.2 21.1 237.5 21.1C237.8 21.1 238.1 21.4 238.5 22.6C238.8 23.8 239.0 23.7 239.4 28.1C239.9 32.5 240.5 40.3 241.0 48.9C241.6 57.4 242.2 69.2 242.9 79.4C243.5 89.6 244.1 99.8 244.7 110.0C245.3 120.2 245.9 130.4 246.5 140.5C247.1 150.7 247.7 162.5 248.4 171.1C249.0 179.6 249.6 186.8 250.2 191.9C250.8 197.0 251.4 199.3 252.0 201.6C252.6 203.9 253.6 205.0 253.9 205.7L253.9 205.7 L61.4 205.7 Z"/>
<path fill="#a9a5a6" d="M254.4 410.1C259.5 409.8 274.1 409.1 285.1 408.6C296.0 408.2 310.4 407.8 320.1 407.1C329.9 406.4 335.7 405.5 343.5 404.6C351.3 403.6 361.0 402.5 366.9 401.6C372.7 400.8 375.5 400.1 378.6 399.3C381.7 398.5 383.3 398.0 385.6 397.0C387.9 395.9 389.9 394.5 392.6 392.9C395.3 391.2 398.8 389.1 402.0 387.0C405.1 385.0 408.4 382.9 411.3 380.6C414.2 378.3 417.0 375.6 419.5 373.0C422.0 370.4 424.4 367.7 426.5 364.8C428.6 361.9 430.8 358.6 432.3 355.5C433.9 352.3 434.8 349.6 435.9 346.1C436.9 342.6 438.0 338.5 438.8 334.4C439.6 330.3 440.0 326.4 440.5 321.6C441.0 316.7 441.4 310.9 441.7 305.2C442.1 299.6 442.3 293.5 442.6 287.7C442.9 281.8 443.2 276.0 443.5 270.1C443.7 264.3 444.0 257.9 444.3 252.6C444.5 247.3 444.7 242.5 445.0 238.6C445.2 234.7 445.4 231.5 445.7 229.2C445.9 226.9 446.1 225.0 446.4 224.8C446.6 224.6 446.8 225.8 447.1 228.1C447.3 230.4 447.5 233.5 447.8 238.6C448.1 243.6 448.4 250.3 448.7 258.4C449.1 266.6 449.5 277.9 449.9 287.7C450.3 297.4 450.7 307.1 451.1 316.9C451.4 326.6 451.7 335.4 452.2 346.1C452.7 356.8 453.4 372.0 454.0 381.2C454.6 390.3 455.1 396.4 455.7 401.1C456.3 405.7 457.0 407.7 457.5 409.2C458.0 410.7 458.5 409.9 458.6 410.1L458.6 410.0 L254.4 410.0 Z"/>
<path fill="#a9a5a6" d="M459.4 612.5C460.3 612.4 463.4 612.3 465.2 611.8C466.9 611.4 468.5 610.4 469.9 609.8C471.2 609.3 472.2 608.7 473.4 608.4C474.5 608.1 475.5 608.0 476.9 608.1C478.2 608.1 479.8 608.4 481.6 608.6C483.3 608.9 485.3 609.3 487.4 609.5C489.5 609.6 492.1 609.5 494.4 609.5C496.8 609.4 499.1 609.2 501.4 609.0C503.8 608.8 506.1 608.6 508.4 608.3C510.8 608.0 513.1 607.5 515.5 607.1C517.8 606.7 519.7 606.4 522.5 606.0C525.2 605.5 528.9 605.1 531.8 604.6C534.7 604.0 537.5 603.5 540.0 602.8C542.5 602.1 544.9 601.3 547.0 600.5C549.2 599.6 550.9 598.7 552.9 597.8C554.8 596.9 557.0 595.7 558.7 595.0C560.5 594.3 561.8 593.8 563.4 593.5C564.9 593.1 566.5 593.4 568.1 593.1C569.6 592.8 571.2 592.5 572.7 591.7C574.3 590.9 575.7 589.6 577.4 588.2C579.2 586.8 581.1 585.1 583.3 583.5C585.4 581.9 587.9 580.4 590.3 578.6C592.6 576.9 594.9 575.0 597.3 573.0C599.6 571.0 602.2 568.4 604.3 566.6C606.4 564.7 608.4 563.3 610.1 561.9C611.9 560.5 613.3 559.7 614.8 558.0C616.4 556.4 617.9 554.4 619.5 552.0C621.1 549.5 622.7 546.3 624.2 543.2C625.6 540.1 627.0 536.9 628.3 533.3C629.5 529.7 630.7 525.9 631.8 521.6C632.8 517.3 633.8 512.2 634.7 507.5C635.6 502.9 636.3 498.2 637.0 493.5C637.7 488.8 638.2 484.6 638.8 479.5C639.4 474.4 639.9 468.6 640.5 463.1C641.1 457.7 641.8 451.4 642.3 446.8C642.8 442.1 643.1 438.0 643.5 435.1C643.8 432.1 644.3 430.4 644.6 429.2C645.0 428.0 645.2 427.8 645.6 427.8C645.9 427.8 646.2 427.6 646.5 429.2C646.8 430.8 647.2 433.5 647.5 437.4C647.9 441.3 648.2 445.2 648.7 452.6C649.2 460.0 649.9 471.1 650.5 481.8C651.1 492.5 651.6 504.2 652.2 516.9C652.8 529.6 653.4 546.1 654.0 557.8C654.6 569.5 655.1 579.2 655.7 587.0C656.3 594.8 656.9 600.7 657.5 604.6C658.1 608.5 658.6 609.1 659.2 610.4C659.8 611.7 660.7 612.2 661.0 612.5L661.0 612.6 L459.4 612.6 Z"/>
<path fill="#a9a5a6" d="M937.2 204.7C938.2 204.3 941.5 203.8 943.3 202.2C945.2 200.7 946.8 198.7 948.2 195.5C949.6 192.4 950.7 188.0 951.9 183.3C953.1 178.6 954.4 172.9 955.6 167.4C956.7 161.9 957.6 155.8 958.6 150.3C959.6 144.8 960.7 138.7 961.7 134.4C962.6 130.1 963.2 127.1 964.1 124.6C965.0 122.2 966.2 120.7 967.2 119.8C968.1 118.8 968.7 118.7 969.6 118.8C970.5 118.9 971.5 119.5 972.7 120.4C973.8 121.2 975.1 122.9 976.3 124.0C977.5 125.2 978.9 126.6 980.0 127.3C981.1 128.1 982.0 128.4 983.0 128.3C984.1 128.3 985.0 128.1 986.1 127.1C987.2 126.1 988.5 124.2 989.8 122.2C991.0 120.2 992.2 117.4 993.4 114.9C994.7 112.3 995.9 109.4 997.1 106.9C998.3 104.5 999.3 102.3 1000.8 100.2C1002.2 98.1 1004.0 95.8 1005.7 94.1C1007.3 92.4 1008.7 91.4 1010.5 89.8C1012.4 88.2 1014.8 86.5 1016.7 84.3C1018.5 82.2 1019.9 80.0 1021.5 77.0C1023.2 73.9 1024.8 70.3 1026.4 66.0C1028.1 61.7 1029.9 55.8 1031.3 51.3C1032.7 46.8 1033.8 43.0 1035.0 39.1C1036.2 35.2 1037.5 31.0 1038.7 28.1C1039.8 25.3 1040.7 23.4 1041.7 22.0C1042.7 20.6 1043.7 20.0 1044.8 19.6C1045.8 19.1 1046.6 19.1 1047.8 19.2C1049.0 19.3 1050.7 19.9 1052.1 20.2C1053.5 20.4 1055.1 20.6 1056.4 20.5C1057.6 20.5 1058.3 19.9 1059.4 19.9C1060.5 20.0 1061.9 20.1 1063.1 20.8C1064.3 21.4 1065.3 22.2 1066.8 23.8C1068.2 25.5 1069.8 27.9 1071.6 30.6C1073.5 33.2 1075.7 36.5 1077.8 39.7C1079.8 43.0 1081.8 46.3 1083.9 50.1C1085.9 53.9 1087.9 57.8 1090.0 62.3C1092.0 66.8 1094.3 72.1 1096.1 77.0C1097.9 81.9 1099.3 86.4 1101.0 91.7C1102.6 96.9 1104.4 103.1 1105.9 108.8C1107.3 114.5 1108.3 119.6 1109.5 125.9C1110.8 132.2 1112.0 140.1 1113.2 146.6C1114.4 153.2 1115.6 159.3 1116.9 165.0C1118.1 170.7 1119.3 176.2 1120.5 180.9C1121.7 185.5 1123.0 189.8 1124.2 193.1C1125.4 196.3 1126.4 198.6 1127.9 200.4C1129.3 202.2 1131.1 203.4 1132.7 204.1C1134.4 204.8 1136.8 204.6 1137.6 204.7L1137.6 204.8 L937.2 204.8 Z"/>
<path fill="#a9a5a6" d="M1143.4 408.9C1144.7 408.7 1148.7 408.3 1150.8 407.6C1152.8 406.9 1153.8 405.9 1155.7 404.6C1157.5 403.3 1159.9 401.1 1161.8 399.7C1163.6 398.3 1165.0 397.1 1166.7 396.4C1168.3 395.6 1169.5 395.3 1171.5 395.2C1173.6 395.0 1176.6 395.5 1178.9 395.4C1181.1 395.3 1183.0 395.1 1185.0 394.4C1187.0 393.8 1189.1 392.5 1191.1 391.5C1193.1 390.5 1195.0 389.7 1197.2 388.7C1199.5 387.7 1202.3 386.9 1204.5 385.6C1206.8 384.4 1208.6 383.1 1210.7 381.4C1212.7 379.6 1214.7 377.3 1216.8 375.3C1218.8 373.2 1220.8 371.1 1222.9 369.1C1224.9 367.2 1226.9 365.8 1229.0 363.6C1231.0 361.5 1233.1 359.2 1235.1 356.3C1237.1 353.5 1239.2 349.8 1241.2 346.5C1243.2 343.3 1245.3 339.7 1247.3 336.8C1249.4 333.8 1251.4 331.3 1253.4 328.8C1255.5 326.4 1257.5 324.2 1259.5 322.1C1261.6 320.0 1263.6 318.2 1265.6 316.0C1267.7 313.7 1269.7 311.5 1271.8 308.7C1273.8 305.8 1275.8 302.5 1277.9 298.9C1279.9 295.2 1282.1 290.5 1284.0 286.7C1285.8 282.8 1287.2 279.7 1288.9 275.7C1290.5 271.6 1292.1 267.1 1293.8 262.2C1295.4 257.3 1297.2 251.0 1298.6 246.3C1300.1 241.6 1301.2 237.5 1302.3 234.1C1303.4 230.7 1304.4 227.9 1305.4 226.2C1306.3 224.4 1307.1 224.2 1307.8 223.7C1308.5 223.3 1309.0 223.3 1309.6 223.5C1310.3 223.7 1310.9 223.8 1311.5 224.9C1312.1 226.1 1312.7 227.9 1313.3 230.4C1313.9 233.0 1314.5 236.3 1315.1 240.2C1315.8 244.1 1316.4 248.6 1317.0 253.7C1317.6 258.8 1318.2 264.7 1318.8 270.8C1319.4 276.9 1320.0 283.4 1320.6 290.3C1321.3 297.2 1321.9 305.2 1322.5 312.3C1323.1 319.4 1323.7 326.2 1324.3 333.1C1324.9 340.0 1325.5 347.6 1326.1 353.9C1326.7 360.2 1327.4 365.7 1328.0 371.0C1328.6 376.3 1329.1 381.2 1329.8 385.6C1330.5 390.1 1331.3 394.7 1332.2 397.9C1333.2 401.0 1334.2 402.9 1335.3 404.6C1336.4 406.3 1337.7 407.2 1339.0 407.9C1340.2 408.6 1342.0 408.7 1342.6 408.9L1342.6 409.2 L1143.4 409.2 Z"/>
<path fill="#a9a5a6" d="M1343.4 613.2C1344.5 612.8 1347.7 612.1 1349.6 610.8C1351.4 609.5 1352.9 607.8 1354.4 605.3C1356.0 602.8 1357.4 599.2 1358.7 595.5C1360.0 591.9 1361.3 587.2 1362.4 583.3C1363.5 579.4 1364.4 575.7 1365.4 572.3C1366.5 568.9 1367.5 565.5 1368.5 563.1C1369.5 560.8 1370.5 559.4 1371.5 558.3C1372.6 557.1 1373.5 556.5 1374.6 556.4C1375.7 556.3 1376.9 556.9 1378.3 557.6C1379.6 558.4 1381.0 559.8 1382.5 560.7C1384.1 561.6 1385.8 562.6 1387.4 562.9C1389.1 563.2 1390.5 563.2 1392.3 562.8C1394.2 562.3 1396.4 561.4 1398.4 560.1C1400.5 558.8 1402.5 557.2 1404.5 555.2C1406.6 553.2 1408.6 550.6 1410.7 547.9C1412.7 545.1 1414.7 541.6 1416.8 538.7C1418.8 535.9 1420.8 533.1 1422.9 530.8C1424.9 528.4 1426.9 526.6 1429.0 524.6C1431.0 522.7 1433.3 521.1 1435.1 519.1C1436.9 517.2 1438.4 515.8 1440.0 513.0C1441.6 510.3 1443.2 506.4 1444.9 502.7C1446.5 498.9 1448.1 494.5 1449.8 490.4C1451.4 486.4 1453.0 482.1 1454.6 478.2C1456.3 474.3 1458.1 470.2 1459.5 467.2C1461.0 464.3 1462.0 462.3 1463.2 460.5C1464.4 458.7 1465.6 457.2 1466.9 456.2C1468.1 455.2 1469.1 454.7 1470.5 454.4C1472.0 454.0 1473.8 454.4 1475.4 454.0C1477.1 453.7 1478.8 453.4 1480.3 452.3C1481.8 451.2 1483.2 449.7 1484.6 447.7C1486.0 445.7 1487.4 442.8 1488.9 440.3C1490.3 437.9 1491.8 434.9 1493.1 433.0C1494.5 431.1 1495.6 429.9 1496.8 429.1C1498.0 428.2 1499.3 427.9 1500.5 427.9C1501.7 427.9 1503.0 428.2 1504.1 429.1C1505.3 429.9 1506.2 430.9 1507.2 433.0C1508.2 435.1 1509.2 437.9 1510.3 441.5C1511.3 445.2 1512.4 450.1 1513.3 455.0C1514.2 459.9 1514.9 465.0 1515.8 470.9C1516.6 476.8 1517.4 483.9 1518.2 490.4C1519.0 496.9 1519.8 503.1 1520.6 510.0C1521.5 516.9 1522.3 524.6 1523.1 532.0C1523.9 539.3 1524.7 547.1 1525.5 554.0C1526.3 560.9 1527.2 567.6 1528.0 573.5C1528.8 579.4 1529.5 584.7 1530.4 589.4C1531.3 594.1 1532.5 598.6 1533.5 601.6C1534.5 604.7 1535.4 606.1 1536.5 607.7C1537.6 609.4 1538.7 610.5 1540.2 611.4C1541.7 612.3 1544.8 612.9 1545.7 613.2L1545.7 613.2 L1343.4 613.2 Z"/>
<line x1="50.0" y1="205.4" x2="660.4" y2="205.4" stroke="#6a6a6a" stroke-width="1.60"/>
<line x1="50.0" y1="410.0" x2="660.4" y2="410.0" stroke="#6a6a6a" stroke-width="1.60"/>
<line x1="254.4" y1="0.0" x2="254.4" y2="613.2" stroke="#2b2b2b" stroke-width="1.40"/>
<line x1="458.5" y1="0.0" x2="458.5" y2="613.2" stroke="#2b2b2b" stroke-width="1.40"/>
<line x1="934.0" y1="204.6" x2="1544.5" y2="204.6" stroke="#4a4a4a" stroke-width="1.30"/>
<line x1="934.0" y1="409.1" x2="1544.5" y2="409.1" stroke="#4a4a4a" stroke-width="1.30"/>
<line x1="1138.6" y1="0.0" x2="1138.6" y2="613.2" stroke="#2b2b2b" stroke-width="1.40"/>
<line x1="1342.7" y1="0.0" x2="1342.7" y2="613.2" stroke="#2b2b2b" stroke-width="1.40"/>
<text x="-1.5" y="37.6" font-size="42.0" fill="#000" text-anchor="start" font-weight="bold">a</text>
<text x="868.5" y="37.6" font-size="42.0" fill="#000" text-anchor="start" font-weight="bold">b</text>
<text x="-1.5" y="683.6" font-size="42.0" fill="#000" text-anchor="start" font-weight="bold">c</text>
<text x="151.0" y="112.7" font-size="29.0" fill="#000" text-anchor="middle">REP</text>
<text x="347.4" y="316.1" font-size="29.0" fill="#000" text-anchor="middle">CTD2</text>
<text x="547.6" y="519.5" font-size="29.0" fill="#000" text-anchor="middle">GDSC</text>
<text x="1042.9" y="110.6" font-size="29.0" fill="#000" text-anchor="middle">REP</text>
<text x="1248.0" y="315.4" font-size="29.0" fill="#000" text-anchor="middle">CTD2</text>
<text x="1453.3" y="519.1" font-size="29.0" fill="#000" text-anchor="middle">GDSC</text>
<text x="297.3" y="109.7" font-size="29.5" fill="#000" text-anchor="start">0.61</text>
<text x="297.2" y="135.7" font-size="24.7" fill="#000" text-anchor="start">(0.60,0.61)</text>
<text x="500.4" y="112.1" font-size="29.5" fill="#000" text-anchor="start">0.60</text>
<text x="500.2" y="135.7" font-size="24.7" fill="#000" text-anchor="start">(0.59,0.61)</text>
<text x="500.5" y="312.7" font-size="29.5" fill="#000" text-anchor="start">0.62</text>
<text x="500.2" y="338.7" font-size="24.7" fill="#000" text-anchor="start">(0.61,0.63)</text>
<text x="1198.0" y="84.8" font-size="29.5" fill="#000" text-anchor="start">0.41</text>
<text x="1196.2" y="111.0" font-size="24.7" fill="#000" text-anchor="start">(0.40,0.43)</text>
<text x="1401.8" y="84.8" font-size="29.5" fill="#000" text-anchor="start">0.35</text>
<text x="1400.3" y="111.0" font-size="24.7" fill="#000" text-anchor="start">(0.33,0.37)</text>
<text x="1401.8" y="307.1" font-size="29.5" fill="#000" text-anchor="start">0.47</text>
<text x="1400.3" y="333.4" font-size="24.7" fill="#000" text-anchor="start">(0.46,0.49)</text>
<g shape-rendering="crispEdges">
<rect x="697.2" y="188.70" width="20.4" height="11.29" fill="#de2f1e"/>
<rect x="697.2" y="199.69" width="20.4" height="11.29" fill="#e2371d"/>
<rect x="697.2" y="210.67" width="20.4" height="11.29" fill="#e64122"/>
<rect x="697.2" y="221.65" width="20.4" height="11.29" fill="#eb4e2e"/>
<rect x="697.2" y="232.64" width="20.4" height="11.29" fill="#ef5a3a"/>
<rect x="697.2" y="243.62" width="20.4" height="11.29" fill="#f46645"/>
<rect x="697.2" y="254.61" width="20.4" height="11.29" fill="#f77251"/>
<rect x="697.2" y="265.59" width="20.4" height="11.29" fill="#fa7f5e"/>
<rect x="697.2" y="276.58" width="20.4" height="11.29" fill="#fb8a6c"/>
<rect x="697.2" y="287.56" width="20.4" height="11.29" fill="#fc9679"/>
<rect x="697.2" y="298.55" width="20.4" height="11.29" fill="#fca086"/>
<rect x="697.2" y="309.53" width="20.4" height="11.29" fill="#fdab94"/>
<rect x="697.2" y="320.52" width="20.4" height="11.29" fill="#fdb6a0"/>
<rect x="697.2" y="331.50" width="20.4" height="11.29" fill="#fec0ac"/>
<rect x="697.2" y="342.49" width="20.4" height="11.29" fill="#feccba"/>
<rect x="697.2" y="353.47" width="20.4" height="11.29" fill="#fed8c9"/>
<rect x="697.2" y="364.46" width="20.4" height="11.29" fill="#fee2d7"/>
<rect x="697.2" y="375.44" width="20.4" height="11.29" fill="#fee9e0"/>
<rect x="697.2" y="386.43" width="20.4" height="11.29" fill="#feefe8"/>
<rect x="697.2" y="397.41" width="20.4" height="11.29" fill="#fff5f1"/>
</g>
<g shape-rendering="crispEdges">
<rect x="1577.0" y="188.70" width="19.9" height="11.29" fill="#322b77"/>
<rect x="1577.0" y="199.69" width="19.9" height="11.29" fill="#3a2b85"/>
<rect x="1577.0" y="210.67" width="19.9" height="11.29" fill="#462a91"/>
<rect x="1577.0" y="221.65" width="19.9" height="11.29" fill="#54289b"/>
<rect x="1577.0" y="232.64" width="19.9" height="11.29" fill="#622ea3"/>
<rect x="1577.0" y="243.62" width="19.9" height="11.29" fill="#723baa"/>
<rect x="1577.0" y="254.61" width="19.9" height="11.29" fill="#7f4ab2"/>
<rect x="1577.0" y="265.59" width="19.9" height="11.29" fill="#8b5bbb"/>
<rect x="1577.0" y="276.58" width="19.9" height="11.29" fill="#966ac4"/>
<rect x="1577.0" y="287.56" width="19.9" height="11.29" fill="#a279cc"/>
<rect x="1577.0" y="298.55" width="19.9" height="11.29" fill="#ac87d3"/>
<rect x="1577.0" y="309.53" width="19.9" height="11.29" fill="#b794d9"/>
<rect x="1577.0" y="320.52" width="19.9" height="11.29" fill="#c1a2df"/>
<rect x="1577.0" y="331.50" width="19.9" height="11.29" fill="#caaee4"/>
<rect x="1577.0" y="342.49" width="19.9" height="11.29" fill="#d3bcea"/>
<rect x="1577.0" y="353.47" width="19.9" height="11.29" fill="#dcc8ee"/>
<rect x="1577.0" y="364.46" width="19.9" height="11.29" fill="#e3d4f2"/>
<rect x="1577.0" y="375.44" width="19.9" height="11.29" fill="#eaddf5"/>
<rect x="1577.0" y="386.43" width="19.9" height="11.29" fill="#f0e7f8"/>
<rect x="1577.0" y="397.41" width="19.9" height="11.29" fill="#f6f1fa"/>
</g>
<line x1="697.2" y1="231.3" x2="724.0" y2="231.3" stroke="#111" stroke-width="1.20"/>
<line x1="697.2" y1="301.3" x2="724.0" y2="301.3" stroke="#111" stroke-width="1.20"/>
<line x1="697.2" y1="371.2" x2="724.0" y2="371.2" stroke="#111" stroke-width="1.20"/>
<line x1="1577.0" y1="258.6" x2="1603.5" y2="258.6" stroke="#111" stroke-width="1.20"/>
<line x1="1577.0" y1="413.1" x2="1603.5" y2="413.1" stroke="#111" stroke-width="1.20"/>
<text x="697.0" y="181.6" font-size="19.0" fill="#000" text-anchor="start" textLength="54.5" lengthAdjust="spacing">Count</text>
<text x="1576.3" y="181.6" font-size="19.0" fill="#000" text-anchor="start" textLength="54.5" lengthAdjust="spacing">Count</text>
<text x="731.5" y="236.2" font-size="18.3" fill="#000" text-anchor="start" textLength="33.3" lengthAdjust="spacing">400</text>
<text x="731.5" y="308.6" font-size="18.3" fill="#000" text-anchor="start" textLength="22.0" lengthAdjust="spacing">40</text>
<text x="731.5" y="377.8" font-size="18.3" fill="#000" text-anchor="start">4</text>
<text x="1609.5" y="262.4" font-size="18.3" fill="#000" text-anchor="start">10</text>
<text x="1609.5" y="419.4" font-size="18.3" fill="#000" text-anchor="start">1</text>
<text x="700.6" y="459.3" font-size="25.0" fill="#000" text-anchor="start">n=16,650</text>
<text x="1583.2" y="458.9" font-size="25.0" fill="#000" text-anchor="start">n=9188</text>
<line x1="136.0" y1="666.3" x2="2015.0" y2="666.3" stroke="#cdc8c7" stroke-width="2.40"/>
<line x1="136.0" y1="852.3" x2="2015.0" y2="852.3" stroke="#cdc8c7" stroke-width="2.40"/>
<line x1="136.0" y1="1038.1" x2="2015.0" y2="1038.1" stroke="#cdc8c7" stroke-width="2.40"/>
<line x1="136.0" y1="1224.8" x2="2015.0" y2="1224.8" stroke="#cdc8c7" stroke-width="2.40"/>
<text x="122.3" y="677.2" font-size="24.3" fill="#4a4a4a" text-anchor="end">1.0</text>
<text x="122.3" y="861.7" font-size="24.3" fill="#4a4a4a" text-anchor="end">0.5</text>
<text x="122.3" y="1046.2" font-size="24.3" fill="#4a4a4a" text-anchor="end">0.0</text>
<text x="122.3" y="1230.8" font-size="24.3" fill="#4a4a4a" text-anchor="end">-0.5</text>
<text transform="translate(45.7,941.5) rotate(-90)" font-size="28.6" text-anchor="middle" textLength="404.5" lengthAdjust="spacing" fill="#111">Pearson Correlation with CTD2</text>
<g fill="#6a86d0" fill-opacity="0.53">
<rect x="147.15" y="996.8" width="4.7" height="199.2"/>
<rect x="169.46" y="1026.1" width="4.7" height="96.6"/>
<rect x="191.77" y="1022.5" width="4.7" height="94.9"/>
<rect x="214.08" y="948.1" width="4.7" height="208.7"/>
<rect x="236.39" y="925.4" width="4.7" height="243.8"/>
<rect x="258.70" y="1000.0" width="4.7" height="93.6"/>
<rect x="281.01" y="996.8" width="4.7" height="99.6"/>
<rect x="303.32" y="935.3" width="4.7" height="213.6"/>
<rect x="325.63" y="936.8" width="4.7" height="206.7"/>
<rect x="347.94" y="976.4" width="4.7" height="109.9"/>
<rect x="370.25" y="979.2" width="4.7" height="102.6"/>
<rect x="392.56" y="984.5" width="4.7" height="91.1"/>
<rect x="414.87" y="977.0" width="4.7" height="91.1"/>
<rect x="437.18" y="960.8" width="4.7" height="88.0"/>
<rect x="459.49" y="943.8" width="4.7" height="118.9"/>
<rect x="481.80" y="952.8" width="4.7" height="92.6"/>
<rect x="504.11" y="898.6" width="4.7" height="204.6"/>
<rect x="526.42" y="950.0" width="4.7" height="85.7"/>
<rect x="548.73" y="896.4" width="4.7" height="197.8"/>
<rect x="571.04" y="890.0" width="4.7" height="210.6"/>
<rect x="593.35" y="890.4" width="4.7" height="209.5"/>
<rect x="615.66" y="947.8" width="4.7" height="84.7"/>
<rect x="637.97" y="945.7" width="4.7" height="83.5"/>
<rect x="660.28" y="884.2" width="4.7" height="198.2"/>
<rect x="682.59" y="934.3" width="4.7" height="85.1"/>
<rect x="704.90" y="926.0" width="4.7" height="100.5"/>
<rect x="727.21" y="929.8" width="4.7" height="90.9"/>
<rect x="749.52" y="926.4" width="4.7" height="87.8"/>
<rect x="771.83" y="922.1" width="4.7" height="82.5"/>
<rect x="794.14" y="896.4" width="4.7" height="135.0"/>
<rect x="816.45" y="909.3" width="4.7" height="106.7"/>
<rect x="838.76" y="908.8" width="4.7" height="90.0"/>
<rect x="861.07" y="908.8" width="4.7" height="86.2"/>
<rect x="883.38" y="909.9" width="4.7" height="82.5"/>
<rect x="905.69" y="858.1" width="4.7" height="190.7"/>
<rect x="928.00" y="907.4" width="4.7" height="80.8"/>
<rect x="950.31" y="903.5" width="4.7" height="87.9"/>
<rect x="972.62" y="886.0" width="4.7" height="114.4"/>
<rect x="994.93" y="854.7" width="4.7" height="183.8"/>
<rect x="1017.24" y="898.2" width="4.7" height="79.9"/>
<rect x="1039.55" y="897.1" width="4.7" height="80.4"/>
<rect x="1061.86" y="891.3" width="4.7" height="86.2"/>
<rect x="1084.17" y="890.0" width="4.7" height="82.7"/>
<rect x="1106.48" y="888.5" width="4.7" height="87.5"/>
<rect x="1128.79" y="892.8" width="4.7" height="78.2"/>
<rect x="1151.10" y="891.1" width="4.7" height="76.3"/>
<rect x="1173.41" y="888.5" width="4.7" height="79.7"/>
<rect x="1195.72" y="873.6" width="4.7" height="87.8"/>
<rect x="1218.03" y="834.3" width="4.7" height="178.5"/>
<rect x="1240.34" y="875.3" width="4.7" height="79.2"/>
<rect x="1262.65" y="878.3" width="4.7" height="75.6"/>
<rect x="1284.96" y="878.1" width="4.7" height="72.2"/>
<rect x="1307.27" y="864.0" width="4.7" height="92.7"/>
<rect x="1329.58" y="867.4" width="4.7" height="83.6"/>
<rect x="1351.89" y="866.1" width="4.7" height="77.8"/>
<rect x="1374.20" y="856.7" width="4.7" height="83.5"/>
<rect x="1396.51" y="856.7" width="4.7" height="73.3"/>
<rect x="1418.82" y="855.0" width="4.7" height="75.6"/>
<rect x="1441.13" y="805.3" width="4.7" height="184.0"/>
<rect x="1463.44" y="837.2" width="4.7" height="100.3"/>
<rect x="1485.75" y="846.4" width="4.7" height="70.7"/>
<rect x="1508.06" y="841.0" width="4.7" height="79.3"/>
<rect x="1530.37" y="843.8" width="4.7" height="75.0"/>
<rect x="1552.68" y="843.2" width="4.7" height="71.8"/>
<rect x="1574.99" y="823.3" width="4.7" height="110.3"/>
<rect x="1597.30" y="838.5" width="4.7" height="66.8"/>
<rect x="1619.61" y="829.1" width="4.7" height="74.7"/>
<rect x="1641.92" y="828.2" width="4.7" height="73.9"/>
<rect x="1664.23" y="826.1" width="4.7" height="69.6"/>
<rect x="1686.54" y="821.4" width="4.7" height="67.1"/>
<rect x="1708.85" y="774.3" width="4.7" height="178.9"/>
<rect x="1731.16" y="811.1" width="4.7" height="67.1"/>
<rect x="1753.47" y="809.0" width="4.7" height="61.7"/>
<rect x="1775.78" y="799.3" width="4.7" height="75.2"/>
<rect x="1798.09" y="803.2" width="4.7" height="60.4"/>
<rect x="1820.40" y="737.0" width="4.7" height="225.8"/>
<rect x="1842.71" y="756.3" width="4.7" height="132.6"/>
<rect x="1865.02" y="784.1" width="4.7" height="55.5"/>
<rect x="1887.33" y="773.8" width="4.7" height="50.4"/>
<rect x="1909.64" y="761.4" width="4.7" height="73.9"/>
<rect x="1931.95" y="768.7" width="4.7" height="52.1"/>
<rect x="1954.26" y="742.1" width="4.7" height="64.3"/>
<rect x="1976.57" y="744.7" width="4.7" height="45.0"/>
<rect x="1998.88" y="666.5" width="4.7" height="337.4"/>
</g>
<g fill="#f3344d" fill-opacity="0.60">
<rect x="147.15" y="993.1" width="4.7" height="200.8"/>
<rect x="169.46" y="987.8" width="4.7" height="97.9"/>
<rect x="191.77" y="965.0" width="4.7" height="95.0"/>
<rect x="214.08" y="908.9" width="4.7" height="207.8"/>
<rect x="236.39" y="943.2" width="4.7" height="242.5"/>
<rect x="258.70" y="1010.7" width="4.7" height="93.2"/>
<rect x="281.01" y="998.9" width="4.7" height="99.2"/>
<rect x="303.32" y="851.7" width="4.7" height="200.8"/>
<rect x="325.63" y="917.5" width="4.7" height="206.3"/>
<rect x="347.94" y="951.1" width="4.7" height="108.4"/>
<rect x="370.25" y="928.2" width="4.7" height="99.6"/>
<rect x="392.56" y="955.8" width="4.7" height="90.2"/>
<rect x="414.87" y="985.0" width="4.7" height="90.6"/>
<rect x="437.18" y="970.6" width="4.7" height="87.9"/>
<rect x="459.49" y="924.8" width="4.7" height="117.4"/>
<rect x="481.80" y="900.1" width="4.7" height="87.7"/>
<rect x="504.11" y="837.1" width="4.7" height="188.1"/>
<rect x="526.42" y="999.9" width="4.7" height="86.8"/>
<rect x="548.73" y="855.7" width="4.7" height="188.5"/>
<rect x="571.04" y="882.3" width="4.7" height="208.6"/>
<rect x="593.35" y="902.8" width="4.7" height="211.7"/>
<rect x="615.66" y="905.8" width="4.7" height="80.2"/>
<rect x="637.97" y="890.6" width="4.7" height="77.6"/>
<rect x="660.28" y="847.6" width="4.7" height="187.6"/>
<rect x="682.59" y="912.1" width="4.7" height="82.9"/>
<rect x="704.90" y="916.8" width="4.7" height="100.0"/>
<rect x="727.21" y="982.1" width="4.7" height="95.6"/>
<rect x="749.52" y="953.2" width="4.7" height="89.5"/>
<rect x="771.83" y="898.6" width="4.7" height="79.2"/>
<rect x="794.14" y="873.7" width="4.7" height="130.3"/>
<rect x="816.45" y="877.3" width="4.7" height="101.2"/>
<rect x="838.76" y="906.7" width="4.7" height="90.0"/>
<rect x="861.07" y="959.6" width="4.7" height="92.8"/>
<rect x="883.38" y="901.1" width="4.7" height="82.1"/>
<rect x="905.69" y="940.0" width="4.7" height="201.4"/>
<rect x="928.00" y="927.5" width="4.7" height="82.7"/>
<rect x="950.31" y="932.0" width="4.7" height="91.5"/>
<rect x="972.62" y="910.4" width="4.7" height="118.9"/>
<rect x="994.93" y="877.2" width="4.7" height="190.7"/>
<rect x="1017.24" y="901.8" width="4.7" height="79.9"/>
<rect x="1039.55" y="832.8" width="4.7" height="68.2"/>
<rect x="1061.86" y="877.2" width="4.7" height="83.5"/>
<rect x="1084.17" y="851.5" width="4.7" height="69.2"/>
<rect x="1106.48" y="897.8" width="4.7" height="88.9"/>
<rect x="1128.79" y="847.2" width="4.7" height="70.3"/>
<rect x="1151.10" y="911.0" width="4.7" height="79.3"/>
<rect x="1173.41" y="886.4" width="4.7" height="78.6"/>
<rect x="1195.72" y="932.0" width="4.7" height="96.5"/>
<rect x="1218.03" y="905.3" width="4.7" height="197.1"/>
<rect x="1240.34" y="840.8" width="4.7" height="65.5"/>
<rect x="1262.65" y="900.8" width="4.7" height="78.6"/>
<rect x="1284.96" y="904.3" width="4.7" height="80.3"/>
<rect x="1307.27" y="918.8" width="4.7" height="105.4"/>
<rect x="1329.58" y="870.0" width="4.7" height="84.0"/>
<rect x="1351.89" y="938.1" width="4.7" height="87.8"/>
<rect x="1374.20" y="862.9" width="4.7" height="84.8"/>
<rect x="1396.51" y="930.6" width="4.7" height="84.0"/>
<rect x="1418.82" y="846.8" width="4.7" height="74.2"/>
<rect x="1441.13" y="891.4" width="4.7" height="203.1"/>
<rect x="1463.44" y="855.0" width="4.7" height="105.6"/>
<rect x="1485.75" y="874.3" width="4.7" height="80.3"/>
<rect x="1508.06" y="872.5" width="4.7" height="93.2"/>
<rect x="1530.37" y="822.6" width="4.7" height="70.1"/>
<rect x="1552.68" y="865.3" width="4.7" height="76.0"/>
<rect x="1574.99" y="919.9" width="4.7" height="133.7"/>
<rect x="1597.30" y="921.0" width="4.7" height="79.7"/>
<rect x="1619.61" y="885.0" width="4.7" height="87.4"/>
<rect x="1641.92" y="897.8" width="4.7" height="88.9"/>
<rect x="1664.23" y="852.5" width="4.7" height="76.5"/>
<rect x="1686.54" y="816.0" width="4.7" height="66.5"/>
<rect x="1708.85" y="794.0" width="4.7" height="194.9"/>
<rect x="1731.16" y="813.9" width="4.7" height="67.5"/>
<rect x="1753.47" y="912.5" width="4.7" height="82.0"/>
<rect x="1775.78" y="787.5" width="4.7" height="70.7"/>
<rect x="1798.09" y="824.6" width="4.7" height="70.3"/>
<rect x="1820.40" y="811.8" width="4.7" height="305.2"/>
<rect x="1842.71" y="860.0" width="4.7" height="194.5"/>
<rect x="1865.02" y="894.2" width="4.7" height="81.5"/>
<rect x="1887.33" y="846.3" width="4.7" height="70.4"/>
<rect x="1909.64" y="756.1" width="4.7" height="71.3"/>
<rect x="1931.95" y="868.1" width="4.7" height="79.7"/>
<rect x="1954.26" y="760.3" width="4.7" height="76.1"/>
<rect x="1976.57" y="810.0" width="4.7" height="70.3"/>
<rect x="1998.88" y="666.5" width="4.7" height="430.9"/>
</g>
<g fill="#6e001e" fill-opacity="0.12">
<rect x="147.15" y="996.8" width="4.7" height="197.1"/>
<rect x="169.46" y="1026.1" width="4.7" height="59.6"/>
<rect x="191.77" y="1022.5" width="4.7" height="37.5"/>
<rect x="214.08" y="948.1" width="4.7" height="168.6"/>
<rect x="236.39" y="943.2" width="4.7" height="226.0"/>
<rect x="258.70" y="1010.7" width="4.7" height="82.9"/>
<rect x="281.01" y="998.9" width="4.7" height="97.5"/>
<rect x="303.32" y="935.3" width="4.7" height="117.2"/>
<rect x="325.63" y="936.8" width="4.7" height="187.0"/>
<rect x="347.94" y="976.4" width="4.7" height="83.1"/>
<rect x="370.25" y="979.2" width="4.7" height="48.6"/>
<rect x="392.56" y="984.5" width="4.7" height="61.5"/>
<rect x="414.87" y="985.0" width="4.7" height="83.1"/>
<rect x="437.18" y="970.6" width="4.7" height="78.2"/>
<rect x="459.49" y="943.8" width="4.7" height="98.4"/>
<rect x="481.80" y="952.8" width="4.7" height="35.0"/>
<rect x="504.11" y="898.6" width="4.7" height="126.6"/>
<rect x="526.42" y="999.9" width="4.7" height="35.8"/>
<rect x="548.73" y="896.4" width="4.7" height="147.8"/>
<rect x="571.04" y="890.0" width="4.7" height="200.9"/>
<rect x="593.35" y="902.8" width="4.7" height="197.1"/>
<rect x="615.66" y="947.8" width="4.7" height="38.2"/>
<rect x="637.97" y="945.7" width="4.7" height="22.5"/>
<rect x="660.28" y="884.2" width="4.7" height="151.0"/>
<rect x="682.59" y="934.3" width="4.7" height="60.7"/>
<rect x="704.90" y="926.0" width="4.7" height="90.8"/>
<rect x="727.21" y="982.1" width="4.7" height="38.6"/>
<rect x="749.52" y="953.2" width="4.7" height="61.0"/>
<rect x="771.83" y="922.1" width="4.7" height="55.7"/>
<rect x="794.14" y="896.4" width="4.7" height="107.6"/>
<rect x="816.45" y="909.3" width="4.7" height="69.2"/>
<rect x="838.76" y="908.8" width="4.7" height="87.9"/>
<rect x="861.07" y="959.6" width="4.7" height="35.4"/>
<rect x="883.38" y="909.9" width="4.7" height="73.3"/>
<rect x="905.69" y="940.0" width="4.7" height="108.8"/>
<rect x="928.00" y="927.5" width="4.7" height="60.7"/>
<rect x="950.31" y="932.0" width="4.7" height="59.4"/>
<rect x="972.62" y="910.4" width="4.7" height="90.0"/>
<rect x="994.93" y="877.2" width="4.7" height="161.3"/>
<rect x="1017.24" y="901.8" width="4.7" height="76.3"/>
<rect x="1039.55" y="897.1" width="4.7" height="3.9"/>
<rect x="1061.86" y="891.3" width="4.7" height="69.4"/>
<rect x="1084.17" y="890.0" width="4.7" height="30.7"/>
<rect x="1106.48" y="897.8" width="4.7" height="78.2"/>
<rect x="1128.79" y="892.8" width="4.7" height="24.7"/>
<rect x="1151.10" y="911.0" width="4.7" height="56.4"/>
<rect x="1173.41" y="888.5" width="4.7" height="76.5"/>
<rect x="1195.72" y="932.0" width="4.7" height="29.4"/>
<rect x="1218.03" y="905.3" width="4.7" height="107.5"/>
<rect x="1240.34" y="875.3" width="4.7" height="31.0"/>
<rect x="1262.65" y="900.8" width="4.7" height="53.1"/>
<rect x="1284.96" y="904.3" width="4.7" height="46.0"/>
<rect x="1307.27" y="918.8" width="4.7" height="37.9"/>
<rect x="1329.58" y="870.0" width="4.7" height="81.0"/>
<rect x="1351.89" y="938.1" width="4.7" height="5.8"/>
<rect x="1374.20" y="862.9" width="4.7" height="77.3"/>
<rect x="1418.82" y="855.0" width="4.7" height="66.0"/>
<rect x="1441.13" y="891.4" width="4.7" height="97.9"/>
<rect x="1463.44" y="855.0" width="4.7" height="82.5"/>
<rect x="1485.75" y="874.3" width="4.7" height="42.8"/>
<rect x="1508.06" y="872.5" width="4.7" height="47.8"/>
<rect x="1530.37" y="843.8" width="4.7" height="48.9"/>
<rect x="1552.68" y="865.3" width="4.7" height="49.7"/>
<rect x="1574.99" y="919.9" width="4.7" height="13.7"/>
<rect x="1619.61" y="885.0" width="4.7" height="18.8"/>
<rect x="1641.92" y="897.8" width="4.7" height="4.3"/>
<rect x="1664.23" y="852.5" width="4.7" height="43.2"/>
<rect x="1686.54" y="821.4" width="4.7" height="61.1"/>
<rect x="1708.85" y="794.0" width="4.7" height="159.2"/>
<rect x="1731.16" y="813.9" width="4.7" height="64.3"/>
<rect x="1775.78" y="799.3" width="4.7" height="58.9"/>
<rect x="1798.09" y="824.6" width="4.7" height="39.0"/>
<rect x="1820.40" y="811.8" width="4.7" height="151.0"/>
<rect x="1842.71" y="860.0" width="4.7" height="28.9"/>
<rect x="1909.64" y="761.4" width="4.7" height="66.0"/>
<rect x="1954.26" y="760.3" width="4.7" height="46.1"/>
<rect x="1998.88" y="666.5" width="4.7" height="337.4"/>
</g>
<g fill="#6a86c8" fill-opacity="0.9">
<circle cx="149.50" cy="1101.3" r="8.6"/>
<circle cx="171.81" cy="1075.0" r="8.6"/>
<circle cx="194.12" cy="1070.7" r="8.6"/>
<circle cx="216.43" cy="1053.5" r="8.6"/>
<circle cx="238.74" cy="1048.8" r="8.6"/>
<circle cx="261.05" cy="1046.5" r="8.6"/>
<circle cx="283.36" cy="1046.0" r="8.6"/>
<circle cx="305.67" cy="1042.8" r="8.6"/>
<circle cx="327.98" cy="1040.2" r="8.6"/>
<circle cx="350.29" cy="1031.5" r="8.6"/>
<circle cx="372.60" cy="1030.6" r="8.6"/>
<circle cx="394.91" cy="1030.4" r="8.6"/>
<circle cx="417.22" cy="1022.0" r="8.6"/>
<circle cx="439.53" cy="1003.8" r="8.6"/>
<circle cx="461.84" cy="1002.5" r="8.6"/>
<circle cx="484.15" cy="998.5" r="8.6"/>
<circle cx="506.46" cy="997.6" r="8.6"/>
<circle cx="528.77" cy="991.8" r="8.6"/>
<circle cx="551.08" cy="991.8" r="8.6"/>
<circle cx="573.39" cy="991.3" r="8.6"/>
<circle cx="595.70" cy="990.7" r="8.6"/>
<circle cx="618.01" cy="989.4" r="8.6"/>
<circle cx="640.32" cy="986.8" r="8.6"/>
<circle cx="662.63" cy="978.5" r="8.6"/>
<circle cx="684.94" cy="976.1" r="8.6"/>
<circle cx="707.25" cy="975.3" r="8.6"/>
<circle cx="729.56" cy="974.8" r="8.6"/>
<circle cx="751.87" cy="969.3" r="8.6"/>
<circle cx="774.18" cy="962.2" r="8.6"/>
<circle cx="796.49" cy="960.9" r="8.6"/>
<circle cx="818.80" cy="960.7" r="8.6"/>
<circle cx="841.11" cy="951.7" r="8.6"/>
<circle cx="863.42" cy="951.5" r="8.6"/>
<circle cx="885.73" cy="950.0" r="8.6"/>
<circle cx="908.04" cy="947.5" r="8.6"/>
<circle cx="930.35" cy="946.8" r="8.6"/>
<circle cx="952.66" cy="946.4" r="8.6"/>
<circle cx="974.97" cy="941.0" r="8.6"/>
<circle cx="997.28" cy="940.2" r="8.6"/>
<circle cx="1019.59" cy="936.1" r="8.6"/>
<circle cx="1041.90" cy="935.9" r="8.6"/>
<circle cx="1064.21" cy="933.1" r="8.6"/>
<circle cx="1086.52" cy="931.4" r="8.6"/>
<circle cx="1108.83" cy="930.5" r="8.6"/>
<circle cx="1131.14" cy="930.3" r="8.6"/>
<circle cx="1153.45" cy="927.8" r="8.6"/>
<circle cx="1175.76" cy="927.1" r="8.6"/>
<circle cx="1198.07" cy="915.5" r="8.6"/>
<circle cx="1220.38" cy="915.5" r="8.6"/>
<circle cx="1242.69" cy="914.7" r="8.6"/>
<circle cx="1265.00" cy="913.8" r="8.6"/>
<circle cx="1287.31" cy="913.9" r="8.6"/>
<circle cx="1309.62" cy="909.0" r="8.6"/>
<circle cx="1331.93" cy="906.8" r="8.6"/>
<circle cx="1354.24" cy="903.4" r="8.6"/>
<circle cx="1376.55" cy="896.1" r="8.6"/>
<circle cx="1398.86" cy="891.4" r="8.6"/>
<circle cx="1421.17" cy="890.8" r="8.6"/>
<circle cx="1443.48" cy="886.9" r="8.6"/>
<circle cx="1465.79" cy="883.9" r="8.6"/>
<circle cx="1488.10" cy="881.3" r="8.6"/>
<circle cx="1510.41" cy="880.3" r="8.6"/>
<circle cx="1532.72" cy="879.2" r="8.6"/>
<circle cx="1555.03" cy="877.0" r="8.6"/>
<circle cx="1577.34" cy="873.8" r="8.6"/>
<circle cx="1599.65" cy="870.2" r="8.6"/>
<circle cx="1621.96" cy="864.4" r="8.6"/>
<circle cx="1644.27" cy="862.7" r="8.6"/>
<circle cx="1666.58" cy="858.9" r="8.6"/>
<circle cx="1688.89" cy="853.1" r="8.6"/>
<circle cx="1711.20" cy="849.7" r="8.6"/>
<circle cx="1733.51" cy="841.3" r="8.6"/>
<circle cx="1755.82" cy="837.7" r="8.6"/>
<circle cx="1778.13" cy="834.3" r="8.6"/>
<circle cx="1800.44" cy="831.9" r="8.6"/>
<circle cx="1822.75" cy="821.4" r="8.6"/>
<circle cx="1845.06" cy="811.3" r="8.6"/>
<circle cx="1867.37" cy="810.0" r="8.6"/>
<circle cx="1889.68" cy="797.2" r="8.6"/>
<circle cx="1911.99" cy="794.2" r="8.6"/>
<circle cx="1934.30" cy="792.5" r="8.6"/>
<circle cx="1956.61" cy="770.4" r="8.6"/>
<circle cx="1978.92" cy="765.3" r="8.6"/>
<circle cx="2001.23" cy="677.9" r="8.6"/>
</g>
<g fill="#de2436" fill-opacity="0.9">
<circle cx="149.50" cy="1097.9" r="8.6"/>
<circle cx="171.81" cy="1036.8" r="8.6"/>
<circle cx="194.12" cy="1011.5" r="8.6"/>
<circle cx="216.43" cy="1010.5" r="8.6"/>
<circle cx="238.74" cy="1067.9" r="8.6"/>
<circle cx="261.05" cy="1057.6" r="8.6"/>
<circle cx="283.36" cy="1048.4" r="8.6"/>
<circle cx="305.67" cy="944.7" r="8.6"/>
<circle cx="327.98" cy="1019.3" r="8.6"/>
<circle cx="350.29" cy="1004.5" r="8.6"/>
<circle cx="372.60" cy="977.3" r="8.6"/>
<circle cx="394.91" cy="1000.4" r="8.6"/>
<circle cx="417.22" cy="1030.8" r="8.6"/>
<circle cx="439.53" cy="1014.5" r="8.6"/>
<circle cx="461.84" cy="982.0" r="8.6"/>
<circle cx="484.15" cy="942.3" r="8.6"/>
<circle cx="506.46" cy="923.3" r="8.6"/>
<circle cx="528.77" cy="1043.2" r="8.6"/>
<circle cx="551.08" cy="943.1" r="8.6"/>
<circle cx="573.39" cy="981.7" r="8.6"/>
<circle cx="595.70" cy="1005.7" r="8.6"/>
<circle cx="618.01" cy="945.0" r="8.6"/>
<circle cx="640.32" cy="927.9" r="8.6"/>
<circle cx="662.63" cy="933.9" r="8.6"/>
<circle cx="684.94" cy="952.1" r="8.6"/>
<circle cx="707.25" cy="965.2" r="8.6"/>
<circle cx="729.56" cy="1029.9" r="8.6"/>
<circle cx="751.87" cy="997.3" r="8.6"/>
<circle cx="774.18" cy="936.7" r="8.6"/>
<circle cx="796.49" cy="935.4" r="8.6"/>
<circle cx="818.80" cy="925.5" r="8.6"/>
<circle cx="841.11" cy="950.0" r="8.6"/>
<circle cx="863.42" cy="1005.9" r="8.6"/>
<circle cx="885.73" cy="940.8" r="8.6"/>
<circle cx="908.04" cy="1040.2" r="8.6"/>
<circle cx="930.35" cy="968.2" r="8.6"/>
<circle cx="952.66" cy="977.0" r="8.6"/>
<circle cx="974.97" cy="967.8" r="8.6"/>
<circle cx="997.28" cy="967.6" r="8.6"/>
<circle cx="1019.59" cy="940.6" r="8.6"/>
<circle cx="1041.90" cy="864.8" r="8.6"/>
<circle cx="1064.21" cy="917.3" r="8.6"/>
<circle cx="1086.52" cy="885.8" r="8.6"/>
<circle cx="1108.83" cy="941.0" r="8.6"/>
<circle cx="1131.14" cy="880.4" r="8.6"/>
<circle cx="1153.45" cy="949.6" r="8.6"/>
<circle cx="1175.76" cy="924.3" r="8.6"/>
<circle cx="1198.07" cy="979.2" r="8.6"/>
<circle cx="1220.38" cy="1001.2" r="8.6"/>
<circle cx="1242.69" cy="873.3" r="8.6"/>
<circle cx="1265.00" cy="938.7" r="8.6"/>
<circle cx="1287.31" cy="944.1" r="8.6"/>
<circle cx="1309.62" cy="970.2" r="8.6"/>
<circle cx="1331.93" cy="909.8" r="8.6"/>
<circle cx="1354.24" cy="981.2" r="8.6"/>
<circle cx="1376.55" cy="903.6" r="8.6"/>
<circle cx="1398.86" cy="971.3" r="8.6"/>
<circle cx="1421.17" cy="881.5" r="8.6"/>
<circle cx="1443.48" cy="982.9" r="8.6"/>
<circle cx="1465.79" cy="904.7" r="8.6"/>
<circle cx="1488.10" cy="912.8" r="8.6"/>
<circle cx="1510.41" cy="917.3" r="8.6"/>
<circle cx="1532.72" cy="855.2" r="8.6"/>
<circle cx="1555.03" cy="901.5" r="8.6"/>
<circle cx="1577.34" cy="985.0" r="8.6"/>
<circle cx="1599.65" cy="959.7" r="8.6"/>
<circle cx="1621.96" cy="926.7" r="8.6"/>
<circle cx="1644.27" cy="940.7" r="8.6"/>
<circle cx="1666.58" cy="888.9" r="8.6"/>
<circle cx="1688.89" cy="847.3" r="8.6"/>
<circle cx="1711.20" cy="878.4" r="8.6"/>
<circle cx="1733.51" cy="845.0" r="8.6"/>
<circle cx="1755.82" cy="952.3" r="8.6"/>
<circle cx="1778.13" cy="819.9" r="8.6"/>
<circle cx="1800.44" cy="858.9" r="8.6"/>
<circle cx="1822.75" cy="948.2" r="8.6"/>
<circle cx="1845.06" cy="951.2" r="8.6"/>
<circle cx="1867.37" cy="933.7" r="8.6"/>
<circle cx="1889.68" cy="879.7" r="8.6"/>
<circle cx="1911.99" cy="787.1" r="8.6"/>
<circle cx="1934.30" cy="906.2" r="8.6"/>
<circle cx="1956.61" cy="794.0" r="8.6"/>
<circle cx="1978.92" cy="842.8" r="8.6"/>
<circle cx="2001.23" cy="686.4" r="8.6"/>
</g>
<line x1="136.0" y1="1472.0" x2="2015.0" y2="1472.0" stroke="#cdc8c7" stroke-width="2.40"/>
<line x1="136.0" y1="1657.9" x2="2015.0" y2="1657.9" stroke="#cdc8c7" stroke-width="2.40"/>
<line x1="136.0" y1="1844.2" x2="2015.0" y2="1844.2" stroke="#cdc8c7" stroke-width="2.40"/>
<line x1="136.0" y1="2030.6" x2="2015.0" y2="2030.6" stroke="#cdc8c7" stroke-width="2.40"/>
<text x="122.3" y="1480.9" font-size="24.3" fill="#4a4a4a" text-anchor="end">1.0</text>
<text x="122.3" y="1666.4" font-size="24.3" fill="#4a4a4a" text-anchor="end">0.5</text>
<text x="122.3" y="1852.6" font-size="24.3" fill="#4a4a4a" text-anchor="end">0.0</text>
<text x="122.3" y="2038.3" font-size="24.3" fill="#4a4a4a" text-anchor="end">-0.5</text>
<text transform="translate(45.7,1753.9) rotate(-90)" font-size="28.6" text-anchor="middle" textLength="412.0" lengthAdjust="spacing" fill="#111">Pearson Correlation with GDSC</text>
<g fill="#6a86d0" fill-opacity="0.53">
<rect x="147.15" y="1802.0" width="4.7" height="199.3"/>
<rect x="169.46" y="1831.8" width="4.7" height="96.6"/>
<rect x="191.77" y="1828.8" width="4.7" height="94.1"/>
<rect x="214.08" y="1753.8" width="4.7" height="208.3"/>
<rect x="236.39" y="1731.1" width="4.7" height="243.8"/>
<rect x="258.70" y="1805.9" width="4.7" height="93.2"/>
<rect x="281.01" y="1802.0" width="4.7" height="100.1"/>
<rect x="303.32" y="1741.4" width="4.7" height="213.2"/>
<rect x="325.63" y="1742.1" width="4.7" height="206.7"/>
<rect x="347.94" y="1782.1" width="4.7" height="109.7"/>
<rect x="370.25" y="1784.9" width="4.7" height="102.8"/>
<rect x="392.56" y="1790.3" width="4.7" height="91.4"/>
<rect x="414.87" y="1782.8" width="4.7" height="91.0"/>
<rect x="437.18" y="1766.5" width="4.7" height="88.0"/>
<rect x="459.49" y="1750.0" width="4.7" height="118.5"/>
<rect x="481.80" y="1758.5" width="4.7" height="92.8"/>
<rect x="504.11" y="1704.3" width="4.7" height="204.2"/>
<rect x="526.42" y="1755.3" width="4.7" height="86.2"/>
<rect x="548.73" y="1702.8" width="4.7" height="197.1"/>
<rect x="571.04" y="1696.0" width="4.7" height="209.9"/>
<rect x="593.35" y="1696.4" width="4.7" height="209.3"/>
<rect x="615.66" y="1753.8" width="4.7" height="84.0"/>
<rect x="637.97" y="1751.0" width="4.7" height="84.0"/>
<rect x="660.28" y="1690.0" width="4.7" height="197.7"/>
<rect x="682.59" y="1740.3" width="4.7" height="84.7"/>
<rect x="704.90" y="1731.3" width="4.7" height="101.2"/>
<rect x="727.21" y="1735.6" width="4.7" height="91.5"/>
<rect x="749.52" y="1732.0" width="4.7" height="87.6"/>
<rect x="771.83" y="1727.9" width="4.7" height="82.5"/>
<rect x="794.14" y="1702.2" width="4.7" height="134.5"/>
<rect x="816.45" y="1715.3" width="4.7" height="105.8"/>
<rect x="838.76" y="1715.0" width="4.7" height="89.6"/>
<rect x="861.07" y="1714.2" width="4.7" height="86.8"/>
<rect x="883.38" y="1715.7" width="4.7" height="82.0"/>
<rect x="905.69" y="1663.6" width="4.7" height="191.3"/>
<rect x="928.00" y="1713.1" width="4.7" height="80.8"/>
<rect x="950.31" y="1709.3" width="4.7" height="88.4"/>
<rect x="972.62" y="1691.7" width="4.7" height="115.0"/>
<rect x="994.93" y="1660.0" width="4.7" height="184.2"/>
<rect x="1017.24" y="1704.3" width="4.7" height="79.9"/>
<rect x="1039.55" y="1703.9" width="4.7" height="79.3"/>
<rect x="1061.86" y="1697.5" width="4.7" height="85.7"/>
<rect x="1084.17" y="1697.9" width="4.7" height="80.6"/>
<rect x="1106.48" y="1693.8" width="4.7" height="87.9"/>
<rect x="1128.79" y="1698.5" width="4.7" height="78.2"/>
<rect x="1151.10" y="1696.4" width="4.7" height="77.1"/>
<rect x="1173.41" y="1694.9" width="4.7" height="79.7"/>
<rect x="1195.72" y="1679.3" width="4.7" height="88.2"/>
<rect x="1218.03" y="1640.1" width="4.7" height="178.9"/>
<rect x="1240.34" y="1683.6" width="4.7" height="77.1"/>
<rect x="1262.65" y="1684.0" width="4.7" height="75.8"/>
<rect x="1284.96" y="1683.6" width="4.7" height="73.5"/>
<rect x="1307.27" y="1669.7" width="4.7" height="93.2"/>
<rect x="1329.58" y="1673.1" width="4.7" height="83.4"/>
<rect x="1351.89" y="1671.8" width="4.7" height="78.0"/>
<rect x="1374.20" y="1662.8" width="4.7" height="82.9"/>
<rect x="1396.51" y="1662.8" width="4.7" height="73.1"/>
<rect x="1418.82" y="1660.3" width="4.7" height="76.4"/>
<rect x="1441.13" y="1611.0" width="4.7" height="184.7"/>
<rect x="1463.44" y="1642.9" width="4.7" height="100.5"/>
<rect x="1485.75" y="1652.1" width="4.7" height="72.9"/>
<rect x="1508.06" y="1646.1" width="4.7" height="81.4"/>
<rect x="1530.37" y="1649.6" width="4.7" height="75.2"/>
<rect x="1552.68" y="1648.5" width="4.7" height="72.4"/>
<rect x="1574.99" y="1629.2" width="4.7" height="110.3"/>
<rect x="1597.30" y="1644.4" width="4.7" height="66.6"/>
<rect x="1619.61" y="1635.0" width="4.7" height="74.8"/>
<rect x="1641.92" y="1633.9" width="4.7" height="74.1"/>
<rect x="1664.23" y="1632.0" width="4.7" height="69.4"/>
<rect x="1686.54" y="1626.4" width="4.7" height="68.1"/>
<rect x="1708.85" y="1580.3" width="4.7" height="178.5"/>
<rect x="1731.16" y="1617.2" width="4.7" height="66.4"/>
<rect x="1753.47" y="1614.6" width="4.7" height="61.7"/>
<rect x="1775.78" y="1605.4" width="4.7" height="75.0"/>
<rect x="1798.09" y="1609.3" width="4.7" height="59.9"/>
<rect x="1820.40" y="1542.4" width="4.7" height="226.0"/>
<rect x="1842.71" y="1562.1" width="4.7" height="132.2"/>
<rect x="1865.02" y="1590.0" width="4.7" height="55.3"/>
<rect x="1887.33" y="1579.7" width="4.7" height="49.9"/>
<rect x="1909.64" y="1567.1" width="4.7" height="73.9"/>
<rect x="1931.95" y="1574.3" width="4.7" height="52.1"/>
<rect x="1954.26" y="1547.6" width="4.7" height="64.9"/>
<rect x="1976.57" y="1550.3" width="4.7" height="45.0"/>
<rect x="1998.88" y="1472.1" width="4.7" height="337.5"/>
</g>
<g fill="#f3344d" fill-opacity="0.60">
<rect x="147.15" y="1688.3" width="4.7" height="199.9"/>
<rect x="169.46" y="1790.0" width="4.7" height="96.5"/>
<rect x="191.77" y="1793.5" width="4.7" height="95.1"/>
<rect x="214.08" y="1598.3" width="4.7" height="165.6"/>
<rect x="236.39" y="1742.1" width="4.7" height="243.1"/>
<rect x="258.70" y="1766.7" width="4.7" height="92.1"/>
<rect x="281.01" y="1815.3" width="4.7" height="99.2"/>
<rect x="303.32" y="1670.3" width="4.7" height="205.4"/>
<rect x="325.63" y="1661.7" width="4.7" height="195.4"/>
<rect x="347.94" y="1703.5" width="4.7" height="103.3"/>
<rect x="370.25" y="1812.1" width="4.7" height="102.4"/>
<rect x="392.56" y="1804.0" width="4.7" height="91.0"/>
<rect x="414.87" y="1829.3" width="4.7" height="89.9"/>
<rect x="437.18" y="1768.8" width="4.7" height="87.9"/>
<rect x="459.49" y="1712.9" width="4.7" height="114.9"/>
<rect x="481.80" y="1767.1" width="4.7" height="92.8"/>
<rect x="504.11" y="1555.9" width="4.7" height="127.7"/>
<rect x="526.42" y="1769.9" width="4.7" height="86.3"/>
<rect x="548.73" y="1621.4" width="4.7" height="166.1"/>
<rect x="571.04" y="1645.4" width="4.7" height="196.7"/>
<rect x="593.35" y="1613.3" width="4.7" height="179.5"/>
<rect x="615.66" y="1738.8" width="4.7" height="82.9"/>
<rect x="637.97" y="1753.8" width="4.7" height="84.0"/>
<rect x="660.28" y="1708.2" width="4.7" height="200.3"/>
<rect x="682.59" y="1698.1" width="4.7" height="78.6"/>
<rect x="704.90" y="1784.2" width="4.7" height="103.5"/>
<rect x="727.21" y="1782.1" width="4.7" height="94.3"/>
<rect x="749.52" y="1776.7" width="4.7" height="90.7"/>
<rect x="771.83" y="1765.6" width="4.7" height="85.9"/>
<rect x="794.14" y="1670.1" width="4.7" height="128.1"/>
<rect x="816.45" y="1729.6" width="4.7" height="107.8"/>
<rect x="838.76" y="1692.3" width="4.7" height="86.2"/>
<rect x="861.07" y="1765.0" width="4.7" height="90.6"/>
<rect x="883.38" y="1700.0" width="4.7" height="80.6"/>
<rect x="905.69" y="1694.9" width="4.7" height="198.6"/>
<rect x="928.00" y="1748.9" width="4.7" height="85.1"/>
<rect x="950.31" y="1731.8" width="4.7" height="91.0"/>
<rect x="972.62" y="1732.8" width="4.7" height="120.6"/>
<rect x="994.93" y="1797.7" width="4.7" height="192.9"/>
<rect x="1017.24" y="1752.8" width="4.7" height="85.0"/>
<rect x="1039.55" y="1662.1" width="4.7" height="70.7"/>
<rect x="1061.86" y="1682.1" width="4.7" height="83.3"/>
<rect x="1084.17" y="1723.8" width="4.7" height="82.9"/>
<rect x="1106.48" y="1632.6" width="4.7" height="73.9"/>
<rect x="1128.79" y="1717.8" width="4.7" height="81.0"/>
<rect x="1151.10" y="1742.5" width="4.7" height="82.5"/>
<rect x="1173.41" y="1726.4" width="4.7" height="81.0"/>
<rect x="1195.72" y="1759.6" width="4.7" height="98.1"/>
<rect x="1218.03" y="1662.1" width="4.7" height="187.1"/>
<rect x="1240.34" y="1693.2" width="4.7" height="78.2"/>
<rect x="1262.65" y="1717.8" width="4.7" height="79.7"/>
<rect x="1284.96" y="1729.3" width="4.7" height="81.4"/>
<rect x="1307.27" y="1715.3" width="4.7" height="103.5"/>
<rect x="1329.58" y="1666.0" width="4.7" height="82.1"/>
<rect x="1351.89" y="1753.9" width="4.7" height="87.8"/>
<rect x="1374.20" y="1657.5" width="4.7" height="82.0"/>
<rect x="1396.51" y="1770.0" width="4.7" height="85.7"/>
<rect x="1418.82" y="1691.1" width="4.7" height="81.4"/>
<rect x="1441.13" y="1615.7" width="4.7" height="187.0"/>
<rect x="1463.44" y="1727.1" width="4.7" height="117.2"/>
<rect x="1485.75" y="1700.3" width="4.7" height="83.2"/>
<rect x="1508.06" y="1691.1" width="4.7" height="94.5"/>
<rect x="1530.37" y="1628.1" width="4.7" height="69.7"/>
<rect x="1552.68" y="1675.7" width="4.7" height="76.0"/>
<rect x="1574.99" y="1688.5" width="4.7" height="124.3"/>
<rect x="1597.30" y="1712.8" width="4.7" height="77.9"/>
<rect x="1619.61" y="1649.6" width="4.7" height="79.0"/>
<rect x="1641.92" y="1725.0" width="4.7" height="91.4"/>
<rect x="1664.23" y="1683.8" width="4.7" height="81.2"/>
<rect x="1686.54" y="1673.5" width="4.7" height="79.3"/>
<rect x="1708.85" y="1671.0" width="4.7" height="227.4"/>
<rect x="1731.16" y="1607.1" width="4.7" height="62.8"/>
<rect x="1753.47" y="1738.2" width="4.7" height="84.7"/>
<rect x="1775.78" y="1615.7" width="4.7" height="79.3"/>
<rect x="1798.09" y="1702.0" width="4.7" height="81.4"/>
<rect x="1820.40" y="1624.3" width="4.7" height="305.3"/>
<rect x="1842.71" y="1642.0" width="4.7" height="185.8"/>
<rect x="1865.02" y="1676.1" width="4.7" height="77.3"/>
<rect x="1887.33" y="1663.9" width="4.7" height="72.8"/>
<rect x="1909.64" y="1590.4" width="4.7" height="86.8"/>
<rect x="1931.95" y="1654.7" width="4.7" height="75.0"/>
<rect x="1954.26" y="1547.1" width="4.7" height="63.2"/>
<rect x="1976.57" y="1614.0" width="4.7" height="69.2"/>
<rect x="1998.88" y="1472.1" width="4.7" height="455.4"/>
</g>
<g fill="#6e001e" fill-opacity="0.12">
<rect x="147.15" y="1802.0" width="4.7" height="86.2"/>
<rect x="169.46" y="1831.8" width="4.7" height="54.7"/>
<rect x="191.77" y="1828.8" width="4.7" height="59.8"/>
<rect x="214.08" y="1753.8" width="4.7" height="10.1"/>
<rect x="236.39" y="1742.1" width="4.7" height="232.8"/>
<rect x="258.70" y="1805.9" width="4.7" height="52.9"/>
<rect x="281.01" y="1815.3" width="4.7" height="86.8"/>
<rect x="303.32" y="1741.4" width="4.7" height="134.3"/>
<rect x="325.63" y="1742.1" width="4.7" height="115.0"/>
<rect x="347.94" y="1782.1" width="4.7" height="24.7"/>
<rect x="370.25" y="1812.1" width="4.7" height="75.6"/>
<rect x="392.56" y="1804.0" width="4.7" height="77.7"/>
<rect x="414.87" y="1829.3" width="4.7" height="44.5"/>
<rect x="437.18" y="1768.8" width="4.7" height="85.7"/>
<rect x="459.49" y="1750.0" width="4.7" height="77.8"/>
<rect x="481.80" y="1767.1" width="4.7" height="84.2"/>
<rect x="526.42" y="1769.9" width="4.7" height="71.6"/>
<rect x="548.73" y="1702.8" width="4.7" height="84.7"/>
<rect x="571.04" y="1696.0" width="4.7" height="146.1"/>
<rect x="593.35" y="1696.4" width="4.7" height="96.4"/>
<rect x="615.66" y="1753.8" width="4.7" height="67.9"/>
<rect x="637.97" y="1753.8" width="4.7" height="81.2"/>
<rect x="660.28" y="1708.2" width="4.7" height="179.5"/>
<rect x="682.59" y="1740.3" width="4.7" height="36.4"/>
<rect x="704.90" y="1784.2" width="4.7" height="48.3"/>
<rect x="727.21" y="1782.1" width="4.7" height="45.0"/>
<rect x="749.52" y="1776.7" width="4.7" height="42.9"/>
<rect x="771.83" y="1765.6" width="4.7" height="44.8"/>
<rect x="794.14" y="1702.2" width="4.7" height="96.0"/>
<rect x="816.45" y="1729.6" width="4.7" height="91.5"/>
<rect x="838.76" y="1715.0" width="4.7" height="63.5"/>
<rect x="861.07" y="1765.0" width="4.7" height="36.0"/>
<rect x="883.38" y="1715.7" width="4.7" height="64.9"/>
<rect x="905.69" y="1694.9" width="4.7" height="160.0"/>
<rect x="928.00" y="1748.9" width="4.7" height="45.0"/>
<rect x="950.31" y="1731.8" width="4.7" height="65.9"/>
<rect x="972.62" y="1732.8" width="4.7" height="73.9"/>
<rect x="994.93" y="1797.7" width="4.7" height="46.5"/>
<rect x="1017.24" y="1752.8" width="4.7" height="31.4"/>
<rect x="1039.55" y="1703.9" width="4.7" height="28.9"/>
<rect x="1061.86" y="1697.5" width="4.7" height="67.9"/>
<rect x="1084.17" y="1723.8" width="4.7" height="54.7"/>
<rect x="1106.48" y="1693.8" width="4.7" height="12.7"/>
<rect x="1128.79" y="1717.8" width="4.7" height="58.9"/>
<rect x="1151.10" y="1742.5" width="4.7" height="31.0"/>
<rect x="1173.41" y="1726.4" width="4.7" height="48.2"/>
<rect x="1195.72" y="1759.6" width="4.7" height="7.9"/>
<rect x="1218.03" y="1662.1" width="4.7" height="156.9"/>
<rect x="1240.34" y="1693.2" width="4.7" height="67.5"/>
<rect x="1262.65" y="1717.8" width="4.7" height="42.0"/>
<rect x="1284.96" y="1729.3" width="4.7" height="27.8"/>
<rect x="1307.27" y="1715.3" width="4.7" height="47.6"/>
<rect x="1329.58" y="1673.1" width="4.7" height="75.0"/>
<rect x="1374.20" y="1662.8" width="4.7" height="76.7"/>
<rect x="1418.82" y="1691.1" width="4.7" height="45.6"/>
<rect x="1441.13" y="1615.7" width="4.7" height="180.0"/>
<rect x="1463.44" y="1727.1" width="4.7" height="16.3"/>
<rect x="1485.75" y="1700.3" width="4.7" height="24.7"/>
<rect x="1508.06" y="1691.1" width="4.7" height="36.4"/>
<rect x="1530.37" y="1649.6" width="4.7" height="48.2"/>
<rect x="1552.68" y="1675.7" width="4.7" height="45.2"/>
<rect x="1574.99" y="1688.5" width="4.7" height="51.0"/>
<rect x="1619.61" y="1649.6" width="4.7" height="60.2"/>
<rect x="1664.23" y="1683.8" width="4.7" height="17.6"/>
<rect x="1686.54" y="1673.5" width="4.7" height="21.0"/>
<rect x="1708.85" y="1671.0" width="4.7" height="87.8"/>
<rect x="1731.16" y="1617.2" width="4.7" height="52.7"/>
<rect x="1775.78" y="1615.7" width="4.7" height="64.7"/>
<rect x="1820.40" y="1624.3" width="4.7" height="144.1"/>
<rect x="1842.71" y="1642.0" width="4.7" height="52.3"/>
<rect x="1909.64" y="1590.4" width="4.7" height="50.6"/>
<rect x="1954.26" y="1547.6" width="4.7" height="62.7"/>
<rect x="1998.88" y="1472.1" width="4.7" height="337.5"/>
</g>
<g fill="#6a86c8" fill-opacity="0.9">
<circle cx="149.50" cy="1906.4" r="8.6"/>
<circle cx="171.81" cy="1880.7" r="8.6"/>
<circle cx="194.12" cy="1876.4" r="8.6"/>
<circle cx="216.43" cy="1859.2" r="8.6"/>
<circle cx="238.74" cy="1854.3" r="8.6"/>
<circle cx="261.05" cy="1852.2" r="8.6"/>
<circle cx="283.36" cy="1852.2" r="8.6"/>
<circle cx="305.67" cy="1848.3" r="8.6"/>
<circle cx="327.98" cy="1845.7" r="8.6"/>
<circle cx="350.29" cy="1836.7" r="8.6"/>
<circle cx="372.60" cy="1835.9" r="8.6"/>
<circle cx="394.91" cy="1835.7" r="8.6"/>
<circle cx="417.22" cy="1827.8" r="8.6"/>
<circle cx="439.53" cy="1809.5" r="8.6"/>
<circle cx="461.84" cy="1808.0" r="8.6"/>
<circle cx="484.15" cy="1804.0" r="8.6"/>
<circle cx="506.46" cy="1803.1" r="8.6"/>
<circle cx="528.77" cy="1797.5" r="8.6"/>
<circle cx="551.08" cy="1797.1" r="8.6"/>
<circle cx="573.39" cy="1797.1" r="8.6"/>
<circle cx="595.70" cy="1796.7" r="8.6"/>
<circle cx="618.01" cy="1795.2" r="8.6"/>
<circle cx="640.32" cy="1791.3" r="8.6"/>
<circle cx="662.63" cy="1784.2" r="8.6"/>
<circle cx="684.94" cy="1781.7" r="8.6"/>
<circle cx="707.25" cy="1780.6" r="8.6"/>
<circle cx="729.56" cy="1780.6" r="8.6"/>
<circle cx="751.87" cy="1775.0" r="8.6"/>
<circle cx="774.18" cy="1767.8" r="8.6"/>
<circle cx="796.49" cy="1766.5" r="8.6"/>
<circle cx="818.80" cy="1766.0" r="8.6"/>
<circle cx="841.11" cy="1758.1" r="8.6"/>
<circle cx="863.42" cy="1757.0" r="8.6"/>
<circle cx="885.73" cy="1755.5" r="8.6"/>
<circle cx="908.04" cy="1752.8" r="8.6"/>
<circle cx="930.35" cy="1752.5" r="8.6"/>
<circle cx="952.66" cy="1752.1" r="8.6"/>
<circle cx="974.97" cy="1746.1" r="8.6"/>
<circle cx="997.28" cy="1745.7" r="8.6"/>
<circle cx="1019.59" cy="1742.3" r="8.6"/>
<circle cx="1041.90" cy="1741.4" r="8.6"/>
<circle cx="1064.21" cy="1738.8" r="8.6"/>
<circle cx="1086.52" cy="1737.1" r="8.6"/>
<circle cx="1108.83" cy="1736.3" r="8.6"/>
<circle cx="1131.14" cy="1736.0" r="8.6"/>
<circle cx="1153.45" cy="1733.7" r="8.6"/>
<circle cx="1175.76" cy="1733.0" r="8.6"/>
<circle cx="1198.07" cy="1721.5" r="8.6"/>
<circle cx="1220.38" cy="1721.5" r="8.6"/>
<circle cx="1242.69" cy="1720.6" r="8.6"/>
<circle cx="1265.00" cy="1720.0" r="8.6"/>
<circle cx="1287.31" cy="1719.6" r="8.6"/>
<circle cx="1309.62" cy="1714.5" r="8.6"/>
<circle cx="1331.93" cy="1713.2" r="8.6"/>
<circle cx="1354.24" cy="1709.3" r="8.6"/>
<circle cx="1376.55" cy="1702.0" r="8.6"/>
<circle cx="1398.86" cy="1697.1" r="8.6"/>
<circle cx="1421.17" cy="1696.3" r="8.6"/>
<circle cx="1443.48" cy="1691.8" r="8.6"/>
<circle cx="1465.79" cy="1689.4" r="8.6"/>
<circle cx="1488.10" cy="1687.3" r="8.6"/>
<circle cx="1510.41" cy="1686.0" r="8.6"/>
<circle cx="1532.72" cy="1684.9" r="8.6"/>
<circle cx="1555.03" cy="1682.5" r="8.6"/>
<circle cx="1577.34" cy="1679.5" r="8.6"/>
<circle cx="1599.65" cy="1675.9" r="8.6"/>
<circle cx="1621.96" cy="1670.1" r="8.6"/>
<circle cx="1644.27" cy="1668.6" r="8.6"/>
<circle cx="1666.58" cy="1664.5" r="8.6"/>
<circle cx="1688.89" cy="1657.9" r="8.6"/>
<circle cx="1711.20" cy="1655.3" r="8.6"/>
<circle cx="1733.51" cy="1648.3" r="8.6"/>
<circle cx="1755.82" cy="1643.5" r="8.6"/>
<circle cx="1778.13" cy="1639.3" r="8.6"/>
<circle cx="1800.44" cy="1637.5" r="8.6"/>
<circle cx="1822.75" cy="1627.0" r="8.6"/>
<circle cx="1845.06" cy="1617.0" r="8.6"/>
<circle cx="1867.37" cy="1615.7" r="8.6"/>
<circle cx="1889.68" cy="1602.8" r="8.6"/>
<circle cx="1911.99" cy="1599.8" r="8.6"/>
<circle cx="1934.30" cy="1598.1" r="8.6"/>
<circle cx="1956.61" cy="1576.7" r="8.6"/>
<circle cx="1978.92" cy="1570.9" r="8.6"/>
<circle cx="2001.23" cy="1483.9" r="8.6"/>
</g>
<g fill="#de2436" fill-opacity="0.9">
<circle cx="149.50" cy="1783.6" r="8.6"/>
<circle cx="171.81" cy="1838.5" r="8.6"/>
<circle cx="194.12" cy="1840.8" r="8.6"/>
<circle cx="216.43" cy="1670.1" r="8.6"/>
<circle cx="238.74" cy="1866.1" r="8.6"/>
<circle cx="261.05" cy="1812.8" r="8.6"/>
<circle cx="283.36" cy="1865.2" r="8.6"/>
<circle cx="305.67" cy="1766.7" r="8.6"/>
<circle cx="327.98" cy="1752.8" r="8.6"/>
<circle cx="350.29" cy="1753.2" r="8.6"/>
<circle cx="372.60" cy="1863.5" r="8.6"/>
<circle cx="394.91" cy="1849.4" r="8.6"/>
<circle cx="417.22" cy="1874.5" r="8.6"/>
<circle cx="439.53" cy="1812.1" r="8.6"/>
<circle cx="461.84" cy="1768.4" r="8.6"/>
<circle cx="484.15" cy="1813.2" r="8.6"/>
<circle cx="506.46" cy="1608.6" r="8.6"/>
<circle cx="528.77" cy="1812.7" r="8.6"/>
<circle cx="551.08" cy="1698.1" r="8.6"/>
<circle cx="573.39" cy="1735.6" r="8.6"/>
<circle cx="595.70" cy="1692.5" r="8.6"/>
<circle cx="618.01" cy="1779.5" r="8.6"/>
<circle cx="640.32" cy="1795.0" r="8.6"/>
<circle cx="662.63" cy="1805.5" r="8.6"/>
<circle cx="684.94" cy="1736.7" r="8.6"/>
<circle cx="707.25" cy="1835.9" r="8.6"/>
<circle cx="729.56" cy="1828.8" r="8.6"/>
<circle cx="751.87" cy="1822.0" r="8.6"/>
<circle cx="774.18" cy="1808.0" r="8.6"/>
<circle cx="796.49" cy="1730.3" r="8.6"/>
<circle cx="818.80" cy="1782.1" r="8.6"/>
<circle cx="841.11" cy="1733.9" r="8.6"/>
<circle cx="863.42" cy="1808.9" r="8.6"/>
<circle cx="885.73" cy="1738.8" r="8.6"/>
<circle cx="908.04" cy="1790.2" r="8.6"/>
<circle cx="930.35" cy="1790.7" r="8.6"/>
<circle cx="952.66" cy="1775.9" r="8.6"/>
<circle cx="974.97" cy="1791.7" r="8.6"/>
<circle cx="997.28" cy="1897.8" r="8.6"/>
<circle cx="1019.59" cy="1794.7" r="8.6"/>
<circle cx="1041.90" cy="1697.0" r="8.6"/>
<circle cx="1064.21" cy="1721.7" r="8.6"/>
<circle cx="1086.52" cy="1764.5" r="8.6"/>
<circle cx="1108.83" cy="1667.5" r="8.6"/>
<circle cx="1131.14" cy="1757.5" r="8.6"/>
<circle cx="1153.45" cy="1783.2" r="8.6"/>
<circle cx="1175.76" cy="1765.2" r="8.6"/>
<circle cx="1198.07" cy="1807.8" r="8.6"/>
<circle cx="1220.38" cy="1749.3" r="8.6"/>
<circle cx="1242.69" cy="1731.1" r="8.6"/>
<circle cx="1265.00" cy="1756.4" r="8.6"/>
<circle cx="1287.31" cy="1769.1" r="8.6"/>
<circle cx="1309.62" cy="1765.7" r="8.6"/>
<circle cx="1331.93" cy="1705.3" r="8.6"/>
<circle cx="1354.24" cy="1797.2" r="8.6"/>
<circle cx="1376.55" cy="1696.0" r="8.6"/>
<circle cx="1398.86" cy="1812.4" r="8.6"/>
<circle cx="1421.17" cy="1730.1" r="8.6"/>
<circle cx="1443.48" cy="1698.8" r="8.6"/>
<circle cx="1465.79" cy="1784.3" r="8.6"/>
<circle cx="1488.10" cy="1740.6" r="8.6"/>
<circle cx="1510.41" cy="1736.3" r="8.6"/>
<circle cx="1532.72" cy="1660.7" r="8.6"/>
<circle cx="1555.03" cy="1711.9" r="8.6"/>
<circle cx="1577.34" cy="1746.2" r="8.6"/>
<circle cx="1599.65" cy="1750.5" r="8.6"/>
<circle cx="1621.96" cy="1687.3" r="8.6"/>
<circle cx="1644.27" cy="1769.3" r="8.6"/>
<circle cx="1666.58" cy="1723.0" r="8.6"/>
<circle cx="1688.89" cy="1711.5" r="8.6"/>
<circle cx="1711.20" cy="1778.3" r="8.6"/>
<circle cx="1733.51" cy="1636.3" r="8.6"/>
<circle cx="1755.82" cy="1779.8" r="8.6"/>
<circle cx="1778.13" cy="1652.3" r="8.6"/>
<circle cx="1800.44" cy="1741.4" r="8.6"/>
<circle cx="1822.75" cy="1761.4" r="8.6"/>
<circle cx="1845.06" cy="1727.1" r="8.6"/>
<circle cx="1867.37" cy="1713.2" r="8.6"/>
<circle cx="1889.68" cy="1698.6" r="8.6"/>
<circle cx="1911.99" cy="1629.6" r="8.6"/>
<circle cx="1934.30" cy="1690.5" r="8.6"/>
<circle cx="1956.61" cy="1574.3" r="8.6"/>
<circle cx="1978.92" cy="1646.1" r="8.6"/>
<circle cx="2001.23" cy="1495.1" r="8.6"/>
</g>
<g font-size="19.1" letter-spacing="-0.4" fill="#4a4a4a" stroke="#4a4a4a" stroke-width="0.22" text-anchor="middle">
<text transform="translate(153.40,1348) rotate(-90)">IMATINIB (51)</text>
<text transform="translate(175.71,1348) rotate(-90)">CISPLATIN (222)</text>
<text transform="translate(198.02,1348) rotate(-90)">OSI–930 (236)</text>
<text transform="translate(220.33,1348) rotate(-90)">SIROLIMUS (49)</text>
<text transform="translate(242.64,1348) rotate(-90)">PARTHENOLIDE (36)</text>
<text transform="translate(264.95,1348) rotate(-90)">RUXOLITINIB (243)</text>
<text transform="translate(287.26,1348) rotate(-90)">TEMOZOLOMIDE (214)</text>
<text transform="translate(309.57,1348) rotate(-90)">SORAFENIB (47)</text>
<text transform="translate(331.88,1348) rotate(-90)">GW–843682X (50)</text>
<text transform="translate(354.19,1348) rotate(-90)">METHOTREXATE (177)</text>
<text transform="translate(376.50,1348) rotate(-90)">NILOTINIB (201)</text>
<text transform="translate(398.81,1348) rotate(-90)">TAMOXIFEN (254)</text>
<text transform="translate(421.12,1348) rotate(-90)">PAC–1 (256)</text>
<text transform="translate(443.43,1348) rotate(-90)">CHIR–99021 (271)</text>
<text transform="translate(465.74,1348) rotate(-90)">TIPIFARNIB (148)</text>
<text transform="translate(488.05,1348) rotate(-90)">LINSITINIB (242)</text>
<text transform="translate(510.36,1348) rotate(-90)">PACLITAXEL (50)</text>
<text transform="translate(532.67,1348) rotate(-90)">BMS–345541 (279)</text>
<text transform="translate(554.98,1348) rotate(-90)">BI–2536 (53)</text>
<text transform="translate(577.29,1348) rotate(-90)">LAPATINIB (47)</text>
<text transform="translate(599.60,1348) rotate(-90)">ERLOTINIB (47)</text>
<text transform="translate(621.91,1348) rotate(-90)">JQ1–(+) (288)</text>
<text transform="translate(644.22,1348) rotate(-90)">OSI–027 (293)</text>
<text transform="translate(666.53,1348) rotate(-90)">ENTINOSTAT (52)</text>
<text transform="translate(688.84,1348) rotate(-90)">OLAPARIB (276)</text>
<text transform="translate(711.15,1348) rotate(-90)">IDELALISIB (197)</text>
<text transform="translate(733.46,1348) rotate(-90)">NAVITOCLAX (236)</text>
<text transform="translate(755.77,1348) rotate(-90)">I–BET–762 (255)</text>
<text transform="translate(778.08,1348) rotate(-90)">TPCA–1 (288)</text>
<text transform="translate(800.39,1348) rotate(-90)">TEMSIROLIMUS (107)</text>
<text transform="translate(822.70,1348) rotate(-90)">SERDEMETAN (172)</text>
<text transform="translate(845.01,1348) rotate(-90)">VORINOSTAT (236)</text>
<text transform="translate(867.32,1348) rotate(-90)">BEXAROTENE (246)</text>
<text transform="translate(889.63,1348) rotate(-90)">TW–37 (277)</text>
<text transform="translate(911.94,1348) rotate(-90)">BORTEZOMIB (52)</text>
<text transform="translate(934.25,1348) rotate(-90)">TG–101348 (286)</text>
<text transform="translate(956.56,1348) rotate(-90)">SB–525334 (239)</text>
<text transform="translate(978.87,1348) rotate(-90)">NVP–BEZ235 (140)</text>
<text transform="translate(1001.18,1348) rotate(-90)">SARACATINIB (55)</text>
<text transform="translate(1023.49,1348) rotate(-90)">ZSTK–474 (287)</text>
<text transform="translate(1045.80,1348) rotate(-90)">ETOPOSIDE (279)</text>
<text transform="translate(1068.11,1348) rotate(-90)">AZD8055 (243)</text>
<text transform="translate(1090.42,1348) rotate(-90)">DOXORUBICIN (281)</text>
<text transform="translate(1112.73,1348) rotate(-90)">NUTLIN–3 (232)</text>
<text transform="translate(1135.04,1348) rotate(-90)">FORETINIB (292)</text>
<text transform="translate(1157.35,1348) rotate(-90)">SNX–2112 (298)</text>
<text transform="translate(1179.66,1348) rotate(-90)">BMS–754807 (282)</text>
<text transform="translate(1201.97,1348) rotate(-90)">OBATOCLAX (217)</text>
<text transform="translate(1224.28,1348) rotate(-90)">CRIZOTINIB (54)</text>
<text transform="translate(1246.59,1348) rotate(-90)">SELUMETINIB (284)</text>
<text transform="translate(1268.90,1348) rotate(-90)">PHA–793887 (295)</text>
<text transform="translate(1291.21,1348) rotate(-90)">GDC–0941 (300)</text>
<text transform="translate(1313.52,1348) rotate(-90)">PEVONEDISTAT (181)</text>
<text transform="translate(1335.83,1348) rotate(-90)">MK–2206 (236)</text>
<text transform="translate(1358.14,1348) rotate(-90)">5–FLUOROURACIL (264)</text>
<text transform="translate(1380.45,1348) rotate(-90)">AXITINIB (225)</text>
<text transform="translate(1402.76,1348) rotate(-90)">PI–103 (285)</text>
<text transform="translate(1425.07,1348) rotate(-90)">MITOMYCIN–C (265)</text>
<text transform="translate(1447.38,1348) rotate(-90)">SUNITINIB (45)</text>
<text transform="translate(1469.69,1348) rotate(-90)">BELINOSTAT (146)</text>
<text transform="translate(1492.00,1348) rotate(-90)">FK–866 (261)</text>
<text transform="translate(1514.31,1348) rotate(-90)">GEMCITABINE (201)</text>
<text transform="translate(1536.62,1348) rotate(-90)">AZD7762 (251)</text>
<text transform="translate(1558.93,1348) rotate(-90)">CABOZANTINIB (274)</text>
<text transform="translate(1581.24,1348) rotate(-90)">DOCETAXEL (114)</text>
<text transform="translate(1603.55,1348) rotate(-90)">AZD6482 (304)</text>
<text transform="translate(1625.86,1348) rotate(-90)">SN–38 (231)</text>
<text transform="translate(1648.17,1348) rotate(-90)">BOSUTINIB (234)</text>
<text transform="translate(1670.48,1348) rotate(-90)">PAZOPANIB (260)</text>
<text transform="translate(1692.79,1348) rotate(-90)">YM–155 (260)</text>
<text transform="translate(1715.10,1348) rotate(-90)">DASATINIB (39)</text>
<text transform="translate(1737.41,1348) rotate(-90)">TANESPIMYCIN (253)</text>
<text transform="translate(1759.72,1348) rotate(-90)">PLX–4720 (281)</text>
<text transform="translate(1782.03,1348) rotate(-90)">GEFITINIB (184)</text>
<text transform="translate(1804.34,1348) rotate(-90)">QUIZARTINIB (272)</text>
<text transform="translate(1826.65,1348) rotate(-90)">MG–132 (21)</text>
<text transform="translate(1848.96,1348) rotate(-90)">NVP–TAE684 (51)</text>
<text transform="translate(1871.27,1348) rotate(-90)">TIVOZANIB (272)</text>
<text transform="translate(1893.58,1348) rotate(-90)">LINIFANIB (288)</text>
<text transform="translate(1915.89,1348) rotate(-90)">TRAMETINIB (129)</text>
<text transform="translate(1938.20,1348) rotate(-90)">MASITINIB (257)</text>
<text transform="translate(1960.51,1348) rotate(-90)">DABRAFENIB (123)</text>
<text transform="translate(1982.82,1348) rotate(-90)">AFATINIB (227)</text>
<text transform="translate(2005.13,1348) rotate(-90)">TOZASERTIB (4)</text>
</g>
<rect x="138" y="2066.5" width="30.8" height="30.8" fill="#e23a4e"/>
<rect x="605.5" y="2066.5" width="30.8" height="30.8" fill="#7b90cf"/>
<text x="176.0" y="2087.2" font-size="23.4" fill="#111" text-anchor="start" textLength="379" lengthAdjust="spacing">Broad: PRISM Repurposing (REP)</text>
<text x="643.6" y="2087.2" font-size="23.4" fill="#111" text-anchor="start" textLength="144" lengthAdjust="spacing">GDSC/CTD2</text>
</svg></body></html>
